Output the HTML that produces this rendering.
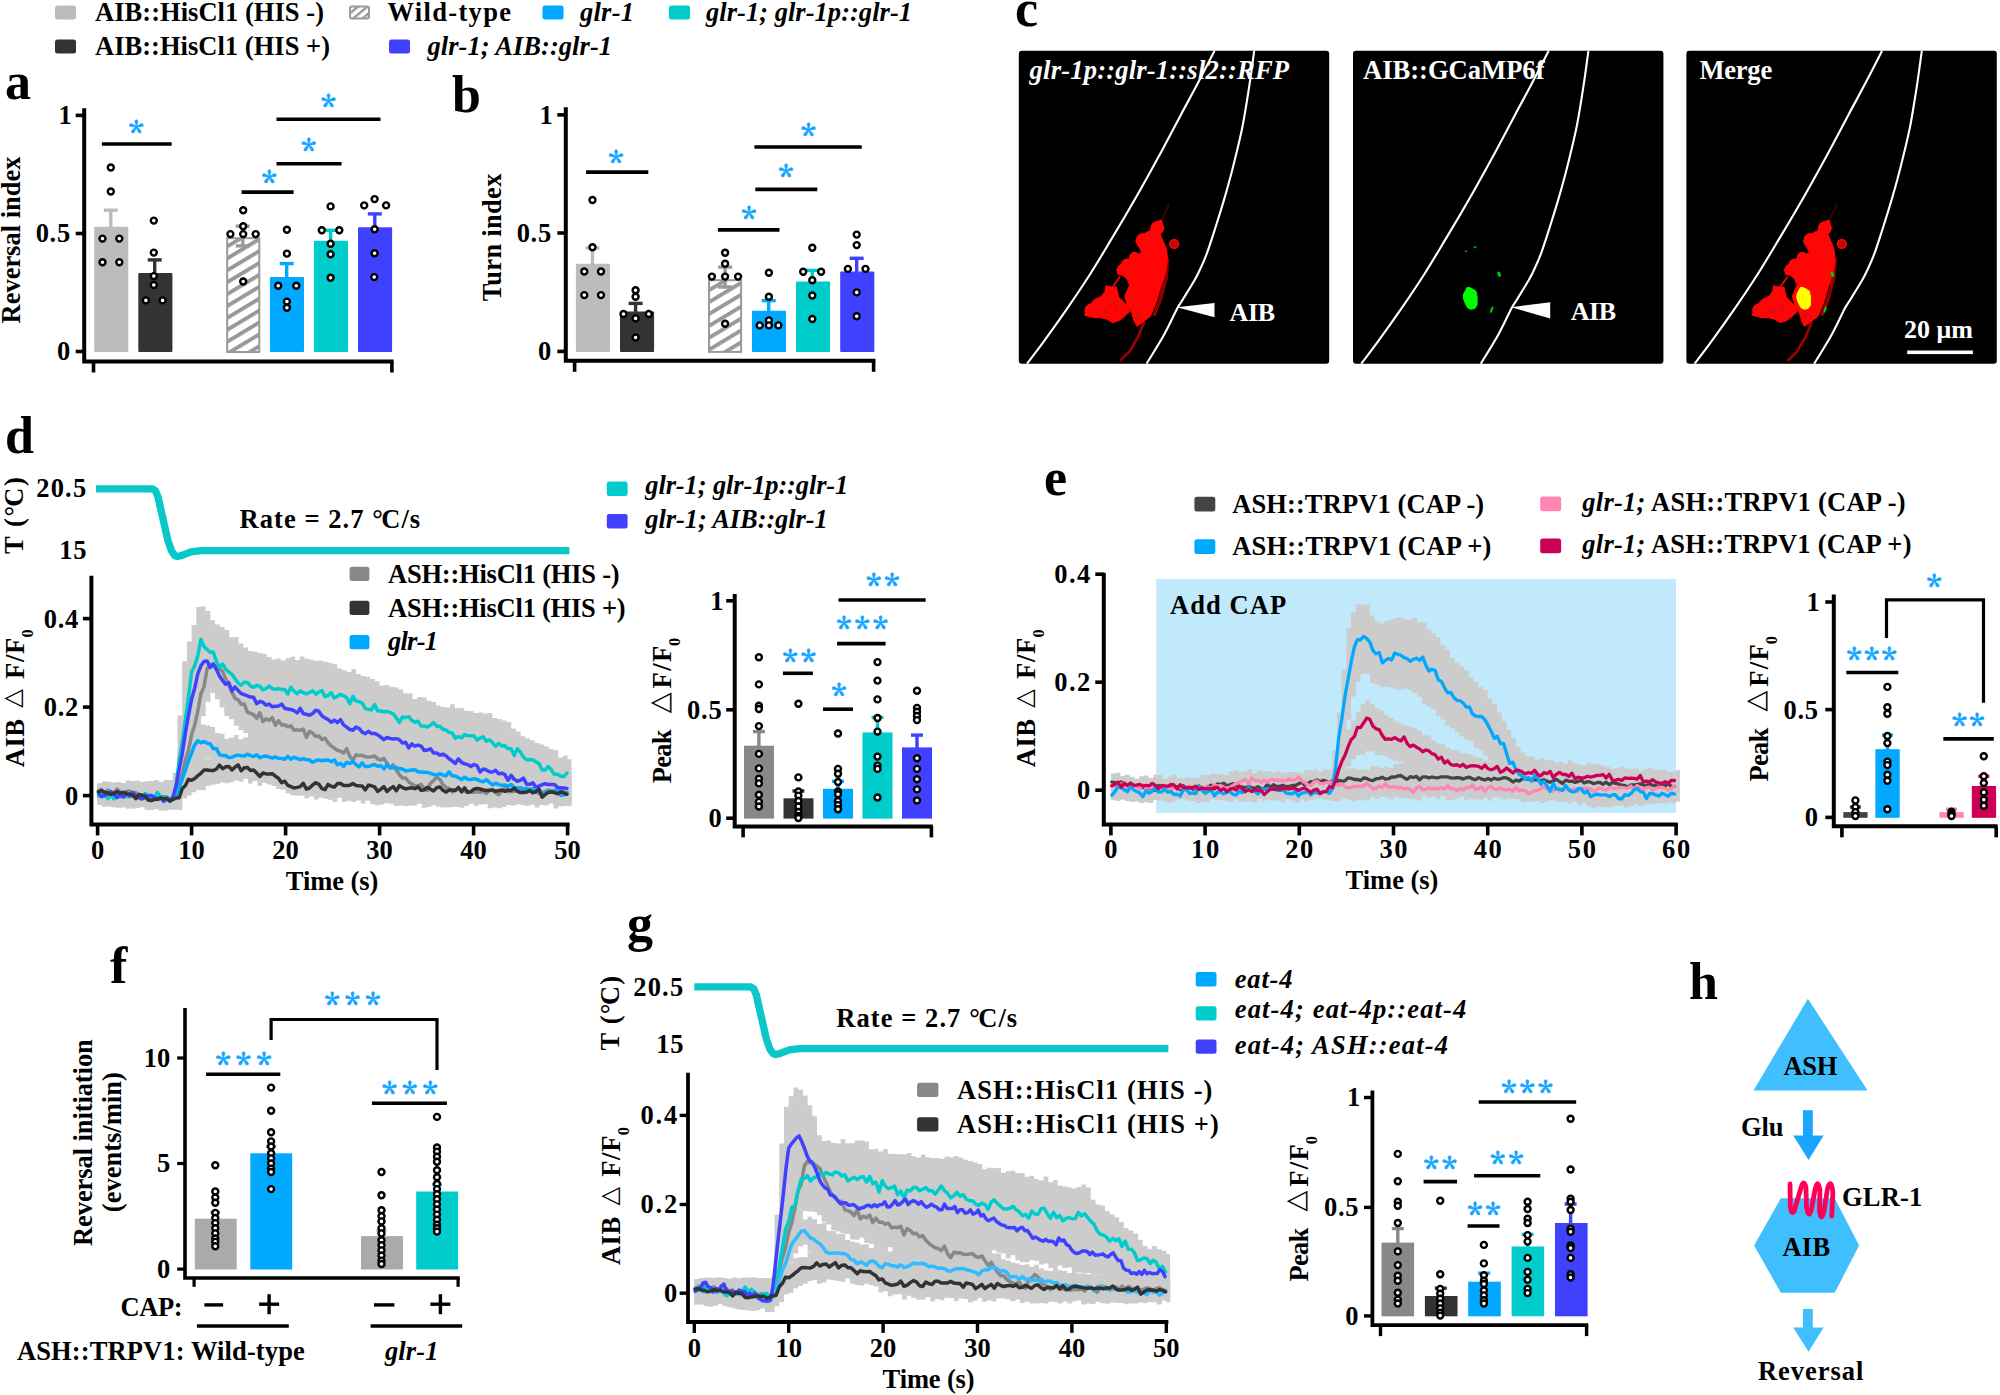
<!DOCTYPE html>
<html><head><meta charset="utf-8"><title>Figure</title>
<style>html,body{margin:0;padding:0;background:#fff;overflow:hidden}svg{display:block}text{font-family:"Liberation Serif",serif;font-weight:bold}.st{font-family:"Noto Serif CJK SC","Liberation Serif",serif}</style>
</head><body>
<svg width="2000" height="1395" viewBox="0 0 2000 1395">
<defs><pattern id="hatch" width="10.2" height="10.2" patternUnits="userSpaceOnUse" patternTransform="rotate(-31)"><rect width="10.2" height="10.2" fill="#fff"/><rect y="0" width="10.2" height="3.9" fill="#999"/></pattern><pattern id="hatch2" width="6" height="6" patternUnits="userSpaceOnUse" patternTransform="rotate(-40)"><rect width="6" height="6" fill="#fff"/><rect y="0" width="6" height="2.4" fill="#999"/></pattern></defs>
<rect x="55.0" y="5.5" width="21.0" height="14.0" fill="#bcbcbc" rx="2.5" />
<rect x="55.0" y="39.5" width="21.0" height="14.0" fill="#333333" rx="2.5" />
<rect x="542.5" y="5.5" width="21.0" height="14.0" fill="#00a9ff" rx="2.5" />
<rect x="669.0" y="5.5" width="21.0" height="14.0" fill="#00cdcb" rx="2.5" />
<rect x="389.0" y="39.5" width="21.0" height="14.0" fill="#4040ff" rx="2.5" />
<rect x="350" y="6.5" width="19" height="12" rx="2" fill="url(#hatch2)" stroke="#999" stroke-width="2"/>
<text x="95.0" y="20.5" font-size="26.5" textLength="229.0" lengthAdjust="spacing">AIB::HisCl1 (HIS -)</text>
<text x="95.0" y="54.5" font-size="26.5" textLength="235.0" lengthAdjust="spacing">AIB::HisCl1 (HIS +)</text>
<text x="387.5" y="20.5" font-size="26.5" textLength="123.5" lengthAdjust="spacing">Wild-type</text>
<text x="580.0" y="20.5" font-size="26.5" font-style="italic" textLength="54.0" lengthAdjust="spacing">glr-1</text>
<text x="706.0" y="20.5" font-size="26.5" font-style="italic" textLength="206.0" lengthAdjust="spacing">glr-1; glr-1p::glr-1</text>
<text x="427.5" y="54.5" font-size="26.5" font-style="italic" textLength="184.5" lengthAdjust="spacing">glr-1; AIB::glr-1</text>
<text x="5.0" y="99.0" font-size="52">a</text>
<path d="M84.2 108.3V361.5H393.5" fill="none" stroke="#000" stroke-width="4.0" stroke-linecap="butt" stroke-linejoin="miter"/>
<line x1="75.7" y1="115.4" x2="84.2" y2="115.4" stroke="#000" stroke-width="3.6" stroke-linecap="butt"/>
<line x1="75.7" y1="233.5" x2="84.2" y2="233.5" stroke="#000" stroke-width="3.6" stroke-linecap="butt"/>
<line x1="75.7" y1="351.5" x2="84.2" y2="351.5" stroke="#000" stroke-width="3.6" stroke-linecap="butt"/>
<line x1="93.5" y1="361.5" x2="93.5" y2="372.5" stroke="#000" stroke-width="3.6" stroke-linecap="butt"/>
<line x1="391.9" y1="361.5" x2="391.9" y2="372.5" stroke="#000" stroke-width="3.6" stroke-linecap="butt"/>
<text x="71.8" y="124.3" font-size="26.5" text-anchor="end">1</text>
<text x="70.9" y="242.4" font-size="26.5" text-anchor="end" letter-spacing="0.7">0.5</text>
<text x="70.2" y="360.4" font-size="26.5" text-anchor="end">0</text>
<text x="19.7" y="240.0" font-size="26.5" text-anchor="middle" textLength="167.0" lengthAdjust="spacing" transform="rotate(-90 19.7 240.0)">Reversal index</text>
<rect x="94.2" y="226.8" width="34.1" height="125.2" fill="#bcbcbc" rx="1" />
<rect x="138.3" y="273.0" width="34.1" height="79.0" fill="#333333" rx="1" />
<rect x="227.2" y="238.2" width="32.1" height="113.8" fill="url(#hatch)" stroke="#999" stroke-width="2"/>
<rect x="269.9" y="277.1" width="34.1" height="74.9" fill="#00a9ff" rx="1" />
<rect x="313.9" y="240.7" width="34.1" height="111.3" fill="#00cdcb" rx="1" />
<rect x="358.0" y="227.2" width="34.1" height="124.8" fill="#4040ff" rx="1" />
<line x1="110.8" y1="210.2" x2="110.8" y2="227.8" stroke="#bcbcbc" stroke-width="3.4" stroke-linecap="butt"/>
<line x1="103.8" y1="210.2" x2="117.8" y2="210.2" stroke="#bcbcbc" stroke-width="3.4" stroke-linecap="butt"/>
<line x1="154.7" y1="259.9" x2="154.7" y2="274.0" stroke="#333333" stroke-width="3.4" stroke-linecap="butt"/>
<line x1="147.7" y1="259.9" x2="161.7" y2="259.9" stroke="#333333" stroke-width="3.4" stroke-linecap="butt"/>
<line x1="242.8" y1="226.2" x2="242.8" y2="245.9" stroke="#999" stroke-width="3.4" stroke-linecap="butt"/>
<line x1="235.8" y1="226.2" x2="249.8" y2="226.2" stroke="#999" stroke-width="3.4" stroke-linecap="butt"/>
<line x1="235.8" y1="245.9" x2="249.8" y2="245.9" stroke="#999" stroke-width="3.4" stroke-linecap="butt"/>
<line x1="286.7" y1="263.6" x2="286.7" y2="278.1" stroke="#00a9ff" stroke-width="3.4" stroke-linecap="butt"/>
<line x1="279.7" y1="263.6" x2="293.7" y2="263.6" stroke="#00a9ff" stroke-width="3.4" stroke-linecap="butt"/>
<line x1="330.6" y1="230.3" x2="330.6" y2="241.7" stroke="#00cdcb" stroke-width="3.4" stroke-linecap="butt"/>
<line x1="323.6" y1="230.3" x2="337.6" y2="230.3" stroke="#00cdcb" stroke-width="3.4" stroke-linecap="butt"/>
<line x1="374.8" y1="213.9" x2="374.8" y2="228.2" stroke="#4040ff" stroke-width="3.4" stroke-linecap="butt"/>
<line x1="367.8" y1="213.9" x2="381.8" y2="213.9" stroke="#4040ff" stroke-width="3.4" stroke-linecap="butt"/>
<circle cx="110.8" cy="167.5" r="3.0" fill="#fff" stroke="#000" stroke-width="2.4"/>
<circle cx="110.8" cy="191.5" r="3.0" fill="#fff" stroke="#000" stroke-width="2.4"/>
<circle cx="102.5" cy="238.6" r="3.0" fill="#fff" stroke="#000" stroke-width="2.4"/>
<circle cx="119.3" cy="238.6" r="3.0" fill="#fff" stroke="#000" stroke-width="2.4"/>
<circle cx="102.5" cy="262.3" r="3.0" fill="#fff" stroke="#000" stroke-width="2.4"/>
<circle cx="119.3" cy="262.3" r="3.0" fill="#fff" stroke="#000" stroke-width="2.4"/>
<circle cx="153.8" cy="220.6" r="3.0" fill="#fff" stroke="#000" stroke-width="2.4"/>
<circle cx="153.8" cy="252.6" r="3.0" fill="#fff" stroke="#000" stroke-width="2.4"/>
<circle cx="153.8" cy="276.1" r="3.0" fill="#fff" stroke="#000" stroke-width="2.4"/>
<circle cx="153.8" cy="285.0" r="3.0" fill="#fff" stroke="#000" stroke-width="2.4"/>
<circle cx="145.9" cy="300.4" r="3.0" fill="#fff" stroke="#000" stroke-width="2.4"/>
<circle cx="162.6" cy="300.4" r="3.0" fill="#fff" stroke="#000" stroke-width="2.4"/>
<circle cx="243.2" cy="210.2" r="3.0" fill="#fff" stroke="#000" stroke-width="2.4"/>
<circle cx="243.2" cy="226.2" r="3.0" fill="#fff" stroke="#000" stroke-width="2.4"/>
<circle cx="230.4" cy="234.1" r="3.0" fill="#fff" stroke="#000" stroke-width="2.4"/>
<circle cx="243.2" cy="234.1" r="3.0" fill="#fff" stroke="#000" stroke-width="2.4"/>
<circle cx="255.7" cy="234.1" r="3.0" fill="#fff" stroke="#000" stroke-width="2.4"/>
<circle cx="243.2" cy="281.5" r="3.0" fill="#fff" stroke="#000" stroke-width="2.4"/>
<circle cx="286.9" cy="229.7" r="3.0" fill="#fff" stroke="#000" stroke-width="2.4"/>
<circle cx="286.9" cy="253.6" r="3.0" fill="#fff" stroke="#000" stroke-width="2.4"/>
<circle cx="278.2" cy="285.8" r="3.0" fill="#fff" stroke="#000" stroke-width="2.4"/>
<circle cx="296.3" cy="285.8" r="3.0" fill="#fff" stroke="#000" stroke-width="2.4"/>
<circle cx="286.9" cy="301.6" r="3.0" fill="#fff" stroke="#000" stroke-width="2.4"/>
<circle cx="286.9" cy="307.7" r="3.0" fill="#fff" stroke="#000" stroke-width="2.4"/>
<circle cx="330.6" cy="206.4" r="3.0" fill="#fff" stroke="#000" stroke-width="2.4"/>
<circle cx="321.8" cy="230.3" r="3.0" fill="#fff" stroke="#000" stroke-width="2.4"/>
<circle cx="339.3" cy="230.3" r="3.0" fill="#fff" stroke="#000" stroke-width="2.4"/>
<circle cx="330.6" cy="243.8" r="3.0" fill="#fff" stroke="#000" stroke-width="2.4"/>
<circle cx="330.6" cy="254.2" r="3.0" fill="#fff" stroke="#000" stroke-width="2.4"/>
<circle cx="330.6" cy="277.7" r="3.0" fill="#fff" stroke="#000" stroke-width="2.4"/>
<circle cx="374.6" cy="199.1" r="3.0" fill="#fff" stroke="#000" stroke-width="2.4"/>
<circle cx="364.2" cy="205.4" r="3.0" fill="#fff" stroke="#000" stroke-width="2.4"/>
<circle cx="386.1" cy="205.4" r="3.0" fill="#fff" stroke="#000" stroke-width="2.4"/>
<circle cx="374.6" cy="229.3" r="3.0" fill="#fff" stroke="#000" stroke-width="2.4"/>
<circle cx="374.6" cy="253.2" r="3.0" fill="#fff" stroke="#000" stroke-width="2.4"/>
<circle cx="374.2" cy="277.1" r="3.0" fill="#fff" stroke="#000" stroke-width="2.4"/>
<line x1="101.9" y1="144.0" x2="171.7" y2="144.0" stroke="#000" stroke-width="3.6" stroke-linecap="butt"/>
<line x1="241.6" y1="192.1" x2="293.6" y2="192.1" stroke="#000" stroke-width="3.6" stroke-linecap="butt"/>
<line x1="276.5" y1="163.8" x2="341.6" y2="163.8" stroke="#000" stroke-width="3.6" stroke-linecap="butt"/>
<line x1="276.5" y1="119.3" x2="380.5" y2="119.3" stroke="#000" stroke-width="3.6" stroke-linecap="butt"/>
<text x="137.9" y="144.7" font-size="30.5" text-anchor="middle" fill="#12a5ff" stroke="#12a5ff" stroke-width="0.5" class="st" letter-spacing="3.4">*</text>
<text x="270.9" y="195.2" font-size="30.5" text-anchor="middle" fill="#12a5ff" stroke="#12a5ff" stroke-width="0.5" class="st" letter-spacing="3.4">*</text>
<text x="310.4" y="162.8" font-size="30.5" text-anchor="middle" fill="#12a5ff" stroke="#12a5ff" stroke-width="0.5" class="st" letter-spacing="3.4">*</text>
<text x="330.2" y="118.7" font-size="30.5" text-anchor="middle" fill="#12a5ff" stroke="#12a5ff" stroke-width="0.5" class="st" letter-spacing="3.4">*</text>
<text x="452.0" y="112.0" font-size="52">b</text>
<path d="M565.8 107.2V360.8H875.4" fill="none" stroke="#000" stroke-width="4.0" stroke-linecap="butt" stroke-linejoin="miter"/>
<line x1="557.3" y1="114.9" x2="565.8" y2="114.9" stroke="#000" stroke-width="3.6" stroke-linecap="butt"/>
<line x1="557.3" y1="233.0" x2="565.8" y2="233.0" stroke="#000" stroke-width="3.6" stroke-linecap="butt"/>
<line x1="557.3" y1="351.4" x2="565.8" y2="351.4" stroke="#000" stroke-width="3.6" stroke-linecap="butt"/>
<line x1="574.6" y1="360.8" x2="574.6" y2="371.8" stroke="#000" stroke-width="3.6" stroke-linecap="butt"/>
<line x1="873.6" y1="360.8" x2="873.6" y2="371.8" stroke="#000" stroke-width="3.6" stroke-linecap="butt"/>
<text x="552.8" y="123.8" font-size="26.5" text-anchor="end">1</text>
<text x="551.9" y="241.9" font-size="26.5" text-anchor="end" letter-spacing="0.7">0.5</text>
<text x="551.2" y="360.3" font-size="26.5" text-anchor="end">0</text>
<text x="501.0" y="237.4" font-size="26.5" text-anchor="middle" textLength="127.6" lengthAdjust="spacing" transform="rotate(-90 501.0 237.4)">Turn index</text>
<rect x="575.9" y="263.8" width="34.1" height="88.1" fill="#bcbcbc" rx="1" />
<rect x="620.0" y="311.6" width="34.1" height="40.3" fill="#333333" rx="1" />
<rect x="709.0" y="280.2" width="32.1" height="71.7" fill="url(#hatch)" stroke="#999" stroke-width="2"/>
<rect x="752.0" y="310.7" width="34.1" height="41.2" fill="#00a9ff" rx="1" />
<rect x="796.0" y="281.4" width="34.1" height="70.5" fill="#00cdcb" rx="1" />
<rect x="840.2" y="271.5" width="34.1" height="80.4" fill="#4040ff" rx="1" />
<line x1="592.5" y1="248.0" x2="592.5" y2="264.8" stroke="#bcbcbc" stroke-width="3.4" stroke-linecap="butt"/>
<line x1="585.5" y1="248.0" x2="599.5" y2="248.0" stroke="#bcbcbc" stroke-width="3.4" stroke-linecap="butt"/>
<line x1="635.6" y1="303.4" x2="635.6" y2="312.6" stroke="#333333" stroke-width="3.4" stroke-linecap="butt"/>
<line x1="628.6" y1="303.4" x2="642.6" y2="303.4" stroke="#333333" stroke-width="3.4" stroke-linecap="butt"/>
<line x1="725.1" y1="267.1" x2="725.1" y2="287.0" stroke="#999" stroke-width="3.4" stroke-linecap="butt"/>
<line x1="718.1" y1="267.1" x2="732.1" y2="267.1" stroke="#999" stroke-width="3.4" stroke-linecap="butt"/>
<line x1="718.1" y1="287.0" x2="732.1" y2="287.0" stroke="#999" stroke-width="3.4" stroke-linecap="butt"/>
<line x1="768.7" y1="300.6" x2="768.7" y2="311.7" stroke="#00a9ff" stroke-width="3.4" stroke-linecap="butt"/>
<line x1="761.7" y1="300.6" x2="775.7" y2="300.6" stroke="#00a9ff" stroke-width="3.4" stroke-linecap="butt"/>
<line x1="812.3" y1="270.4" x2="812.3" y2="282.4" stroke="#00cdcb" stroke-width="3.4" stroke-linecap="butt"/>
<line x1="805.3" y1="270.4" x2="819.3" y2="270.4" stroke="#00cdcb" stroke-width="3.4" stroke-linecap="butt"/>
<line x1="856.7" y1="258.3" x2="856.7" y2="272.5" stroke="#4040ff" stroke-width="3.4" stroke-linecap="butt"/>
<line x1="849.7" y1="258.3" x2="863.7" y2="258.3" stroke="#4040ff" stroke-width="3.4" stroke-linecap="butt"/>
<circle cx="592.5" cy="200.0" r="3.0" fill="#fff" stroke="#000" stroke-width="2.4"/>
<circle cx="592.5" cy="247.3" r="3.0" fill="#fff" stroke="#000" stroke-width="2.4"/>
<circle cx="584.3" cy="271.5" r="3.0" fill="#fff" stroke="#000" stroke-width="2.4"/>
<circle cx="601.0" cy="271.5" r="3.0" fill="#fff" stroke="#000" stroke-width="2.4"/>
<circle cx="584.3" cy="295.1" r="3.0" fill="#fff" stroke="#000" stroke-width="2.4"/>
<circle cx="601.0" cy="295.1" r="3.0" fill="#fff" stroke="#000" stroke-width="2.4"/>
<circle cx="635.6" cy="290.2" r="3.0" fill="#fff" stroke="#000" stroke-width="2.4"/>
<circle cx="635.6" cy="296.8" r="3.0" fill="#fff" stroke="#000" stroke-width="2.4"/>
<circle cx="623.5" cy="314.0" r="3.0" fill="#fff" stroke="#000" stroke-width="2.4"/>
<circle cx="648.8" cy="314.0" r="3.0" fill="#fff" stroke="#000" stroke-width="2.4"/>
<circle cx="635.6" cy="318.4" r="3.0" fill="#fff" stroke="#000" stroke-width="2.4"/>
<circle cx="635.6" cy="337.5" r="3.0" fill="#fff" stroke="#000" stroke-width="2.4"/>
<circle cx="725.1" cy="252.8" r="3.0" fill="#fff" stroke="#000" stroke-width="2.4"/>
<circle cx="725.1" cy="263.8" r="3.0" fill="#fff" stroke="#000" stroke-width="2.4"/>
<circle cx="711.9" cy="276.6" r="3.0" fill="#fff" stroke="#000" stroke-width="2.4"/>
<circle cx="725.1" cy="276.6" r="3.0" fill="#fff" stroke="#000" stroke-width="2.4"/>
<circle cx="738.1" cy="276.6" r="3.0" fill="#fff" stroke="#000" stroke-width="2.4"/>
<circle cx="725.1" cy="323.7" r="3.0" fill="#fff" stroke="#000" stroke-width="2.4"/>
<circle cx="768.9" cy="272.8" r="3.0" fill="#fff" stroke="#000" stroke-width="2.4"/>
<circle cx="768.9" cy="296.8" r="3.0" fill="#fff" stroke="#000" stroke-width="2.4"/>
<circle cx="768.9" cy="320.4" r="3.0" fill="#fff" stroke="#000" stroke-width="2.4"/>
<circle cx="759.7" cy="325.4" r="3.0" fill="#fff" stroke="#000" stroke-width="2.4"/>
<circle cx="768.9" cy="325.4" r="3.0" fill="#fff" stroke="#000" stroke-width="2.4"/>
<circle cx="778.4" cy="325.4" r="3.0" fill="#fff" stroke="#000" stroke-width="2.4"/>
<circle cx="812.3" cy="247.8" r="3.0" fill="#fff" stroke="#000" stroke-width="2.4"/>
<circle cx="803.2" cy="271.7" r="3.0" fill="#fff" stroke="#000" stroke-width="2.4"/>
<circle cx="821.1" cy="271.7" r="3.0" fill="#fff" stroke="#000" stroke-width="2.4"/>
<circle cx="812.3" cy="280.3" r="3.0" fill="#fff" stroke="#000" stroke-width="2.4"/>
<circle cx="812.3" cy="295.5" r="3.0" fill="#fff" stroke="#000" stroke-width="2.4"/>
<circle cx="812.3" cy="319.0" r="3.0" fill="#fff" stroke="#000" stroke-width="2.4"/>
<circle cx="856.7" cy="234.6" r="3.0" fill="#fff" stroke="#000" stroke-width="2.4"/>
<circle cx="856.7" cy="245.1" r="3.0" fill="#fff" stroke="#000" stroke-width="2.4"/>
<circle cx="847.9" cy="268.9" r="3.0" fill="#fff" stroke="#000" stroke-width="2.4"/>
<circle cx="865.5" cy="268.9" r="3.0" fill="#fff" stroke="#000" stroke-width="2.4"/>
<circle cx="856.7" cy="292.4" r="3.0" fill="#fff" stroke="#000" stroke-width="2.4"/>
<circle cx="856.7" cy="316.2" r="3.0" fill="#fff" stroke="#000" stroke-width="2.4"/>
<line x1="586.1" y1="172.1" x2="648.3" y2="172.1" stroke="#000" stroke-width="3.6" stroke-linecap="butt"/>
<line x1="717.9" y1="229.9" x2="779.5" y2="229.9" stroke="#000" stroke-width="3.6" stroke-linecap="butt"/>
<line x1="755.3" y1="189.4" x2="817.3" y2="189.4" stroke="#000" stroke-width="3.6" stroke-linecap="butt"/>
<line x1="754.4" y1="147.0" x2="861.8" y2="147.0" stroke="#000" stroke-width="3.6" stroke-linecap="butt"/>
<text x="617.5" y="175.4" font-size="30.5" text-anchor="middle" fill="#12a5ff" stroke="#12a5ff" stroke-width="0.5" class="st" letter-spacing="3.4">*</text>
<text x="750.6" y="230.9" font-size="30.5" text-anchor="middle" fill="#12a5ff" stroke="#12a5ff" stroke-width="0.5" class="st" letter-spacing="3.4">*</text>
<text x="787.6" y="188.6" font-size="30.5" text-anchor="middle" fill="#12a5ff" stroke="#12a5ff" stroke-width="0.5" class="st" letter-spacing="3.4">*</text>
<text x="810.0" y="147.9" font-size="30.5" text-anchor="middle" fill="#12a5ff" stroke="#12a5ff" stroke-width="0.5" class="st" letter-spacing="3.4">*</text>
<text x="1015.0" y="26.0" font-size="52">c</text>
<rect x="1018.8" y="50.8" width="310.4" height="312.9" fill="#000" rx="3" />
<polyline points="1167.5,258.5 1166.2,278.0 1160.2,299.9 1154.1,315.7" fill="none" stroke="#900000" stroke-width="3.5" stroke-linejoin="round"/>
<polyline points="1144.3,321.8 1138.2,336.5 1129.7,351.1 1120.0,360.8" fill="none" stroke="#a00000" stroke-width="2.6" stroke-linejoin="round"/>
<polyline points="1161.4,220.1 1166.2,211.0 1169.3,203.7" fill="none" stroke="#500000" stroke-width="1.5"/>
<polygon points="1161.4,220.1 1163.8,228.6 1160.2,234.1 1162.6,240.2 1166.2,248.7 1167.5,258.5 1166.2,268.2 1163.8,278.0 1160.2,287.7 1157.7,297.5 1154.1,307.2 1150.4,315.7 1143.1,321.8 1137.0,326.1 1134.0,320.6 1132.1,313.3 1130.3,309.6 1127.3,304.8 1124.8,296.2 1129.7,285.3 1127.3,279.2 1123.6,275.5 1118.1,274.3 1116.9,269.4 1121.2,264.6 1123.6,260.9 1128.5,259.1 1133.4,258.5 1138.2,254.8 1141.9,252.4 1139.4,247.5 1135.8,241.4 1139.4,237.8 1145.5,235.3 1150.4,231.7 1151.6,225.6 1156.5,221.9" fill="#ff0505" stroke="#ff0505" stroke-width="1.2" stroke-linejoin="round"/>
<polygon points="1105.9,285.9 1112.0,287.7 1116.3,287.1 1118.7,297.5 1122.4,301.1 1127.3,306.0 1130.3,310.3 1123.6,317.0 1118.7,320.6 1112.6,322.4 1106.5,318.8 1100.5,317.6 1094.4,317.6 1084.6,315.1 1088.3,307.2 1094.4,299.9 1101.7,296.2 1105.3,291.4" fill="#ff0505" stroke="#ff0505" stroke-width="1.2" stroke-linejoin="round"/>
<polyline points="1112.0,288.0 1120.0,276.5" fill="none" stroke="#ff0505" stroke-width="1.6"/>
<circle cx="1157.1" cy="228.0" r="6.7" fill="#ff0505"/>
<circle cx="1143.1" cy="240.2" r="7.3" fill="#ff0505"/>
<circle cx="1150.4" cy="236.5" r="6.1" fill="#ff0505"/>
<circle cx="1127.3" cy="264.6" r="6.1" fill="#ff0505"/>
<circle cx="1121.8" cy="268.8" r="4.6" fill="#ff0505"/>
<circle cx="1134.6" cy="257.3" r="5.5" fill="#ff0505"/>
<circle cx="1110.2" cy="290.8" r="4.6" fill="#ff0505"/>
<circle cx="1091.3" cy="310.3" r="6.7" fill="#ff0505"/>
<circle cx="1104.7" cy="311.5" r="6.7" fill="#ff0505"/>
<circle cx="1115.7" cy="308.4" r="6.3" fill="#ff0505"/>
<circle cx="1138.8" cy="316.3" r="5.8" fill="#ff0505"/>
<circle cx="1145.5" cy="314.5" r="4.9" fill="#ff0505"/>
<circle cx="1125.4" cy="310.3" r="3.7" fill="#ff0505"/>
<circle cx="1174.2" cy="243.9" r="4.3" fill="#c00808" stroke="#e80808" stroke-width="1.8"/>
<circle cx="1105.3" cy="311.1" r="2.4" fill="#d41010"/>
<circle cx="1115.3" cy="308.4" r="2.2" fill="#d41010"/>
<circle cx="1138.2" cy="315.7" r="2.2" fill="#d41010"/>
<path d="M1214.5 50.8C1211.6 56.4 1202.7 73.9 1197.1 84.6C1191.5 95.3 1187.0 103.2 1180.8 114.9C1174.6 126.6 1167.2 140.9 1159.8 154.5C1152.4 168.1 1144.3 182.8 1136.5 196.4C1128.7 210.0 1121.0 223.1 1113.2 236.1C1105.4 249.1 1097.7 262.3 1089.9 274.5C1082.1 286.7 1074.4 298.1 1066.6 309.4C1058.8 320.7 1049.9 333.1 1043.3 342.1C1036.7 351.2 1029.7 360.1 1027.0 363.7" fill="none" stroke="#fff" stroke-width="2.1"/>
<path d="M1254.2 50.8C1253.4 56.4 1251.5 72.0 1249.5 84.6C1247.5 97.2 1245.2 112.9 1242.5 126.5C1239.8 140.1 1236.1 154.5 1233.2 166.2C1230.3 177.8 1227.9 186.3 1225.0 196.4C1222.1 206.5 1218.8 217.0 1215.7 226.7C1212.6 236.4 1209.3 246.9 1206.4 254.7C1203.5 262.5 1200.5 268.4 1198.2 273.3C1195.9 278.2 1194.9 279.5 1192.4 283.8C1189.9 288.1 1185.6 294.9 1183.1 299.0C1180.6 303.1 1180.4 302.5 1177.3 308.3C1174.2 314.1 1169.6 324.7 1164.5 333.9C1159.4 343.1 1149.6 358.7 1146.6 363.7" fill="none" stroke="#fff" stroke-width="2.1"/>
<rect x="1353.0" y="50.8" width="310.4" height="312.9" fill="#000" rx="3" />
<polygon points="1467.2,287.2 1470.8,288.0 1475.9,291.1 1477.1,297.0 1477.1,304.9 1474.7,308.5 1470.8,309.3 1467.6,307.7 1465.2,303.3 1463.3,297.8 1463.7,293.9" fill="#0f0" stroke="#0f0" stroke-width="1" stroke-linejoin="round"/>
<ellipse cx="1499.1" cy="274.2" rx="1.6" ry="2.8" fill="#0c0" transform="rotate(-20 1499.1 274.2)"/>
<ellipse cx="1491.7" cy="309.7" rx="1.1" ry="3.6" fill="#0c0" transform="rotate(20 1491.7 309.7)"/>
<ellipse cx="1475.1" cy="247.2" rx="1.6" ry="1" fill="#0a0" transform="rotate(20 1475.1 247.2)"/>
<ellipse cx="1466.0" cy="251.3" rx="1.2" ry="1.2" fill="#070" transform="rotate(0 1466.0 251.3)"/>
<path d="M1548.7 50.8C1545.8 56.4 1536.9 73.9 1531.3 84.6C1525.7 95.3 1521.2 103.2 1515.0 114.9C1508.8 126.6 1501.4 140.9 1494.0 154.5C1486.6 168.1 1478.5 182.8 1470.7 196.4C1462.9 210.0 1455.2 223.1 1447.4 236.1C1439.6 249.1 1431.9 262.3 1424.1 274.5C1416.3 286.7 1408.6 298.1 1400.8 309.4C1393.0 320.7 1384.1 333.1 1377.5 342.1C1370.9 351.2 1363.9 360.1 1361.2 363.7" fill="none" stroke="#fff" stroke-width="2.1"/>
<path d="M1588.4 50.8C1587.6 56.4 1585.7 72.0 1583.7 84.6C1581.8 97.2 1579.4 112.9 1576.7 126.5C1574.0 140.1 1570.3 154.5 1567.4 166.2C1564.5 177.8 1562.1 186.3 1559.2 196.4C1556.3 206.5 1553.0 217.0 1549.9 226.7C1546.8 236.4 1543.5 246.9 1540.6 254.7C1537.7 262.5 1534.7 268.4 1532.4 273.3C1530.1 278.2 1529.1 279.5 1526.6 283.8C1524.1 288.1 1519.8 294.9 1517.3 299.0C1514.8 303.1 1514.6 302.5 1511.5 308.3C1508.4 314.1 1503.8 324.7 1498.7 333.9C1493.6 343.1 1483.8 358.7 1480.8 363.7" fill="none" stroke="#fff" stroke-width="2.1"/>
<rect x="1686.4" y="50.8" width="310.4" height="312.9" fill="#000" rx="3" />
<polyline points="1835.1,258.5 1833.8,278.0 1827.8,299.9 1821.7,315.7" fill="none" stroke="#900000" stroke-width="3.5" stroke-linejoin="round"/>
<polyline points="1811.9,321.8 1805.8,336.5 1797.3,351.1 1787.6,360.8" fill="none" stroke="#a00000" stroke-width="2.6" stroke-linejoin="round"/>
<polyline points="1829.0,220.1 1833.8,211.0 1836.9,203.7" fill="none" stroke="#500000" stroke-width="1.5"/>
<polygon points="1829.0,220.1 1831.4,228.6 1827.8,234.1 1830.2,240.2 1833.8,248.7 1835.1,258.5 1833.8,268.2 1831.4,278.0 1827.8,287.7 1825.3,297.5 1821.7,307.2 1818.0,315.7 1810.7,321.8 1804.6,326.1 1801.6,320.6 1799.7,313.3 1797.9,309.6 1794.9,304.8 1792.4,296.2 1797.3,285.3 1794.9,279.2 1791.2,275.5 1785.7,274.3 1784.5,269.4 1788.8,264.6 1791.2,260.9 1796.1,259.1 1801.0,258.5 1805.8,254.8 1809.5,252.4 1807.0,247.5 1803.4,241.4 1807.0,237.8 1813.1,235.3 1818.0,231.7 1819.2,225.6 1824.1,221.9" fill="#ff0505" stroke="#ff0505" stroke-width="1.2" stroke-linejoin="round"/>
<polygon points="1773.5,285.9 1779.6,287.7 1783.9,287.1 1786.3,297.5 1790.0,301.1 1794.9,306.0 1797.9,310.3 1791.2,317.0 1786.3,320.6 1780.2,322.4 1774.1,318.8 1768.1,317.6 1762.0,317.6 1752.2,315.1 1755.9,307.2 1762.0,299.9 1769.3,296.2 1772.9,291.4" fill="#ff0505" stroke="#ff0505" stroke-width="1.2" stroke-linejoin="round"/>
<polyline points="1779.6,288.0 1787.6,276.5" fill="none" stroke="#ff0505" stroke-width="1.6"/>
<circle cx="1824.7" cy="228.0" r="6.7" fill="#ff0505"/>
<circle cx="1810.7" cy="240.2" r="7.3" fill="#ff0505"/>
<circle cx="1818.0" cy="236.5" r="6.1" fill="#ff0505"/>
<circle cx="1794.9" cy="264.6" r="6.1" fill="#ff0505"/>
<circle cx="1789.4" cy="268.8" r="4.6" fill="#ff0505"/>
<circle cx="1802.2" cy="257.3" r="5.5" fill="#ff0505"/>
<circle cx="1777.8" cy="290.8" r="4.6" fill="#ff0505"/>
<circle cx="1758.9" cy="310.3" r="6.7" fill="#ff0505"/>
<circle cx="1772.3" cy="311.5" r="6.7" fill="#ff0505"/>
<circle cx="1783.3" cy="308.4" r="6.3" fill="#ff0505"/>
<circle cx="1806.4" cy="316.3" r="5.8" fill="#ff0505"/>
<circle cx="1813.1" cy="314.5" r="4.9" fill="#ff0505"/>
<circle cx="1793.0" cy="310.3" r="3.7" fill="#ff0505"/>
<circle cx="1841.8" cy="243.9" r="4.3" fill="#c00808" stroke="#e80808" stroke-width="1.8"/>
<circle cx="1772.9" cy="311.1" r="2.4" fill="#d41010"/>
<circle cx="1782.9" cy="308.4" r="2.2" fill="#d41010"/>
<circle cx="1805.8" cy="315.7" r="2.2" fill="#d41010"/>
<polygon points="1800.6,287.2 1804.2,288.0 1809.3,291.1 1810.5,297.0 1810.5,304.9 1808.1,308.5 1804.2,309.3 1801.0,307.7 1798.6,303.3 1796.7,297.8 1797.1,293.9" fill="#ff0" stroke="#ff0" stroke-width="1" stroke-linejoin="round"/>
<ellipse cx="1832.5" cy="274.2" rx="1.6" ry="2.8" fill="#0c0" transform="rotate(-20 1832.5 274.2)"/>
<ellipse cx="1825.1" cy="309.7" rx="1.1" ry="3.6" fill="#0c0" transform="rotate(20 1825.1 309.7)"/>
<path d="M1882.1 50.8C1879.2 56.4 1870.3 73.9 1864.7 84.6C1859.1 95.3 1854.6 103.2 1848.4 114.9C1842.2 126.6 1834.8 140.9 1827.4 154.5C1820.0 168.1 1811.9 182.8 1804.1 196.4C1796.3 210.0 1788.6 223.1 1780.8 236.1C1773.0 249.1 1765.3 262.3 1757.5 274.5C1749.7 286.7 1742.0 298.1 1734.2 309.4C1726.4 320.7 1717.5 333.1 1710.9 342.1C1704.3 351.2 1697.3 360.1 1694.6 363.7" fill="none" stroke="#fff" stroke-width="2.1"/>
<path d="M1921.8 50.8C1921.0 56.4 1919.0 72.0 1917.1 84.6C1915.1 97.2 1912.8 112.9 1910.1 126.5C1907.4 140.1 1903.7 154.5 1900.8 166.2C1897.9 177.8 1895.5 186.3 1892.6 196.4C1889.7 206.5 1886.4 217.0 1883.3 226.7C1880.2 236.4 1876.9 246.9 1874.0 254.7C1871.1 262.5 1868.1 268.4 1865.8 273.3C1863.5 278.2 1862.5 279.5 1860.0 283.8C1857.5 288.1 1853.2 294.9 1850.7 299.0C1848.2 303.1 1848.0 302.5 1844.9 308.3C1841.8 314.1 1837.2 324.7 1832.1 333.9C1827.0 343.1 1817.2 358.7 1814.2 363.7" fill="none" stroke="#fff" stroke-width="2.1"/>
<text x="1029.6" y="78.9" font-size="26.6" font-style="italic" fill="#fff" textLength="259.5" lengthAdjust="spacing">glr-1p::glr-1::sl2::RFP</text>
<text x="1363.0" y="78.9" font-size="26.6" fill="#fff" textLength="181.5" lengthAdjust="spacing">AIB::GCaMP6f</text>
<text x="1699.4" y="78.9" font-size="26.6" fill="#fff" textLength="72.8" lengthAdjust="spacing">Merge</text>
<polygon points="1176.9,307.2 1214.5,303.0 1214.5,317.3" fill="#fff"/>
<text x="1229.5" y="320.5" font-size="26" fill="#fff" textLength="45.7" lengthAdjust="spacing">AIB</text>
<polygon points="1511.3,307.2 1550.2,302.2 1550.2,318.5" fill="#fff"/>
<text x="1570.8" y="320.0" font-size="26" fill="#fff" textLength="45.2" lengthAdjust="spacing">AIB</text>
<text x="1903.9" y="338.0" font-size="26" fill="#fff" textLength="69.0" lengthAdjust="spacing">20 μm</text>
<rect x="1907.2" y="350.5" width="65.7" height="3.6" fill="#fff" />
<text x="5.0" y="453.0" font-size="52">d</text>
<polyline points="96.0,488.9 152.4,488.9 155.5,490.9 158.0,496.9 168.0,540.9 171.5,550.9 175.0,555.7 177.5,556.5 182.0,555.4 191.0,551.9 200.8,550.6 569.4,550.6" fill="none" stroke="#0ac8c8" stroke-width="7.4" stroke-linejoin="round"/>
<text x="87.4" y="496.8" font-size="26.5" text-anchor="end" letter-spacing="1.2">20.5</text>
<text x="87.0" y="558.5" font-size="26.5" text-anchor="end" letter-spacing="0.6">15</text>
<text x="22.6" y="515.6" font-size="26.5" text-anchor="middle" textLength="77.0" lengthAdjust="spacing" transform="rotate(-90 22.6 515.6)">T (<tspan letter-spacing="-2.6">°</tspan>C)</text>
<text x="239.5" y="528.4" font-size="26.5" textLength="180.7" lengthAdjust="spacing">Rate = 2.7 <tspan letter-spacing="-2.6">°</tspan>C/s</text>
<polygon points="97.6,783.2 102.3,783.2 102.3,783.1 107.0,783.1 107.0,781.8 111.7,781.8 111.7,782.5 116.4,782.5 116.4,783.2 121.1,783.2 121.1,784.5 125.8,784.5 125.8,780.5 130.5,780.5 130.5,781.1 135.2,781.1 135.2,783.6 139.9,783.6 139.9,781.9 144.6,781.9 144.6,781.8 149.3,781.8 149.3,784.6 154.0,784.6 154.0,780.0 158.7,780.0 158.7,781.9 163.4,781.9 163.4,785.1 168.1,785.1 168.1,780.0 172.8,780.0 172.8,772.8 177.5,772.8 177.5,715.5 182.2,715.5 182.2,661.2 186.9,661.2 186.9,641.6 191.6,641.6 191.6,625.1 196.3,625.1 196.3,606.9 201.0,606.9 201.0,606.5 205.7,606.5 205.7,611.1 210.4,611.1 210.4,620.3 215.1,620.3 215.1,624.5 219.8,624.5 219.8,626.9 224.5,626.9 224.5,629.9 229.2,629.9 229.2,637.2 233.9,637.2 233.9,637.0 238.6,637.0 238.6,643.6 243.3,643.6 243.3,647.6 248.0,647.6 248.0,650.9 252.7,650.9 252.7,651.7 257.4,651.7 257.4,653.0 262.1,653.0 262.1,653.8 266.8,653.8 266.8,656.9 271.5,656.9 271.5,659.5 276.2,659.5 276.2,658.5 280.9,658.5 280.9,660.6 285.6,660.6 285.6,658.3 290.3,658.3 290.3,656.7 295.0,656.7 295.0,660.1 299.7,660.1 299.7,656.5 304.4,656.5 304.4,658.5 309.1,658.5 309.1,659.8 313.8,659.8 313.8,660.9 318.5,660.9 318.5,660.6 323.2,660.6 323.2,661.8 327.9,661.8 327.9,662.7 332.6,662.7 332.6,664.2 337.3,664.2 337.3,668.4 342.0,668.4 342.0,670.2 346.7,670.2 346.7,671.9 351.4,671.9 351.4,669.3 356.1,669.3 356.1,674.1 360.8,674.1 360.8,675.9 365.5,675.9 365.5,676.8 370.2,676.8 370.2,679.0 374.9,679.0 374.9,681.3 379.6,681.3 379.6,685.8 384.3,685.8 384.3,685.1 389.0,685.1 389.0,686.8 393.7,686.8 393.7,687.6 398.4,687.6 398.4,689.5 403.1,689.5 403.1,693.3 407.8,693.3 407.8,693.6 412.5,693.6 412.5,698.9 417.2,698.9 417.2,696.9 421.9,696.9 421.9,697.6 426.6,697.6 426.6,700.7 431.3,700.7 431.3,702.1 436.0,702.1 436.0,705.4 440.7,705.4 440.7,707.1 445.4,707.1 445.4,707.5 450.1,707.5 450.1,704.3 454.8,704.3 454.8,708.3 459.5,708.3 459.5,708.1 464.2,708.1 464.2,710.7 468.9,710.7 468.9,711.0 473.6,711.0 473.6,713.0 478.3,713.0 478.3,712.5 483.0,712.5 483.0,713.5 487.7,713.5 487.7,713.0 492.4,713.0 492.4,718.1 497.1,718.1 497.1,718.9 501.8,718.9 501.8,720.5 506.5,720.5 506.5,722.0 511.2,722.0 511.2,728.6 515.9,728.6 515.9,731.5 520.6,731.5 520.6,736.2 525.3,736.2 525.3,738.4 530.0,738.4 530.0,740.3 534.7,740.3 534.7,743.0 539.4,743.0 539.4,744.5 544.1,744.5 544.1,746.6 548.8,746.6 548.8,749.1 553.5,749.1 553.5,750.2 558.2,750.2 558.2,757.4 562.9,757.4 562.9,755.5 567.6,755.5 567.6,759.3 571.4,759.3 571.4,794.3 567.6,794.3 567.6,795.1 562.9,795.1 562.9,788.9 558.2,788.9 558.2,787.8 553.5,787.8 553.5,784.7 548.8,784.7 548.8,785.9 544.1,785.9 544.1,782.5 539.4,782.5 539.4,782.0 534.7,782.0 534.7,780.4 530.0,780.4 530.0,777.1 525.3,777.1 525.3,776.9 520.6,776.9 520.6,775.1 515.9,775.1 515.9,773.0 511.2,773.0 511.2,772.2 506.5,772.2 506.5,772.0 501.8,772.0 501.8,773.0 497.1,773.0 497.1,770.0 492.4,770.0 492.4,767.7 487.7,767.7 487.7,765.4 483.0,765.4 483.0,767.8 478.3,767.8 478.3,764.5 473.6,764.5 473.6,765.1 468.9,765.1 468.9,761.4 464.2,761.4 464.2,760.6 459.5,760.6 459.5,757.9 454.8,757.9 454.8,755.6 450.1,755.6 450.1,758.2 445.4,758.2 445.4,756.1 440.7,756.1 440.7,753.8 436.0,753.8 436.0,749.2 431.3,749.2 431.3,751.8 426.6,751.8 426.6,749.7 421.9,749.7 421.9,745.0 417.2,745.0 417.2,744.1 412.5,744.1 412.5,743.1 407.8,743.1 407.8,742.2 403.1,742.2 403.1,740.5 398.4,740.5 398.4,742.0 393.7,742.0 393.7,740.3 389.0,740.3 389.0,738.7 384.3,738.7 384.3,740.0 379.6,740.0 379.6,735.2 374.9,735.2 374.9,736.4 370.2,736.4 370.2,732.6 365.5,732.6 365.5,733.6 360.8,733.6 360.8,732.4 356.1,732.4 356.1,730.8 351.4,730.8 351.4,729.6 346.7,729.6 346.7,730.2 342.0,730.2 342.0,726.5 337.3,726.5 337.3,727.9 332.6,727.9 332.6,722.0 327.9,722.0 327.9,725.8 323.2,725.8 323.2,723.4 318.5,723.4 318.5,723.6 313.8,723.6 313.8,722.9 309.1,722.9 309.1,724.6 304.4,724.6 304.4,721.7 299.7,721.7 299.7,721.3 295.0,721.3 295.0,720.0 290.3,720.0 290.3,721.1 285.6,721.1 285.6,720.8 280.9,720.8 280.9,721.9 276.2,721.9 276.2,720.3 271.5,720.3 271.5,722.2 266.8,722.2 266.8,722.4 262.1,722.4 262.1,721.0 257.4,721.0 257.4,725.0 252.7,725.0 252.7,725.6 248.0,725.6 248.0,723.4 243.3,723.4 243.3,725.9 238.6,725.9 238.6,722.3 233.9,722.3 233.9,714.8 229.2,714.8 229.2,713.0 224.5,713.0 224.5,707.4 219.8,707.4 219.8,699.3 215.1,699.3 215.1,692.7 210.4,692.7 210.4,682.8 205.7,682.8 205.7,676.4 201.0,676.4 201.0,701.8 196.3,701.8 196.3,721.9 191.6,721.9 191.6,739.8 186.9,739.8 186.9,765.2 182.2,765.2 182.2,782.0 177.5,782.0 177.5,797.9 172.8,797.9 172.8,809.8 168.1,809.8 168.1,810.4 163.4,810.4 163.4,810.6 158.7,810.6 158.7,805.4 154.0,805.4 154.0,806.2 149.3,806.2 149.3,806.5 144.6,806.5 144.6,807.3 139.9,807.3 139.9,808.0 135.2,808.0 135.2,806.0 130.5,806.0 130.5,808.7 125.8,808.7 125.8,803.6 121.1,803.6 121.1,806.6 116.4,806.6 116.4,807.2 111.7,807.2 111.7,803.4 107.0,803.4 107.0,806.4 102.3,806.4 102.3,805.0 97.6,805.0" fill="#cccccc"/>
<polygon points="97.6,783.9 102.3,783.9 102.3,781.3 107.0,781.3 107.0,783.4 111.7,783.4 111.7,785.0 116.4,785.0 116.4,782.6 121.1,782.6 121.1,785.4 125.8,785.4 125.8,785.3 130.5,785.3 130.5,782.0 135.2,782.0 135.2,780.4 139.9,780.4 139.9,782.1 144.6,782.1 144.6,784.6 149.3,784.6 149.3,782.6 154.0,782.6 154.0,784.3 158.7,784.3 158.7,785.1 163.4,785.1 163.4,782.8 168.1,782.8 168.1,782.3 172.8,782.3 172.8,782.4 177.5,782.4 177.5,771.1 182.2,771.1 182.2,745.5 186.9,745.5 186.9,723.5 191.6,723.5 191.6,703.6 196.3,703.6 196.3,680.9 201.0,680.9 201.0,655.6 205.7,655.6 205.7,632.4 210.4,632.4 210.4,623.7 215.1,623.7 215.1,635.5 219.8,635.5 219.8,637.3 224.5,637.3 224.5,643.5 229.2,643.5 229.2,655.0 233.9,655.0 233.9,657.9 238.6,657.9 238.6,668.2 243.3,668.2 243.3,670.2 248.0,670.2 248.0,679.4 252.7,679.4 252.7,682.3 257.4,682.3 257.4,681.3 262.1,681.3 262.1,685.4 266.8,685.4 266.8,690.1 271.5,690.1 271.5,693.2 276.2,693.2 276.2,696.0 280.9,696.0 280.9,698.3 285.6,698.3 285.6,697.0 290.3,697.0 290.3,703.2 295.0,703.2 295.0,706.3 299.7,706.3 299.7,705.6 304.4,705.6 304.4,712.2 309.1,712.2 309.1,714.3 313.8,714.3 313.8,714.0 318.5,714.0 318.5,719.2 323.2,719.2 323.2,722.9 327.9,722.9 327.9,724.8 332.6,724.8 332.6,726.1 337.3,726.1 337.3,724.3 342.0,724.3 342.0,727.6 346.7,727.6 346.7,731.1 351.4,731.1 351.4,728.5 356.1,728.5 356.1,733.4 360.8,733.4 360.8,732.1 365.5,732.1 365.5,736.3 370.2,736.3 370.2,734.0 374.9,734.0 374.9,737.8 379.6,737.8 379.6,742.7 384.3,742.7 384.3,746.0 389.0,746.0 389.0,750.4 393.7,750.4 393.7,753.0 398.4,753.0 398.4,759.7 403.1,759.7 403.1,764.7 407.8,764.7 407.8,765.9 412.5,765.9 412.5,769.0 417.2,769.0 417.2,770.7 421.9,770.7 421.9,778.8 426.6,778.8 426.6,774.8 431.3,774.8 431.3,769.6 436.0,769.6 436.0,766.4 440.7,766.4 440.7,772.0 445.4,772.0 445.4,773.1 450.1,773.1 450.1,779.1 454.8,779.1 454.8,784.2 459.5,784.2 459.5,784.9 464.2,784.9 464.2,781.2 468.9,781.2 468.9,784.9 473.6,784.9 473.6,782.4 478.3,782.4 478.3,783.3 483.0,783.3 483.0,784.6 487.7,784.6 487.7,781.1 492.4,781.1 492.4,781.0 497.1,781.0 497.1,780.8 501.8,780.8 501.8,783.1 506.5,783.1 506.5,780.2 511.2,780.2 511.2,782.8 515.9,782.8 515.9,780.4 520.6,780.4 520.6,781.6 525.3,781.6 525.3,781.9 530.0,781.9 530.0,784.5 534.7,784.5 534.7,779.7 539.4,779.7 539.4,781.1 544.1,781.1 544.1,781.1 548.8,781.1 548.8,782.6 553.5,782.6 553.5,784.5 558.2,784.5 558.2,784.8 562.9,784.8 562.9,782.4 567.6,782.4 567.6,781.3 571.4,781.3 571.4,804.5 567.6,804.5 567.6,805.9 562.9,805.9 562.9,803.9 558.2,803.9 558.2,803.1 553.5,803.1 553.5,802.7 548.8,802.7 548.8,804.0 544.1,804.0 544.1,805.1 539.4,805.1 539.4,802.4 534.7,802.4 534.7,803.7 530.0,803.7 530.0,803.9 525.3,803.9 525.3,805.1 520.6,805.1 520.6,804.1 515.9,804.1 515.9,802.9 511.2,802.9 511.2,802.5 506.5,802.5 506.5,803.5 501.8,803.5 501.8,802.3 497.1,802.3 497.1,803.4 492.4,803.4 492.4,802.3 487.7,802.3 487.7,804.2 483.0,804.2 483.0,801.8 478.3,801.8 478.3,803.2 473.6,803.2 473.6,803.7 468.9,803.7 468.9,802.0 464.2,802.0 464.2,802.3 459.5,802.3 459.5,806.9 454.8,806.9 454.8,804.0 450.1,804.0 450.1,803.6 445.4,803.6 445.4,802.4 440.7,802.4 440.7,806.4 436.0,806.4 436.0,805.2 431.3,805.2 431.3,806.8 426.6,806.8 426.6,804.6 421.9,804.6 421.9,802.7 417.2,802.7 417.2,800.1 412.5,800.1 412.5,794.8 407.8,794.8 407.8,795.9 403.1,795.9 403.1,791.1 398.4,791.1 398.4,791.2 393.7,791.2 393.7,786.1 389.0,786.1 389.0,784.5 384.3,784.5 384.3,781.0 379.6,781.0 379.6,784.0 374.9,784.0 374.9,780.4 370.2,780.4 370.2,777.7 365.5,777.7 365.5,776.9 360.8,776.9 360.8,780.0 356.1,780.0 356.1,775.7 351.4,775.7 351.4,778.4 346.7,778.4 346.7,773.7 342.0,773.7 342.0,774.9 337.3,774.9 337.3,774.1 332.6,774.1 332.6,771.8 327.9,771.8 327.9,769.7 323.2,769.7 323.2,770.2 318.5,770.2 318.5,766.6 313.8,766.6 313.8,764.8 309.1,764.8 309.1,758.7 304.4,758.7 304.4,758.3 299.7,758.3 299.7,757.4 295.0,757.4 295.0,752.6 290.3,752.6 290.3,750.8 285.6,750.8 285.6,751.6 280.9,751.6 280.9,749.0 276.2,749.0 276.2,746.0 271.5,746.0 271.5,743.8 266.8,743.8 266.8,743.5 262.1,743.5 262.1,743.1 257.4,743.1 257.4,741.9 252.7,741.9 252.7,739.2 248.0,739.2 248.0,733.0 243.3,733.0 243.3,730.1 238.6,730.1 238.6,725.7 233.9,725.7 233.9,719.2 229.2,719.2 229.2,716.0 224.5,716.0 224.5,707.0 219.8,707.0 219.8,698.9 215.1,698.9 215.1,687.0 210.4,687.0 210.4,701.7 205.7,701.7 205.7,716.2 201.0,716.2 201.0,735.9 196.3,735.9 196.3,756.4 191.6,756.4 191.6,775.3 186.9,775.3 186.9,794.3 182.2,794.3 182.2,810.0 177.5,810.0 177.5,807.7 172.8,807.7 172.8,807.6 168.1,807.6 168.1,806.3 163.4,806.3 163.4,808.0 158.7,808.0 158.7,809.0 154.0,809.0 154.0,809.7 149.3,809.7 149.3,809.7 144.6,809.7 144.6,806.2 139.9,806.2 139.9,804.1 135.2,804.1 135.2,808.8 130.5,808.8 130.5,804.5 125.8,804.5 125.8,806.9 121.1,806.9 121.1,804.0 116.4,804.0 116.4,805.3 111.7,805.3 111.7,804.6 107.0,804.6 107.0,805.0 102.3,805.0 102.3,804.3 97.6,804.3" fill="#cccccc"/>
<polygon points="97.6,783.7 102.3,783.7 102.3,782.6 107.0,782.6 107.0,786.0 111.7,786.0 111.7,784.6 116.4,784.6 116.4,782.3 121.1,782.3 121.1,782.9 125.8,782.9 125.8,785.0 130.5,785.0 130.5,784.8 135.2,784.8 135.2,785.3 139.9,785.3 139.9,785.2 144.6,785.2 144.6,783.7 149.3,783.7 149.3,780.9 154.0,780.9 154.0,785.0 158.7,785.0 158.7,782.5 163.4,782.5 163.4,779.9 168.1,779.9 168.1,784.5 172.8,784.5 172.8,784.3 177.5,784.3 177.5,775.0 182.2,775.0 182.2,761.3 186.9,761.3 186.9,750.8 191.6,750.8 191.6,736.3 196.3,736.3 196.3,726.1 201.0,726.1 201.0,724.4 205.7,724.4 205.7,725.4 210.4,725.4 210.4,727.0 215.1,727.0 215.1,733.0 219.8,733.0 219.8,733.8 224.5,733.8 224.5,738.7 229.2,738.7 229.2,737.5 233.9,737.5 233.9,735.1 238.6,735.1 238.6,739.3 243.3,739.3 243.3,737.3 248.0,737.3 248.0,738.6 252.7,738.6 252.7,738.1 257.4,738.1 257.4,740.1 262.1,740.1 262.1,740.1 266.8,740.1 266.8,741.2 271.5,741.2 271.5,740.0 276.2,740.0 276.2,742.0 280.9,742.0 280.9,741.6 285.6,741.6 285.6,740.6 290.3,740.6 290.3,741.2 295.0,741.2 295.0,743.4 299.7,743.4 299.7,742.9 304.4,742.9 304.4,741.4 309.1,741.4 309.1,745.9 313.8,745.9 313.8,742.4 318.5,742.4 318.5,745.8 323.2,745.8 323.2,747.4 327.9,747.4 327.9,742.9 332.6,742.9 332.6,746.0 337.3,746.0 337.3,747.5 342.0,747.5 342.0,745.4 346.7,745.4 346.7,749.1 351.4,749.1 351.4,748.4 356.1,748.4 356.1,750.1 360.8,750.1 360.8,747.3 365.5,747.3 365.5,751.0 370.2,751.0 370.2,751.6 374.9,751.6 374.9,750.9 379.6,750.9 379.6,750.6 384.3,750.6 384.3,753.6 389.0,753.6 389.0,752.3 393.7,752.3 393.7,756.0 398.4,756.0 398.4,755.2 403.1,755.2 403.1,755.9 407.8,755.9 407.8,756.0 412.5,756.0 412.5,754.9 417.2,754.9 417.2,756.5 421.9,756.5 421.9,758.2 426.6,758.2 426.6,757.9 431.3,757.9 431.3,761.0 436.0,761.0 436.0,759.7 440.7,759.7 440.7,764.3 445.4,764.3 445.4,760.4 450.1,760.4 450.1,761.2 454.8,761.2 454.8,763.9 459.5,763.9 459.5,765.5 464.2,765.5 464.2,766.4 468.9,766.4 468.9,764.1 473.6,764.1 473.6,767.0 478.3,767.0 478.3,770.0 483.0,770.0 483.0,767.7 487.7,767.7 487.7,770.9 492.4,770.9 492.4,771.2 497.1,771.2 497.1,773.0 501.8,773.0 501.8,772.8 506.5,772.8 506.5,771.2 511.2,771.2 511.2,771.1 515.9,771.1 515.9,776.7 520.6,776.7 520.6,775.2 525.3,775.2 525.3,774.8 530.0,774.8 530.0,777.9 534.7,777.9 534.7,774.9 539.4,774.9 539.4,778.8 544.1,778.8 544.1,780.4 548.8,780.4 548.8,781.1 553.5,781.1 553.5,780.4 558.2,780.4 558.2,782.9 562.9,782.9 562.9,781.4 567.6,781.4 567.6,783.6 571.4,783.6 571.4,804.7 567.6,804.7 567.6,802.4 562.9,802.4 562.9,803.8 558.2,803.8 558.2,802.0 553.5,802.0 553.5,800.3 548.8,800.3 548.8,802.3 544.1,802.3 544.1,802.6 539.4,802.6 539.4,803.5 534.7,803.5 534.7,801.2 530.0,801.2 530.0,800.6 525.3,800.6 525.3,800.9 520.6,800.9 520.6,798.7 515.9,798.7 515.9,798.8 511.2,798.8 511.2,796.7 506.5,796.7 506.5,795.9 501.8,795.9 501.8,798.6 497.1,798.6 497.1,794.9 492.4,794.9 492.4,795.8 487.7,795.8 487.7,795.3 483.0,795.3 483.0,794.0 478.3,794.0 478.3,793.0 473.6,793.0 473.6,792.0 468.9,792.0 468.9,793.4 464.2,793.4 464.2,793.9 459.5,793.9 459.5,789.5 454.8,789.5 454.8,788.2 450.1,788.2 450.1,788.1 445.4,788.1 445.4,787.9 440.7,787.9 440.7,788.1 436.0,788.1 436.0,788.4 431.3,788.4 431.3,786.6 426.6,786.6 426.6,784.3 421.9,784.3 421.9,786.2 417.2,786.2 417.2,782.6 412.5,782.6 412.5,783.8 407.8,783.8 407.8,781.2 403.1,781.2 403.1,784.5 398.4,784.5 398.4,780.4 393.7,780.4 393.7,780.7 389.0,780.7 389.0,782.4 384.3,782.4 384.3,781.9 379.6,781.9 379.6,778.9 374.9,778.9 374.9,777.4 370.2,777.4 370.2,777.6 365.5,777.6 365.5,781.1 360.8,781.1 360.8,776.7 356.1,776.7 356.1,778.2 351.4,778.2 351.4,778.5 346.7,778.5 346.7,777.7 342.0,777.7 342.0,776.7 337.3,776.7 337.3,780.5 332.6,780.5 332.6,775.1 327.9,775.1 327.9,776.9 323.2,776.9 323.2,779.9 318.5,779.9 318.5,777.9 313.8,777.9 313.8,778.1 309.1,778.1 309.1,774.5 304.4,774.5 304.4,778.1 299.7,778.1 299.7,774.0 295.0,774.0 295.0,773.6 290.3,773.6 290.3,773.3 285.6,773.3 285.6,776.7 280.9,776.7 280.9,775.6 276.2,775.6 276.2,774.5 271.5,774.5 271.5,776.2 266.8,776.2 266.8,773.8 262.1,773.8 262.1,774.4 257.4,774.4 257.4,773.0 252.7,773.0 252.7,774.7 248.0,774.7 248.0,774.0 243.3,774.0 243.3,772.2 238.6,772.2 238.6,773.7 233.9,773.7 233.9,773.5 229.2,773.5 229.2,773.4 224.5,773.4 224.5,768.2 219.8,768.2 219.8,767.0 215.1,767.0 215.1,762.5 210.4,762.5 210.4,758.0 205.7,758.0 205.7,761.4 201.0,761.4 201.0,768.1 196.3,768.1 196.3,777.5 191.6,777.5 191.6,784.5 186.9,784.5 186.9,797.6 182.2,797.6 182.2,806.1 177.5,806.1 177.5,809.8 172.8,809.8 172.8,808.9 168.1,808.9 168.1,805.9 163.4,805.9 163.4,810.2 158.7,810.2 158.7,805.5 154.0,805.5 154.0,810.0 149.3,810.0 149.3,807.7 144.6,807.7 144.6,805.9 139.9,805.9 139.9,805.0 135.2,805.0 135.2,804.3 130.5,804.3 130.5,806.5 125.8,806.5 125.8,805.0 121.1,805.0 121.1,805.1 116.4,805.1 116.4,803.7 111.7,803.7 111.7,805.8 107.0,805.8 107.0,806.8 102.3,806.8 102.3,803.8 97.6,803.8" fill="#cccccc"/>
<polygon points="97.6,784.9 102.3,784.9 102.3,782.5 107.0,782.5 107.0,785.1 111.7,785.1 111.7,785.2 116.4,785.2 116.4,782.0 121.1,782.0 121.1,783.0 125.8,783.0 125.8,784.2 130.5,784.2 130.5,781.3 135.2,781.3 135.2,785.6 139.9,785.6 139.9,784.8 144.6,784.8 144.6,781.2 149.3,781.2 149.3,781.0 154.0,781.0 154.0,780.3 158.7,780.3 158.7,783.9 163.4,783.9 163.4,782.6 168.1,782.6 168.1,782.1 172.8,782.1 172.8,783.1 177.5,783.1 177.5,781.1 182.2,781.1 182.2,774.1 186.9,774.1 186.9,768.9 191.6,768.9 191.6,766.8 196.3,766.8 196.3,764.7 201.0,764.7 201.0,758.7 205.7,758.7 205.7,758.4 210.4,758.4 210.4,756.8 215.1,756.8 215.1,753.6 219.8,753.6 219.8,755.5 224.5,755.5 224.5,754.9 229.2,754.9 229.2,755.1 233.9,755.1 233.9,755.8 238.6,755.8 238.6,751.1 243.3,751.1 243.3,752.4 248.0,752.4 248.0,756.8 252.7,756.8 252.7,754.4 257.4,754.4 257.4,756.9 262.1,756.9 262.1,759.8 266.8,759.8 266.8,758.9 271.5,758.9 271.5,764.2 276.2,764.2 276.2,765.0 280.9,765.0 280.9,767.9 285.6,767.9 285.6,766.4 290.3,766.4 290.3,768.7 295.0,768.7 295.0,766.9 299.7,766.9 299.7,768.3 304.4,768.3 304.4,768.6 309.1,768.6 309.1,769.8 313.8,769.8 313.8,770.3 318.5,770.3 318.5,770.8 323.2,770.8 323.2,768.4 327.9,768.4 327.9,771.4 332.6,771.4 332.6,770.0 337.3,770.0 337.3,772.0 342.0,772.0 342.0,771.6 346.7,771.6 346.7,771.0 351.4,771.0 351.4,772.3 356.1,772.3 356.1,770.9 360.8,770.9 360.8,773.1 365.5,773.1 365.5,770.7 370.2,770.7 370.2,770.8 374.9,770.8 374.9,770.2 379.6,770.2 379.6,773.9 384.3,773.9 384.3,769.6 389.0,769.6 389.0,773.4 393.7,773.4 393.7,770.5 398.4,770.5 398.4,772.3 403.1,772.3 403.1,774.4 407.8,774.4 407.8,775.0 412.5,775.0 412.5,776.2 417.2,776.2 417.2,776.3 421.9,776.3 421.9,773.9 426.6,773.9 426.6,773.3 431.3,773.3 431.3,775.2 436.0,775.2 436.0,776.3 440.7,776.3 440.7,776.1 445.4,776.1 445.4,774.1 450.1,774.1 450.1,774.7 454.8,774.7 454.8,777.8 459.5,777.8 459.5,779.5 464.2,779.5 464.2,778.1 468.9,778.1 468.9,775.7 473.6,775.7 473.6,780.4 478.3,780.4 478.3,780.2 483.0,780.2 483.0,779.4 487.7,779.4 487.7,778.4 492.4,778.4 492.4,781.5 497.1,781.5 497.1,777.1 501.8,777.1 501.8,779.4 506.5,779.4 506.5,780.4 511.2,780.4 511.2,781.3 515.9,781.3 515.9,779.1 520.6,779.1 520.6,780.1 525.3,780.1 525.3,780.7 530.0,780.7 530.0,780.0 534.7,780.0 534.7,778.8 539.4,778.8 539.4,783.0 544.1,783.0 544.1,779.7 548.8,779.7 548.8,782.6 553.5,782.6 553.5,782.8 558.2,782.8 558.2,784.4 562.9,784.4 562.9,781.0 567.6,781.0 567.6,781.2 571.4,781.2 571.4,801.6 567.6,801.6 567.6,805.8 562.9,805.8 562.9,806.5 558.2,806.5 558.2,806.5 553.5,806.5 553.5,802.2 548.8,802.2 548.8,804.8 544.1,804.8 544.1,805.1 539.4,805.1 539.4,807.6 534.7,807.6 534.7,804.1 530.0,804.1 530.0,805.8 525.3,805.8 525.3,804.3 520.6,804.3 520.6,804.3 515.9,804.3 515.9,805.4 511.2,805.4 511.2,804.9 506.5,804.9 506.5,807.1 501.8,807.1 501.8,808.2 497.1,808.2 497.1,807.6 492.4,807.6 492.4,808.2 487.7,808.2 487.7,804.0 483.0,804.0 483.0,804.4 478.3,804.4 478.3,805.8 473.6,805.8 473.6,803.3 468.9,803.3 468.9,806.1 464.2,806.1 464.2,807.7 459.5,807.7 459.5,806.3 454.8,806.3 454.8,807.1 450.1,807.1 450.1,807.6 445.4,807.6 445.4,807.4 440.7,807.4 440.7,806.5 436.0,806.5 436.0,805.0 431.3,805.0 431.3,806.9 426.6,806.9 426.6,807.8 421.9,807.8 421.9,803.7 417.2,803.7 417.2,805.6 412.5,805.6 412.5,805.7 407.8,805.7 407.8,806.0 403.1,806.0 403.1,805.6 398.4,805.6 398.4,806.0 393.7,806.0 393.7,803.7 389.0,803.7 389.0,803.3 384.3,803.3 384.3,804.5 379.6,804.5 379.6,805.3 374.9,805.3 374.9,803.9 370.2,803.9 370.2,800.7 365.5,800.7 365.5,803.6 360.8,803.6 360.8,800.5 356.1,800.5 356.1,801.9 351.4,801.9 351.4,800.8 346.7,800.8 346.7,801.9 342.0,801.9 342.0,797.7 337.3,797.7 337.3,802.0 332.6,802.0 332.6,799.7 327.9,799.7 327.9,798.7 323.2,798.7 323.2,797.7 318.5,797.7 318.5,799.5 313.8,799.5 313.8,796.6 309.1,796.6 309.1,798.2 304.4,798.2 304.4,795.5 299.7,795.5 299.7,795.8 295.0,795.8 295.0,795.2 290.3,795.2 290.3,793.3 285.6,793.3 285.6,789.8 280.9,789.8 280.9,788.9 276.2,788.9 276.2,786.0 271.5,786.0 271.5,784.6 266.8,784.6 266.8,783.1 262.1,783.1 262.1,785.7 257.4,785.7 257.4,780.9 252.7,780.9 252.7,783.5 248.0,783.5 248.0,778.8 243.3,778.8 243.3,781.8 238.6,781.8 238.6,780.6 233.9,780.6 233.9,782.3 229.2,782.3 229.2,783.2 224.5,783.2 224.5,782.4 219.8,782.4 219.8,784.0 215.1,784.0 215.1,784.7 210.4,784.7 210.4,786.1 205.7,786.1 205.7,790.3 201.0,790.3 201.0,790.1 196.3,790.1 196.3,792.2 191.6,792.2 191.6,795.5 186.9,795.5 186.9,798.4 182.2,798.4 182.2,805.6 177.5,805.6 177.5,807.5 172.8,807.5 172.8,809.1 168.1,809.1 168.1,807.1 163.4,807.1 163.4,806.3 158.7,806.3 158.7,806.4 154.0,806.4 154.0,806.3 149.3,806.3 149.3,805.7 144.6,805.7 144.6,805.1 139.9,805.1 139.9,808.0 135.2,808.0 135.2,806.0 130.5,806.0 130.5,806.6 125.8,806.6 125.8,807.5 121.1,807.5 121.1,807.7 116.4,807.7 116.4,806.9 111.7,806.9 111.7,806.6 107.0,806.6 107.0,803.0 102.3,803.0 102.3,803.6 97.6,803.6" fill="#cccccc"/>
<polygon points="97.6,786.8 102.3,786.8 102.3,784.1 107.0,784.1 107.0,786.4 111.7,786.4 111.7,784.2 116.4,784.2 116.4,786.8 121.1,786.8 121.1,786.6 125.8,786.6 125.8,788.4 130.5,788.4 130.5,784.5 135.2,784.5 135.2,788.3 139.9,788.3 139.9,786.9 144.6,786.9 144.6,787.9 149.3,787.9 149.3,790.5 154.0,790.5 154.0,791.2 158.7,791.2 158.7,792.0 163.4,792.0 163.4,787.8 168.1,787.8 168.1,788.3 172.8,788.3 172.8,783.2 177.5,783.2 177.5,752.6 182.2,752.6 182.2,723.0 186.9,723.0 186.9,695.0 191.6,695.0 191.6,667.9 196.3,667.9 196.3,654.8 201.0,654.8 201.0,643.5 205.7,643.5 205.7,644.1 210.4,644.1 210.4,644.8 215.1,644.8 215.1,653.6 219.8,653.6 219.8,657.1 224.5,657.1 224.5,662.9 229.2,662.9 229.2,666.3 233.9,666.3 233.9,669.3 238.6,669.3 238.6,672.3 243.3,672.3 243.3,673.9 248.0,673.9 248.0,676.8 252.7,676.8 252.7,678.5 257.4,678.5 257.4,685.8 262.1,685.8 262.1,683.3 266.8,683.3 266.8,687.8 271.5,687.8 271.5,683.8 276.2,683.8 276.2,687.9 280.9,687.9 280.9,685.6 285.6,685.6 285.6,690.0 290.3,690.0 290.3,689.4 295.0,689.4 295.0,692.5 299.7,692.5 299.7,694.7 304.4,694.7 304.4,690.8 309.1,690.8 309.1,695.6 313.8,695.6 313.8,696.5 318.5,696.5 318.5,699.7 323.2,699.7 323.2,700.3 327.9,700.3 327.9,698.2 332.6,698.2 332.6,703.0 337.3,703.0 337.3,700.9 342.0,700.9 342.0,703.2 346.7,703.2 346.7,705.7 351.4,705.7 351.4,705.1 356.1,705.1 356.1,708.9 360.8,708.9 360.8,711.1 365.5,711.1 365.5,709.4 370.2,709.4 370.2,711.8 374.9,711.8 374.9,712.5 379.6,712.5 379.6,717.5 384.3,717.5 384.3,717.7 389.0,717.7 389.0,720.2 393.7,720.2 393.7,722.0 398.4,722.0 398.4,723.7 403.1,723.7 403.1,723.5 407.8,723.5 407.8,725.3 412.5,725.3 412.5,727.3 417.2,727.3 417.2,727.9 421.9,727.9 421.9,730.4 426.6,730.4 426.6,729.2 431.3,729.2 431.3,731.1 436.0,731.1 436.0,732.9 440.7,732.9 440.7,736.0 445.4,736.0 445.4,736.0 450.1,736.0 450.1,740.9 454.8,740.9 454.8,741.3 459.5,741.3 459.5,739.4 464.2,739.4 464.2,745.7 468.9,745.7 468.9,742.6 473.6,742.6 473.6,748.7 478.3,748.7 478.3,748.6 483.0,748.6 483.0,747.8 487.7,747.8 487.7,749.1 492.4,749.1 492.4,751.5 497.1,751.5 497.1,756.6 501.8,756.6 501.8,755.8 506.5,755.8 506.5,758.2 511.2,758.2 511.2,759.5 515.9,759.5 515.9,762.2 520.6,762.2 520.6,763.6 525.3,763.6 525.3,762.1 530.0,762.1 530.0,760.8 534.7,760.8 534.7,761.5 539.4,761.5 539.4,762.6 544.1,762.6 544.1,765.9 548.8,765.9 548.8,766.8 553.5,766.8 553.5,769.1 558.2,769.1 558.2,764.8 562.9,764.8 562.9,766.7 567.6,766.7 567.6,768.0 571.4,768.0 571.4,806.2 567.6,806.2 567.6,805.2 562.9,805.2 562.9,805.4 558.2,805.4 558.2,808.4 553.5,808.4 553.5,803.5 548.8,803.5 548.8,805.5 544.1,805.5 544.1,802.7 539.4,802.7 539.4,801.7 534.7,801.7 534.7,804.8 530.0,804.8 530.0,805.4 525.3,805.4 525.3,801.1 520.6,801.1 520.6,798.5 515.9,798.5 515.9,799.2 511.2,799.2 511.2,796.2 506.5,796.2 506.5,798.8 501.8,798.8 501.8,795.2 497.1,795.2 497.1,793.9 492.4,793.9 492.4,793.6 487.7,793.6 487.7,787.9 483.0,787.9 483.0,785.5 478.3,785.5 478.3,784.5 473.6,784.5 473.6,784.6 468.9,784.6 468.9,782.2 464.2,782.2 464.2,779.7 459.5,779.7 459.5,780.1 454.8,780.1 454.8,778.9 450.1,778.9 450.1,776.4 445.4,776.4 445.4,772.8 440.7,772.8 440.7,772.7 436.0,772.7 436.0,773.4 431.3,773.4 431.3,772.2 426.6,772.2 426.6,770.6 421.9,770.6 421.9,769.3 417.2,769.3 417.2,766.6 412.5,766.6 412.5,763.0 407.8,763.0 407.8,762.8 403.1,762.8 403.1,762.9 398.4,762.9 398.4,759.2 393.7,759.2 393.7,760.9 389.0,760.9 389.0,758.3 384.3,758.3 384.3,753.7 379.6,753.7 379.6,754.0 374.9,754.0 374.9,754.1 370.2,754.1 370.2,751.4 365.5,751.4 365.5,750.9 360.8,750.9 360.8,747.0 356.1,747.0 356.1,746.0 351.4,746.0 351.4,745.4 346.7,745.4 346.7,745.2 342.0,745.2 342.0,744.1 337.3,744.1 337.3,741.0 332.6,741.0 332.6,741.3 327.9,741.3 327.9,740.0 323.2,740.0 323.2,739.0 318.5,739.0 318.5,737.0 313.8,737.0 313.8,732.0 309.1,732.0 309.1,732.8 304.4,732.8 304.4,733.1 299.7,733.1 299.7,731.6 295.0,731.6 295.0,730.1 290.3,730.1 290.3,730.5 285.6,730.5 285.6,729.1 280.9,729.1 280.9,726.6 276.2,726.6 276.2,726.5 271.5,726.5 271.5,724.1 266.8,724.1 266.8,723.9 262.1,723.9 262.1,725.3 257.4,725.3 257.4,718.0 252.7,718.0 252.7,717.9 248.0,717.9 248.0,716.5 243.3,716.5 243.3,712.4 238.6,712.4 238.6,709.6 233.9,709.6 233.9,705.1 229.2,705.1 229.2,705.0 224.5,705.0 224.5,700.3 219.8,700.3 219.8,694.8 215.1,694.8 215.1,688.5 210.4,688.5 210.4,686.0 205.7,686.0 205.7,680.3 201.0,680.3 201.0,693.3 196.3,693.3 196.3,709.6 191.6,709.6 191.6,731.9 186.9,731.9 186.9,752.4 182.2,752.4 182.2,778.6 177.5,778.6 177.5,797.9 172.8,797.9 172.8,806.7 168.1,806.7 168.1,806.4 163.4,806.4 163.4,806.9 158.7,806.9 158.7,805.6 154.0,805.6 154.0,803.4 149.3,803.4 149.3,802.8 144.6,802.8 144.6,804.9 139.9,804.9 139.9,800.9 135.2,800.9 135.2,802.9 130.5,802.9 130.5,803.3 125.8,803.3 125.8,800.1 121.1,800.1 121.1,800.3 116.4,800.3 116.4,800.2 111.7,800.2 111.7,802.0 107.0,802.0 107.0,798.1 102.3,798.1 102.3,799.1 97.6,799.1" fill="#cccccc"/>
<polyline points="98.5,791.1 101.6,789.2 104.7,793.2 107.8,790.0 110.9,792.4 114.0,792.6 117.2,789.0 120.3,792.2 123.4,792.8 126.5,791.6 129.6,791.1 132.7,793.3 135.8,792.4 138.9,795.5 142.0,794.8 145.1,795.3 148.2,797.3 151.3,798.0 154.4,798.5 157.5,796.4 160.6,796.7 163.7,797.3 166.8,797.0 169.9,799.8 173.0,797.8 176.1,795.5 179.2,783.5 182.3,773.6 185.4,760.1 188.5,750.2 191.6,734.8 194.7,725.1 197.8,711.0 200.9,693.8 204.0,686.9 207.1,668.8 210.2,664.2 213.3,665.8 216.4,666.4 219.5,668.8 222.6,671.3 225.7,678.8 228.8,685.0 231.9,692.1 235.0,698.4 238.1,699.8 241.2,704.2 244.3,704.0 247.4,712.4 250.5,713.3 253.6,714.6 256.7,718.3 259.8,712.7 262.9,721.5 266.0,718.8 269.1,720.4 272.3,717.7 275.4,725.3 278.5,720.8 281.6,724.9 284.7,724.7 287.8,726.8 290.9,725.8 294.0,730.3 297.1,729.7 300.2,730.3 303.3,729.0 306.4,737.5 309.5,731.3 312.6,733.1 315.7,736.4 318.8,735.9 321.9,739.5 325.0,738.1 328.1,742.9 331.2,745.9 334.3,748.2 337.4,750.3 340.5,751.1 343.6,753.1 346.7,748.6 349.8,756.4 352.9,760.2 356.0,754.8 359.1,755.6 362.2,755.3 365.3,756.7 368.4,757.1 371.5,756.7 374.6,756.0 377.7,758.9 380.8,760.0 383.9,758.3 387.0,763.2 390.1,768.2 393.2,764.8 396.3,769.9 399.4,774.7 402.5,778.1 405.6,777.9 408.7,782.0 411.8,783.9 414.9,785.8 418.0,785.8 421.1,784.4 424.2,788.6 427.4,790.6 430.5,783.2 433.6,780.6 436.7,777.0 439.8,779.3 442.9,784.6 446.0,787.3 449.1,788.5 452.2,791.9 455.3,790.0 458.4,788.7 461.5,790.8 464.6,791.5 467.7,791.5 470.8,792.3 473.9,792.3 477.0,791.6 480.1,792.3 483.2,791.6 486.3,793.5 489.4,790.1 492.5,790.6 495.6,792.7 498.7,794.7 501.8,790.6 504.9,788.5 508.0,791.8 511.1,791.3 514.2,791.4 517.3,789.2 520.4,791.9 523.5,788.6 526.6,791.0 529.7,789.0 532.8,790.7 535.9,791.3 539.0,793.6 542.1,792.3 545.2,791.7 548.3,790.2 551.4,791.0 554.5,792.8 557.6,791.0 560.7,790.0 563.8,792.2 566.9,792.8" fill="none" stroke="#888888" stroke-width="3.5" stroke-linejoin="round" stroke-linecap="round"/>
<polyline points="98.5,795.5 101.6,795.0 104.7,796.2 107.8,795.1 110.9,794.4 114.0,795.1 117.2,793.5 120.3,796.8 123.4,795.5 126.5,796.5 129.6,796.6 132.7,795.8 135.8,795.4 138.9,795.4 142.0,795.6 145.1,793.6 148.2,795.7 151.3,799.2 154.4,797.1 157.5,798.5 160.6,798.7 163.7,796.5 166.8,798.9 169.9,801.5 173.0,798.5 176.1,794.7 179.2,787.6 182.3,778.9 185.4,770.2 188.5,761.0 191.6,753.2 194.7,744.9 197.8,740.9 200.9,742.8 204.0,741.4 207.1,743.2 210.2,743.9 213.3,748.8 216.4,748.4 219.5,754.6 222.6,755.5 225.7,755.4 228.8,757.6 231.9,757.3 235.0,755.7 238.1,755.1 241.2,755.7 244.3,756.1 247.4,754.2 250.5,755.6 253.6,756.6 256.7,754.8 259.8,757.8 262.9,756.5 266.0,756.0 269.1,757.1 272.3,758.0 275.4,756.9 278.5,758.3 281.6,758.5 284.7,759.3 287.8,756.4 290.9,759.2 294.0,757.2 297.1,758.5 300.2,759.7 303.3,758.7 306.4,759.5 309.5,760.0 312.6,762.3 315.7,760.7 318.8,759.9 321.9,760.7 325.0,760.3 328.1,760.0 331.2,761.7 334.3,759.9 337.4,764.7 340.5,763.3 343.6,766.5 346.7,762.3 349.8,763.5 352.9,761.6 356.0,764.5 359.1,766.9 362.2,762.8 365.3,766.5 368.4,766.6 371.5,765.4 374.6,764.5 377.7,766.2 380.8,765.6 383.9,768.9 387.0,764.6 390.1,767.4 393.2,767.7 396.3,767.5 399.4,768.6 402.5,769.0 405.6,771.0 408.7,770.4 411.8,770.1 414.9,769.8 418.0,771.8 421.1,772.0 424.2,772.2 427.4,772.4 430.5,773.3 433.6,774.4 436.7,775.2 439.8,773.5 442.9,775.1 446.0,775.9 449.1,771.8 452.2,775.7 455.3,776.2 458.4,777.6 461.5,779.6 464.6,777.2 467.7,779.3 470.8,779.6 473.9,778.8 477.0,779.4 480.1,781.0 483.2,781.9 486.3,779.7 489.4,782.3 492.5,785.0 495.6,783.2 498.7,784.6 501.8,785.4 504.9,785.1 508.0,786.3 511.1,784.5 514.2,787.5 517.3,788.0 520.4,787.4 523.5,790.0 526.6,788.3 529.7,790.1 532.8,788.8 535.9,791.8 539.0,790.5 542.1,793.5 545.2,792.3 548.3,792.1 551.4,791.8 554.5,790.2 557.6,790.7 560.7,795.3 563.8,794.9 566.9,792.5" fill="none" stroke="#00a9ff" stroke-width="3.5" stroke-linejoin="round" stroke-linecap="round"/>
<polyline points="98.5,795.8 101.6,795.9 104.7,792.5 107.8,798.6 110.9,794.5 114.0,798.9 117.2,792.3 120.3,794.3 123.4,792.2 126.5,796.1 129.6,794.5 132.7,796.0 135.8,797.1 138.9,795.5 142.0,798.5 145.1,796.9 148.2,795.0 151.3,796.4 154.4,797.5 157.5,792.5 160.6,797.0 163.7,798.4 166.8,797.1 169.9,798.7 173.0,798.4 176.1,786.3 179.2,759.7 182.3,741.7 185.4,719.5 188.5,696.6 191.6,672.0 194.7,665.8 197.8,656.0 200.9,639.2 204.0,646.7 207.1,649.4 210.2,652.2 213.3,652.0 216.4,661.4 219.5,667.3 222.6,664.0 225.7,669.3 228.8,672.0 231.9,674.2 235.0,678.8 238.1,682.8 241.2,685.3 244.3,682.3 247.4,682.4 250.5,685.9 253.6,687.3 256.7,685.5 259.8,686.3 262.9,689.7 266.0,688.8 269.1,686.1 272.3,688.7 275.4,689.4 278.5,688.6 281.6,689.4 284.7,689.6 287.8,694.0 290.9,687.3 294.0,691.0 297.1,693.8 300.2,690.7 303.3,692.7 306.4,693.9 309.5,692.5 312.6,690.7 315.7,694.2 318.8,692.0 321.9,690.6 325.0,696.7 328.1,695.5 331.2,692.7 334.3,698.1 337.4,696.3 340.5,694.3 343.6,695.8 346.7,697.8 349.8,703.8 352.9,696.4 356.0,701.0 359.1,701.6 362.2,703.2 365.3,708.7 368.4,709.2 371.5,709.8 374.6,704.6 377.7,711.1 380.8,711.0 383.9,712.0 387.0,711.3 390.1,712.4 393.2,713.8 396.3,717.8 399.4,722.5 402.5,716.9 405.6,717.7 408.7,716.7 411.8,720.3 414.9,722.3 418.0,721.2 421.1,726.1 424.2,726.1 427.4,727.0 430.5,725.3 433.6,722.6 436.7,726.2 439.8,726.4 442.9,729.2 446.0,730.0 449.1,732.4 452.2,733.0 455.3,738.2 458.4,736.7 461.5,737.8 464.6,734.5 467.7,735.8 470.8,735.8 473.9,735.8 477.0,740.1 480.1,738.0 483.2,736.8 486.3,741.3 489.4,739.7 492.5,742.8 495.6,746.3 498.7,743.4 501.8,745.9 504.9,745.7 508.0,748.6 511.1,748.8 514.2,755.5 517.3,748.8 520.4,752.0 523.5,757.1 526.6,759.8 529.7,759.6 532.8,759.8 535.9,761.9 539.0,763.6 542.1,769.9 545.2,769.9 548.3,766.5 551.4,769.9 554.5,774.4 557.6,774.1 560.7,776.3 563.8,776.5 566.9,773.1" fill="none" stroke="#00cdcb" stroke-width="3.5" stroke-linejoin="round" stroke-linecap="round"/>
<polyline points="98.5,792.6 101.6,796.8 104.7,795.2 107.8,793.9 110.9,791.6 114.0,794.3 117.2,797.5 120.3,794.2 123.4,797.0 126.5,792.9 129.6,795.7 132.7,792.3 135.8,795.9 138.9,797.8 142.0,799.0 145.1,797.4 148.2,796.3 151.3,795.4 154.4,797.4 157.5,799.5 160.6,797.7 163.7,801.5 166.8,798.4 169.9,801.0 173.0,796.9 176.1,785.7 179.2,769.0 182.3,753.6 185.4,732.9 188.5,715.4 191.6,699.1 194.7,688.2 197.8,673.8 200.9,665.8 204.0,661.5 207.1,661.1 210.2,667.5 213.3,663.9 216.4,669.3 219.5,676.1 222.6,680.6 225.7,684.3 228.8,682.6 231.9,691.0 235.0,686.9 238.1,690.4 241.2,693.5 244.3,694.7 247.4,695.9 250.5,697.1 253.6,697.2 256.7,703.7 259.8,701.5 262.9,702.3 266.0,705.1 269.1,704.1 272.3,706.8 275.4,706.3 278.5,706.1 281.6,704.1 284.7,708.2 287.8,709.1 290.9,709.5 294.0,710.6 297.1,712.9 300.2,708.4 303.3,713.6 306.4,714.3 309.5,715.2 312.6,713.5 315.7,710.3 318.8,711.2 321.9,715.8 325.0,717.9 328.1,719.5 331.2,722.2 334.3,720.1 337.4,722.5 340.5,719.7 343.6,724.8 346.7,727.1 349.8,729.5 352.9,730.3 356.0,727.0 359.1,728.5 362.2,732.1 365.3,733.7 368.4,731.4 371.5,733.5 374.6,733.4 377.7,734.8 380.8,737.1 383.9,739.7 387.0,737.4 390.1,738.4 393.2,739.1 396.3,738.7 399.4,739.7 402.5,743.1 405.6,742.2 408.7,748.0 411.8,743.9 414.9,746.1 418.0,745.1 421.1,746.1 424.2,750.5 427.4,750.0 430.5,748.9 433.6,752.9 436.7,752.9 439.8,755.1 442.9,754.1 446.0,755.7 449.1,758.7 452.2,760.9 455.3,763.4 458.4,758.9 461.5,762.3 464.6,763.8 467.7,764.6 470.8,766.4 473.9,764.6 477.0,765.7 480.1,771.9 483.2,769.0 486.3,769.9 489.4,771.7 492.5,772.0 495.6,770.3 498.7,773.8 501.8,773.2 504.9,774.6 508.0,780.2 511.1,775.4 514.2,779.3 517.3,781.2 520.4,780.3 523.5,778.2 526.6,784.1 529.7,784.3 532.8,782.8 535.9,787.1 539.0,786.3 542.1,784.6 545.2,783.8 548.3,784.5 551.4,784.4 554.5,784.4 557.6,787.5 560.7,787.8 563.8,788.1 566.9,788.6" fill="none" stroke="#4040ff" stroke-width="3.5" stroke-linejoin="round" stroke-linecap="round"/>
<polyline points="98.5,791.7 101.6,790.7 104.7,792.4 107.8,792.9 110.9,794.4 114.0,793.5 117.2,791.5 120.3,793.1 123.4,792.4 126.5,794.1 129.6,794.2 132.7,795.0 135.8,798.6 138.9,794.5 142.0,795.5 145.1,795.9 148.2,800.1 151.3,800.6 154.4,799.4 157.5,799.1 160.6,798.0 163.7,799.0 166.8,798.4 169.9,800.8 173.0,799.4 176.1,798.0 179.2,797.8 182.3,788.5 185.4,785.5 188.5,779.3 191.6,780.3 194.7,778.5 197.8,775.7 200.9,773.3 204.0,770.1 207.1,770.0 210.2,770.4 213.3,770.6 216.4,769.0 219.5,765.2 222.6,768.7 225.7,766.8 228.8,766.5 231.9,769.9 235.0,767.2 238.1,764.9 241.2,770.8 244.3,767.8 247.4,767.4 250.5,770.4 253.6,770.1 256.7,773.1 259.8,776.5 262.9,773.0 266.0,773.9 269.1,774.0 272.3,773.7 275.4,776.2 278.5,778.2 281.6,782.7 284.7,781.2 287.8,785.3 290.9,786.6 294.0,788.0 297.1,787.4 300.2,786.6 303.3,783.3 306.4,789.1 309.5,788.0 312.6,785.0 315.7,782.8 318.8,784.2 321.9,788.6 325.0,789.6 328.1,784.4 331.2,786.3 334.3,787.1 337.4,783.6 340.5,783.5 343.6,785.4 346.7,785.5 349.8,785.3 352.9,783.5 356.0,785.4 359.1,785.8 362.2,786.0 365.3,789.9 368.4,785.1 371.5,785.8 374.6,786.8 377.7,791.4 380.8,789.2 383.9,786.7 387.0,791.5 390.1,788.6 393.2,786.6 396.3,790.8 399.4,785.7 402.5,787.6 405.6,788.9 408.7,788.2 411.8,787.7 414.9,788.7 418.0,786.9 421.1,790.2 424.2,789.9 427.4,787.3 430.5,789.2 433.6,790.9 436.7,787.7 439.8,786.9 442.9,790.3 446.0,792.1 449.1,789.9 452.2,790.0 455.3,790.4 458.4,787.4 461.5,791.8 464.6,787.8 467.7,792.4 470.8,791.6 473.9,789.2 477.0,788.4 480.1,789.0 483.2,790.0 486.3,790.5 489.4,790.5 492.5,789.9 495.6,791.3 498.7,790.6 501.8,790.2 504.9,791.3 508.0,790.1 511.1,790.5 514.2,788.1 517.3,791.2 520.4,792.6 523.5,792.6 526.6,792.1 529.7,790.5 532.8,792.8 535.9,791.7 539.0,789.2 542.1,797.1 545.2,794.6 548.3,792.3 551.4,792.1 554.5,792.5 557.6,793.8 560.7,792.0 563.8,792.8 566.9,794.3" fill="none" stroke="#333333" stroke-width="3.5" stroke-linejoin="round" stroke-linecap="round"/>
<path d="M91.4 575.7V824.4H569.6" fill="none" stroke="#000" stroke-width="4.0" stroke-linecap="butt" stroke-linejoin="miter"/>
<line x1="82.9" y1="618.6" x2="91.4" y2="618.6" stroke="#000" stroke-width="3.6" stroke-linecap="butt"/>
<line x1="82.9" y1="707.1" x2="91.4" y2="707.1" stroke="#000" stroke-width="3.6" stroke-linecap="butt"/>
<line x1="82.9" y1="795.6" x2="91.4" y2="795.6" stroke="#000" stroke-width="3.6" stroke-linecap="butt"/>
<line x1="97.6" y1="824.4" x2="97.6" y2="835.4" stroke="#000" stroke-width="3.6" stroke-linecap="butt"/>
<line x1="191.6" y1="824.4" x2="191.6" y2="835.4" stroke="#000" stroke-width="3.6" stroke-linecap="butt"/>
<line x1="285.6" y1="824.4" x2="285.6" y2="835.4" stroke="#000" stroke-width="3.6" stroke-linecap="butt"/>
<line x1="379.6" y1="824.4" x2="379.6" y2="835.4" stroke="#000" stroke-width="3.6" stroke-linecap="butt"/>
<line x1="473.6" y1="824.4" x2="473.6" y2="835.4" stroke="#000" stroke-width="3.6" stroke-linecap="butt"/>
<line x1="567.6" y1="824.4" x2="567.6" y2="835.4" stroke="#000" stroke-width="3.6" stroke-linecap="butt"/>
<text x="78.8" y="627.5" font-size="26.5" text-anchor="end" letter-spacing="0.6">0.4</text>
<text x="78.8" y="716.0" font-size="26.5" text-anchor="end" letter-spacing="0.6">0.2</text>
<text x="78.8" y="804.5" font-size="26.5" text-anchor="end" letter-spacing="0.6">0</text>
<text x="97.6" y="859.0" font-size="26.5" text-anchor="middle">0</text>
<text x="191.6" y="859.0" font-size="26.5" text-anchor="middle">10</text>
<text x="285.6" y="859.0" font-size="26.5" text-anchor="middle">20</text>
<text x="379.6" y="859.0" font-size="26.5" text-anchor="middle">30</text>
<text x="473.6" y="859.0" font-size="26.5" text-anchor="middle">40</text>
<text x="567.6" y="859.0" font-size="26.5" text-anchor="middle">50</text>
<text x="332.0" y="889.5" font-size="26.5" text-anchor="middle" textLength="92.5" lengthAdjust="spacing">Time (s)</text>
<text x="23.6" y="767.2" font-size="26.5" textLength="48.2" lengthAdjust="spacing" transform="rotate(-90 23.6 767.2)">AIB</text>
<text x="20.4" y="707.7" font-size="24.3" style="font-family:'DejaVu Sans',sans-serif;font-weight:normal" transform="rotate(-90 20.4 707.7)">△</text>
<text x="23.6" y="678.9" font-size="26.5" textLength="41.2" lengthAdjust="spacing" transform="rotate(-90 23.6 678.9)">F/F</text>
<text x="32.8" y="637.4" font-size="16.5" transform="rotate(-90 32.8 637.4)">0</text>
<rect x="349.6" y="566.7" width="19.8" height="14.3" fill="#888888" rx="2.5" />
<rect x="349.6" y="600.8" width="19.8" height="14.3" fill="#333333" rx="2.5" />
<rect x="349.6" y="634.9" width="19.8" height="14.3" fill="#00a9ff" rx="2.5" />
<text x="388.0" y="582.9" font-size="26.5" textLength="231.6" lengthAdjust="spacing">ASH::HisCl1 (HIS -)</text>
<text x="388.0" y="616.6" font-size="26.5" textLength="237.7" lengthAdjust="spacing">ASH::HisCl1 (HIS +)</text>
<text x="388.0" y="650.3" font-size="26.5" font-style="italic" textLength="50.0" lengthAdjust="spacing">glr-1</text>
<rect x="606.8" y="481.5" width="20.8" height="14.4" fill="#00cdcb" rx="2.5" />
<rect x="606.8" y="514.1" width="20.8" height="14.4" fill="#4040ff" rx="2.5" />
<text x="645.3" y="494.2" font-size="26.5" font-style="italic" textLength="203.0" lengthAdjust="spacing">glr-1; glr-1p::glr-1</text>
<text x="645.3" y="528.0" font-size="26.5" font-style="italic" textLength="182.5" lengthAdjust="spacing">glr-1; AIB::glr-1</text>
<path d="M734.7 594.0V826.4H932.8" fill="none" stroke="#000" stroke-width="4.0" stroke-linecap="butt" stroke-linejoin="miter"/>
<line x1="726.2" y1="600.8" x2="734.7" y2="600.8" stroke="#000" stroke-width="3.6" stroke-linecap="butt"/>
<line x1="726.2" y1="709.8" x2="734.7" y2="709.8" stroke="#000" stroke-width="3.6" stroke-linecap="butt"/>
<line x1="726.2" y1="818.2" x2="734.7" y2="818.2" stroke="#000" stroke-width="3.6" stroke-linecap="butt"/>
<line x1="743.1" y1="826.4" x2="743.1" y2="837.4" stroke="#000" stroke-width="3.6" stroke-linecap="butt"/>
<line x1="931.4" y1="826.4" x2="931.4" y2="837.4" stroke="#000" stroke-width="3.6" stroke-linecap="butt"/>
<text x="723.4" y="609.7" font-size="26.5" text-anchor="end">1</text>
<text x="722.6" y="718.7" font-size="26.5" text-anchor="end" letter-spacing="0.8">0.5</text>
<text x="721.8" y="827.1" font-size="26.5" text-anchor="end">0</text>
<text x="671.3" y="783.2" font-size="26.5" textLength="53.8" lengthAdjust="spacing" transform="rotate(-90 671.3 783.2)">Peak</text>
<text x="667.8" y="713.3" font-size="27" style="font-family:'DejaVu Sans',sans-serif;font-weight:normal" transform="rotate(-90 667.8 713.3)">△</text>
<text x="671.3" y="688.4" font-size="26.5" textLength="42.5" lengthAdjust="spacing" transform="rotate(-90 671.3 688.4)">F/F</text>
<text x="680.5" y="645.9" font-size="16.5" transform="rotate(-90 680.5 645.9)">0</text>
<rect x="744.0" y="745.7" width="30.0" height="72.9" fill="#888888" />
<rect x="783.5" y="798.3" width="30.0" height="20.3" fill="#333333" />
<rect x="823.0" y="788.8" width="30.0" height="29.8" fill="#00a9ff" />
<rect x="862.5" y="732.4" width="30.0" height="86.2" fill="#00cdcb" />
<rect x="902.0" y="747.4" width="30.0" height="71.2" fill="#4040ff" />
<line x1="758.9" y1="731.6" x2="758.9" y2="746.7" stroke="#888888" stroke-width="3.4" stroke-linecap="butt"/>
<line x1="752.9" y1="731.6" x2="764.9" y2="731.6" stroke="#888888" stroke-width="3.4" stroke-linecap="butt"/>
<line x1="798.4" y1="791.0" x2="798.4" y2="799.3" stroke="#333333" stroke-width="3.4" stroke-linecap="butt"/>
<line x1="792.4" y1="791.0" x2="804.4" y2="791.0" stroke="#333333" stroke-width="3.4" stroke-linecap="butt"/>
<line x1="838.0" y1="781.4" x2="838.0" y2="789.8" stroke="#00a9ff" stroke-width="3.4" stroke-linecap="butt"/>
<line x1="832.0" y1="781.4" x2="844.0" y2="781.4" stroke="#00a9ff" stroke-width="3.4" stroke-linecap="butt"/>
<line x1="877.5" y1="717.4" x2="877.5" y2="733.4" stroke="#00cdcb" stroke-width="3.4" stroke-linecap="butt"/>
<line x1="871.5" y1="717.4" x2="883.5" y2="717.4" stroke="#00cdcb" stroke-width="3.4" stroke-linecap="butt"/>
<line x1="917.0" y1="735.1" x2="917.0" y2="748.4" stroke="#4040ff" stroke-width="3.4" stroke-linecap="butt"/>
<line x1="911.0" y1="735.1" x2="923.0" y2="735.1" stroke="#4040ff" stroke-width="3.4" stroke-linecap="butt"/>
<circle cx="758.9" cy="657.2" r="3.0" fill="#fff" stroke="#000" stroke-width="2.4"/>
<circle cx="758.9" cy="684.4" r="3.0" fill="#fff" stroke="#000" stroke-width="2.4"/>
<circle cx="758.9" cy="705.7" r="3.0" fill="#fff" stroke="#000" stroke-width="2.4"/>
<circle cx="758.9" cy="709.0" r="3.0" fill="#fff" stroke="#000" stroke-width="2.4"/>
<circle cx="758.9" cy="726.1" r="3.0" fill="#fff" stroke="#000" stroke-width="2.4"/>
<circle cx="758.9" cy="753.9" r="3.0" fill="#fff" stroke="#000" stroke-width="2.4"/>
<circle cx="758.9" cy="768.4" r="3.0" fill="#fff" stroke="#000" stroke-width="2.4"/>
<circle cx="758.9" cy="778.7" r="3.0" fill="#fff" stroke="#000" stroke-width="2.4"/>
<circle cx="758.9" cy="783.4" r="3.0" fill="#fff" stroke="#000" stroke-width="2.4"/>
<circle cx="758.9" cy="794.8" r="3.0" fill="#fff" stroke="#000" stroke-width="2.4"/>
<circle cx="758.9" cy="801.9" r="3.0" fill="#fff" stroke="#000" stroke-width="2.4"/>
<circle cx="758.9" cy="806.5" r="3.0" fill="#fff" stroke="#000" stroke-width="2.4"/>
<circle cx="798.4" cy="703.8" r="3.0" fill="#fff" stroke="#000" stroke-width="2.4"/>
<circle cx="798.4" cy="777.4" r="3.0" fill="#fff" stroke="#000" stroke-width="2.4"/>
<circle cx="798.4" cy="791.5" r="3.0" fill="#fff" stroke="#000" stroke-width="2.4"/>
<circle cx="798.4" cy="795.6" r="3.0" fill="#fff" stroke="#000" stroke-width="2.4"/>
<circle cx="798.4" cy="801.0" r="3.0" fill="#fff" stroke="#000" stroke-width="2.4"/>
<circle cx="798.4" cy="806.5" r="3.0" fill="#fff" stroke="#000" stroke-width="2.4"/>
<circle cx="798.4" cy="812.0" r="3.0" fill="#fff" stroke="#000" stroke-width="2.4"/>
<circle cx="798.4" cy="816.0" r="3.0" fill="#fff" stroke="#000" stroke-width="2.4"/>
<circle cx="798.4" cy="818.0" r="3.0" fill="#fff" stroke="#000" stroke-width="2.4"/>
<circle cx="838.0" cy="733.5" r="3.0" fill="#fff" stroke="#000" stroke-width="2.4"/>
<circle cx="838.0" cy="768.9" r="3.0" fill="#fff" stroke="#000" stroke-width="2.4"/>
<circle cx="838.0" cy="773.8" r="3.0" fill="#fff" stroke="#000" stroke-width="2.4"/>
<circle cx="838.0" cy="782.0" r="3.0" fill="#fff" stroke="#000" stroke-width="2.4"/>
<circle cx="838.0" cy="791.5" r="3.0" fill="#fff" stroke="#000" stroke-width="2.4"/>
<circle cx="838.0" cy="794.3" r="3.0" fill="#fff" stroke="#000" stroke-width="2.4"/>
<circle cx="838.0" cy="801.0" r="3.0" fill="#fff" stroke="#000" stroke-width="2.4"/>
<circle cx="838.0" cy="805.1" r="3.0" fill="#fff" stroke="#000" stroke-width="2.4"/>
<circle cx="838.0" cy="809.2" r="3.0" fill="#fff" stroke="#000" stroke-width="2.4"/>
<circle cx="877.5" cy="662.1" r="3.0" fill="#fff" stroke="#000" stroke-width="2.4"/>
<circle cx="877.5" cy="680.6" r="3.0" fill="#fff" stroke="#000" stroke-width="2.4"/>
<circle cx="877.5" cy="699.4" r="3.0" fill="#fff" stroke="#000" stroke-width="2.4"/>
<circle cx="877.5" cy="718.0" r="3.0" fill="#fff" stroke="#000" stroke-width="2.4"/>
<circle cx="877.5" cy="731.6" r="3.0" fill="#fff" stroke="#000" stroke-width="2.4"/>
<circle cx="877.5" cy="756.6" r="3.0" fill="#fff" stroke="#000" stroke-width="2.4"/>
<circle cx="877.5" cy="765.6" r="3.0" fill="#fff" stroke="#000" stroke-width="2.4"/>
<circle cx="877.5" cy="768.9" r="3.0" fill="#fff" stroke="#000" stroke-width="2.4"/>
<circle cx="877.5" cy="797.5" r="3.0" fill="#fff" stroke="#000" stroke-width="2.4"/>
<circle cx="917.0" cy="690.7" r="3.0" fill="#fff" stroke="#000" stroke-width="2.4"/>
<circle cx="917.0" cy="707.9" r="3.0" fill="#fff" stroke="#000" stroke-width="2.4"/>
<circle cx="917.0" cy="711.7" r="3.0" fill="#fff" stroke="#000" stroke-width="2.4"/>
<circle cx="917.0" cy="716.0" r="3.0" fill="#fff" stroke="#000" stroke-width="2.4"/>
<circle cx="917.0" cy="720.1" r="3.0" fill="#fff" stroke="#000" stroke-width="2.4"/>
<circle cx="917.0" cy="758.3" r="3.0" fill="#fff" stroke="#000" stroke-width="2.4"/>
<circle cx="917.0" cy="768.9" r="3.0" fill="#fff" stroke="#000" stroke-width="2.4"/>
<circle cx="917.0" cy="779.3" r="3.0" fill="#fff" stroke="#000" stroke-width="2.4"/>
<circle cx="917.0" cy="789.4" r="3.0" fill="#fff" stroke="#000" stroke-width="2.4"/>
<circle cx="917.0" cy="800.5" r="3.0" fill="#fff" stroke="#000" stroke-width="2.4"/>
<line x1="782.9" y1="673.3" x2="812.9" y2="673.3" stroke="#000" stroke-width="3.6" stroke-linecap="butt"/>
<line x1="823.0" y1="709.2" x2="853.0" y2="709.2" stroke="#000" stroke-width="3.6" stroke-linecap="butt"/>
<line x1="837.1" y1="643.6" x2="885.6" y2="643.6" stroke="#000" stroke-width="3.6" stroke-linecap="butt"/>
<line x1="838.5" y1="600.0" x2="925.7" y2="600.0" stroke="#000" stroke-width="3.6" stroke-linecap="butt"/>
<text x="801.0" y="673.6" font-size="30.5" text-anchor="middle" fill="#12a5ff" stroke="#12a5ff" stroke-width="0.5" class="st" letter-spacing="3.4">**</text>
<text x="840.5" y="707.6" font-size="30.5" text-anchor="middle" fill="#12a5ff" stroke="#12a5ff" stroke-width="0.5" class="st" letter-spacing="3.4">*</text>
<text x="863.9" y="641.4" font-size="30.5" text-anchor="middle" fill="#12a5ff" stroke="#12a5ff" stroke-width="0.5" class="st" letter-spacing="3.4">***</text>
<text x="884.4" y="598.0" font-size="30.5" text-anchor="middle" fill="#12a5ff" stroke="#12a5ff" stroke-width="0.5" class="st" letter-spacing="3.4">**</text>
<text x="1044.0" y="495.0" font-size="52">e</text>
<rect x="1156.2" y="578.9" width="519.8" height="234.0" fill="#c1e9fc" />
<text x="1169.9" y="613.8" font-size="26.5" textLength="116.3" lengthAdjust="spacing">Add CAP</text>
<polygon points="1110.9,773.4 1115.6,773.4 1115.6,772.7 1120.3,772.7 1120.3,775.9 1125.0,775.9 1125.0,774.7 1129.7,774.7 1129.7,776.7 1134.5,776.7 1134.5,778.8 1139.2,778.8 1139.2,776.3 1143.9,776.3 1143.9,775.4 1148.6,775.4 1148.6,777.9 1153.3,777.9 1153.3,774.6 1158.0,774.6 1158.0,775.1 1162.7,775.1 1162.7,778.7 1167.4,778.7 1167.4,776.7 1172.1,776.7 1172.1,774.7 1176.8,774.7 1176.8,778.2 1181.6,778.2 1181.6,778.3 1186.3,778.3 1186.3,776.9 1191.0,776.9 1191.0,777.4 1195.7,777.4 1195.7,778.1 1200.4,778.1 1200.4,775.1 1205.1,775.1 1205.1,775.2 1209.8,775.2 1209.8,773.7 1214.5,773.7 1214.5,773.9 1219.2,773.9 1219.2,774.0 1223.9,774.0 1223.9,775.3 1228.7,775.3 1228.7,771.6 1233.4,771.6 1233.4,770.5 1238.1,770.5 1238.1,772.0 1242.8,772.0 1242.8,771.5 1247.5,771.5 1247.5,769.2 1252.2,769.2 1252.2,773.3 1256.9,773.3 1256.9,770.4 1261.6,770.4 1261.6,771.3 1266.3,771.3 1266.3,771.1 1271.0,771.1 1271.0,772.5 1275.8,772.5 1275.8,771.1 1280.5,771.1 1280.5,772.7 1285.2,772.7 1285.2,772.0 1289.9,772.0 1289.9,772.0 1294.6,772.0 1294.6,772.1 1299.3,772.1 1299.3,773.2 1304.0,773.2 1304.0,770.1 1308.7,770.1 1308.7,770.5 1313.4,770.5 1313.4,769.6 1318.1,769.6 1318.1,771.7 1322.9,771.7 1322.9,769.3 1327.6,769.3 1327.6,769.6 1332.3,769.6 1332.3,771.6 1337.0,771.6 1337.0,769.1 1341.7,769.1 1341.7,772.1 1346.4,772.1 1346.4,768.7 1351.1,768.7 1351.1,768.0 1355.8,768.0 1355.8,770.1 1360.5,770.1 1360.5,768.9 1365.2,768.9 1365.2,770.0 1370.0,770.0 1370.0,766.0 1374.7,766.0 1374.7,766.3 1379.4,766.3 1379.4,768.0 1384.1,768.0 1384.1,766.4 1388.8,766.4 1388.8,768.1 1393.5,768.1 1393.5,764.2 1398.2,764.2 1398.2,763.6 1402.9,763.6 1402.9,765.1 1407.6,765.1 1407.6,762.8 1412.3,762.8 1412.3,763.7 1417.1,763.7 1417.1,762.3 1421.8,762.3 1421.8,762.6 1426.5,762.6 1426.5,765.9 1431.2,765.9 1431.2,763.7 1435.9,763.7 1435.9,764.4 1440.6,764.4 1440.6,765.6 1445.3,765.6 1445.3,763.9 1450.0,763.9 1450.0,767.8 1454.7,767.8 1454.7,768.5 1459.4,768.5 1459.4,768.3 1464.2,768.3 1464.2,766.4 1468.9,766.4 1468.9,767.3 1473.6,767.3 1473.6,767.8 1478.3,767.8 1478.3,769.5 1483.0,769.5 1483.0,769.0 1487.7,769.0 1487.7,767.7 1492.4,767.7 1492.4,765.7 1497.1,765.7 1497.1,764.0 1501.8,764.0 1501.8,766.0 1506.5,766.0 1506.5,764.4 1511.2,764.4 1511.2,762.6 1516.0,762.6 1516.0,760.9 1520.7,760.9 1520.7,759.3 1525.4,759.3 1525.4,758.6 1530.1,758.6 1530.1,757.1 1534.8,757.1 1534.8,759.5 1539.5,759.5 1539.5,758.2 1544.2,758.2 1544.2,760.2 1548.9,760.2 1548.9,760.0 1553.6,760.0 1553.6,762.2 1558.4,762.2 1558.4,761.6 1563.1,761.6 1563.1,763.9 1567.8,763.9 1567.8,760.3 1572.5,760.3 1572.5,763.5 1577.2,763.5 1577.2,764.7 1581.9,764.7 1581.9,765.3 1586.6,765.3 1586.6,762.9 1591.3,762.9 1591.3,764.0 1596.0,764.0 1596.0,764.5 1600.7,764.5 1600.7,765.6 1605.5,765.6 1605.5,766.6 1610.2,766.6 1610.2,768.7 1614.9,768.7 1614.9,768.3 1619.6,768.3 1619.6,766.4 1624.3,766.4 1624.3,768.5 1629.0,768.5 1629.0,769.2 1633.7,769.2 1633.7,768.4 1638.4,768.4 1638.4,771.1 1643.1,771.1 1643.1,769.6 1647.8,769.6 1647.8,768.1 1652.6,768.1 1652.6,769.5 1657.3,769.5 1657.3,769.6 1662.0,769.6 1662.0,769.8 1666.7,769.8 1666.7,772.0 1671.4,772.0 1671.4,771.7 1676.1,771.7 1676.1,769.9 1679.9,769.9 1679.9,801.7 1676.1,801.7 1676.1,803.3 1671.4,803.3 1671.4,802.3 1666.7,802.3 1666.7,803.6 1662.0,803.6 1662.0,803.1 1657.3,803.1 1657.3,803.8 1652.6,803.8 1652.6,804.0 1647.8,804.0 1647.8,804.5 1643.1,804.5 1643.1,805.8 1638.4,805.8 1638.4,804.0 1633.7,804.0 1633.7,806.3 1629.0,806.3 1629.0,807.5 1624.3,807.5 1624.3,805.4 1619.6,805.4 1619.6,805.5 1614.9,805.5 1614.9,806.7 1610.2,806.7 1610.2,807.6 1605.5,807.6 1605.5,806.9 1600.7,806.9 1600.7,806.6 1596.0,806.6 1596.0,808.5 1591.3,808.5 1591.3,805.9 1586.6,805.9 1586.6,803.0 1581.9,803.0 1581.9,805.4 1577.2,805.4 1577.2,801.2 1572.5,801.2 1572.5,803.7 1567.8,803.7 1567.8,801.4 1563.1,801.4 1563.1,802.2 1558.4,802.2 1558.4,801.4 1553.6,801.4 1553.6,799.9 1548.9,799.9 1548.9,801.6 1544.2,801.6 1544.2,803.1 1539.5,803.1 1539.5,800.9 1534.8,800.9 1534.8,801.8 1530.1,801.8 1530.1,801.4 1525.4,801.4 1525.4,802.3 1520.7,802.3 1520.7,799.2 1516.0,799.2 1516.0,798.9 1511.2,798.9 1511.2,798.4 1506.5,798.4 1506.5,799.4 1501.8,799.4 1501.8,797.7 1497.1,797.7 1497.1,797.1 1492.4,797.1 1492.4,800.4 1487.7,800.4 1487.7,797.4 1483.0,797.4 1483.0,799.7 1478.3,799.7 1478.3,799.5 1473.6,799.5 1473.6,799.1 1468.9,799.1 1468.9,799.9 1464.2,799.9 1464.2,796.7 1459.4,796.7 1459.4,798.5 1454.7,798.5 1454.7,800.1 1450.0,800.1 1450.0,799.9 1445.3,799.9 1445.3,796.3 1440.6,796.3 1440.6,799.3 1435.9,799.3 1435.9,796.8 1431.2,796.8 1431.2,797.9 1426.5,797.9 1426.5,796.3 1421.8,796.3 1421.8,800.4 1417.1,800.4 1417.1,799.3 1412.3,799.3 1412.3,799.1 1407.6,799.1 1407.6,797.9 1402.9,797.9 1402.9,797.9 1398.2,797.9 1398.2,797.0 1393.5,797.0 1393.5,799.6 1388.8,799.6 1388.8,797.5 1384.1,797.5 1384.1,796.7 1379.4,796.7 1379.4,798.9 1374.7,798.9 1374.7,796.8 1370.0,796.8 1370.0,799.7 1365.2,799.7 1365.2,800.6 1360.5,800.6 1360.5,800.2 1355.8,800.2 1355.8,801.4 1351.1,801.4 1351.1,799.7 1346.4,799.7 1346.4,798.4 1341.7,798.4 1341.7,801.3 1337.0,801.3 1337.0,801.1 1332.3,801.1 1332.3,800.2 1327.6,800.2 1327.6,799.9 1322.9,799.9 1322.9,798.3 1318.1,798.3 1318.1,798.5 1313.4,798.5 1313.4,799.9 1308.7,799.9 1308.7,801.3 1304.0,801.3 1304.0,799.6 1299.3,799.6 1299.3,802.7 1294.6,802.7 1294.6,800.6 1289.9,800.6 1289.9,799.2 1285.2,799.2 1285.2,802.4 1280.5,802.4 1280.5,800.5 1275.8,800.5 1275.8,800.5 1271.0,800.5 1271.0,799.9 1266.3,799.9 1266.3,801.0 1261.6,801.0 1261.6,798.9 1256.9,798.9 1256.9,802.8 1252.2,802.8 1252.2,801.5 1247.5,801.5 1247.5,801.5 1242.8,801.5 1242.8,801.6 1238.1,801.6 1238.1,799.3 1233.4,799.3 1233.4,802.3 1228.7,802.3 1228.7,801.1 1223.9,801.1 1223.9,800.0 1219.2,800.0 1219.2,799.9 1214.5,799.9 1214.5,799.3 1209.8,799.3 1209.8,802.3 1205.1,802.3 1205.1,802.1 1200.4,802.1 1200.4,803.0 1195.7,803.0 1195.7,801.1 1191.0,801.1 1191.0,800.8 1186.3,800.8 1186.3,799.2 1181.6,799.2 1181.6,799.6 1176.8,799.6 1176.8,801.6 1172.1,801.6 1172.1,802.7 1167.4,802.7 1167.4,801.7 1162.7,801.7 1162.7,800.5 1158.0,800.5 1158.0,800.0 1153.3,800.0 1153.3,803.0 1148.6,803.0 1148.6,802.2 1143.9,802.2 1143.9,802.9 1139.2,802.9 1139.2,801.6 1134.5,801.6 1134.5,802.1 1129.7,802.1 1129.7,800.9 1125.0,800.9 1125.0,799.7 1120.3,799.7 1120.3,801.1 1115.6,801.1 1115.6,800.2 1110.9,800.2" fill="#cccccc"/>
<polygon points="1332.3,750.8 1337.0,750.8 1337.0,712.4 1341.7,712.4 1341.7,669.3 1346.4,669.3 1346.4,627.7 1351.1,627.7 1351.1,612.2 1355.8,612.2 1355.8,604.3 1360.5,604.3 1360.5,605.2 1365.2,605.2 1365.2,604.2 1370.0,604.2 1370.0,615.5 1374.7,615.5 1374.7,621.2 1379.4,621.2 1379.4,623.6 1384.1,623.6 1384.1,621.3 1388.8,621.3 1388.8,620.0 1393.5,620.0 1393.5,618.1 1398.2,618.1 1398.2,617.4 1402.9,617.4 1402.9,618.9 1407.6,618.9 1407.6,619.6 1412.3,619.6 1412.3,617.8 1417.1,617.8 1417.1,622.3 1421.8,622.3 1421.8,622.5 1426.5,622.5 1426.5,629.3 1431.2,629.3 1431.2,633.6 1435.9,633.6 1435.9,637.2 1440.6,637.2 1440.6,644.8 1445.3,644.8 1445.3,649.8 1450.0,649.8 1450.0,658.0 1454.7,658.0 1454.7,662.8 1459.4,662.8 1459.4,666.2 1464.2,666.2 1464.2,670.0 1468.9,670.0 1468.9,677.5 1473.6,677.5 1473.6,681.7 1478.3,681.7 1478.3,686.9 1483.0,686.9 1483.0,690.0 1487.7,690.0 1487.7,698.7 1492.4,698.7 1492.4,703.8 1497.1,703.8 1497.1,712.6 1501.8,712.6 1501.8,720.9 1506.5,720.9 1506.5,729.9 1511.2,729.9 1511.2,737.9 1516.0,737.9 1516.0,747.0 1520.7,747.0 1520.7,752.7 1525.4,752.7 1525.4,756.3 1530.1,756.3 1530.1,756.4 1533.9,756.4 1533.9,799.8 1530.1,799.8 1530.1,795.5 1525.4,795.5 1525.4,796.2 1520.7,796.2 1520.7,792.8 1516.0,792.8 1516.0,785.6 1511.2,785.6 1511.2,782.2 1506.5,782.2 1506.5,774.2 1501.8,774.2 1501.8,768.8 1497.1,768.8 1497.1,765.4 1492.4,765.4 1492.4,761.6 1487.7,761.6 1487.7,755.7 1483.0,755.7 1483.0,749.9 1478.3,749.9 1478.3,748.0 1473.6,748.0 1473.6,741.5 1468.9,741.5 1468.9,739.7 1464.2,739.7 1464.2,736.4 1459.4,736.4 1459.4,732.1 1454.7,732.1 1454.7,728.5 1450.0,728.5 1450.0,725.6 1445.3,725.6 1445.3,719.6 1440.6,719.6 1440.6,715.8 1435.9,715.8 1435.9,709.6 1431.2,709.6 1431.2,706.8 1426.5,706.8 1426.5,703.9 1421.8,703.9 1421.8,696.7 1417.1,696.7 1417.1,693.0 1412.3,693.0 1412.3,689.9 1407.6,689.9 1407.6,688.6 1402.9,688.6 1402.9,689.5 1398.2,689.5 1398.2,689.2 1393.5,689.2 1393.5,687.4 1388.8,687.4 1388.8,686.8 1384.1,686.8 1384.1,687.2 1379.4,687.2 1379.4,684.1 1374.7,684.1 1374.7,683.1 1370.0,683.1 1370.0,673.9 1365.2,673.9 1365.2,673.9 1360.5,673.9 1360.5,681.9 1355.8,681.9 1355.8,696.7 1351.1,696.7 1351.1,719.7 1346.4,719.7 1346.4,748.6 1341.7,748.6 1341.7,768.9 1337.0,768.9 1337.0,788.4 1332.3,788.4" fill="#cccccc"/>
<polygon points="1332.3,762.2 1337.0,762.2 1337.0,750.7 1341.7,750.7 1341.7,740.1 1346.4,740.1 1346.4,729.5 1351.1,729.5 1351.1,720.6 1355.8,720.6 1355.8,711.5 1360.5,711.5 1360.5,704.0 1365.2,704.0 1365.2,699.5 1370.0,699.5 1370.0,703.8 1374.7,703.8 1374.7,707.9 1379.4,707.9 1379.4,710.4 1384.1,710.4 1384.1,714.9 1388.8,714.9 1388.8,718.0 1393.5,718.0 1393.5,721.5 1398.2,721.5 1398.2,723.4 1402.9,723.4 1402.9,725.6 1407.6,725.6 1407.6,726.4 1412.3,726.4 1412.3,728.1 1417.1,728.1 1417.1,730.6 1421.8,730.6 1421.8,734.8 1426.5,734.8 1426.5,735.4 1431.2,735.4 1431.2,740.4 1435.9,740.4 1435.9,743.4 1440.6,743.4 1440.6,744.3 1445.3,744.3 1445.3,747.8 1450.0,747.8 1450.0,750.1 1454.7,750.1 1454.7,750.2 1459.4,750.2 1459.4,753.5 1464.2,753.5 1464.2,753.4 1468.9,753.4 1468.9,754.6 1473.6,754.6 1473.6,756.8 1478.3,756.8 1478.3,757.8 1483.0,757.8 1483.0,760.4 1487.7,760.4 1487.7,761.4 1492.4,761.4 1492.4,761.6 1497.1,761.6 1497.1,759.5 1501.8,759.5 1501.8,759.2 1506.5,759.2 1506.5,760.1 1511.2,760.1 1511.2,759.5 1516.0,759.5 1516.0,758.8 1520.7,758.8 1520.7,761.4 1525.4,761.4 1525.4,760.5 1530.1,760.5 1530.1,759.1 1533.9,759.1 1533.9,780.5 1530.1,780.5 1530.1,782.7 1525.4,782.7 1525.4,782.8 1520.7,782.8 1520.7,781.6 1516.0,781.6 1516.0,781.4 1511.2,781.4 1511.2,779.0 1506.5,779.0 1506.5,778.9 1501.8,778.9 1501.8,778.5 1497.1,778.5 1497.1,778.8 1492.4,778.8 1492.4,779.8 1487.7,779.8 1487.7,777.5 1483.0,777.5 1483.0,776.9 1478.3,776.9 1478.3,776.3 1473.6,776.3 1473.6,777.8 1468.9,777.8 1468.9,775.6 1464.2,775.6 1464.2,776.8 1459.4,776.8 1459.4,774.7 1454.7,774.7 1454.7,774.8 1450.0,774.8 1450.0,773.9 1445.3,773.9 1445.3,771.7 1440.6,771.7 1440.6,772.6 1435.9,772.6 1435.9,772.3 1431.2,772.3 1431.2,771.0 1426.5,771.0 1426.5,769.6 1421.8,769.6 1421.8,769.0 1417.1,769.0 1417.1,766.7 1412.3,766.7 1412.3,764.5 1407.6,764.5 1407.6,765.2 1402.9,765.2 1402.9,761.8 1398.2,761.8 1398.2,761.0 1393.5,761.0 1393.5,759.3 1388.8,759.3 1388.8,756.7 1384.1,756.7 1384.1,755.1 1379.4,755.1 1379.4,755.2 1374.7,755.2 1374.7,751.5 1370.0,751.5 1370.0,751.2 1365.2,751.2 1365.2,754.4 1360.5,754.4 1360.5,755.3 1355.8,755.3 1355.8,759.5 1351.1,759.5 1351.1,766.7 1346.4,766.7 1346.4,773.6 1341.7,773.6 1341.7,784.2 1337.0,784.2 1337.0,791.0 1332.3,791.0" fill="#cccccc"/>
<polyline points="1111.8,782.1 1115.0,782.6 1118.1,783.9 1121.2,782.0 1124.3,784.1 1127.4,785.5 1130.5,786.8 1133.6,785.2 1136.7,786.0 1139.8,785.7 1142.9,787.5 1146.0,787.7 1149.1,788.4 1152.3,787.5 1155.4,790.4 1158.5,785.5 1161.6,787.2 1164.7,787.3 1167.8,786.5 1170.9,788.0 1174.0,787.3 1177.1,786.7 1180.2,789.5 1183.3,785.7 1186.4,787.6 1189.6,787.1 1192.7,789.0 1195.8,788.6 1198.9,786.0 1202.0,788.6 1205.1,788.5 1208.2,786.8 1211.3,785.1 1214.4,788.9 1217.5,783.8 1220.6,784.6 1223.8,783.2 1226.9,785.8 1230.0,784.7 1233.1,783.6 1236.2,786.0 1239.3,787.0 1242.4,787.2 1245.5,787.7 1248.6,786.6 1251.7,787.7 1254.8,788.4 1257.9,786.7 1261.1,788.7 1264.2,788.9 1267.3,784.1 1270.4,787.5 1273.5,784.7 1276.6,786.4 1279.7,786.4 1282.8,785.3 1285.9,786.7 1289.0,786.5 1292.1,785.5 1295.2,785.5 1298.4,784.0 1301.5,782.1 1304.6,785.1 1307.7,784.1 1310.8,781.6 1313.9,781.3 1317.0,779.9 1320.1,781.9 1323.2,780.3 1326.3,781.1 1329.4,782.9 1332.6,780.5 1335.7,782.8 1338.8,780.3 1341.9,781.2 1345.0,780.8 1348.1,777.9 1351.2,778.4 1354.3,779.5 1357.4,779.4 1360.5,780.5 1363.6,778.0 1366.7,778.5 1369.9,780.0 1373.0,780.7 1376.1,778.6 1379.2,778.6 1382.3,777.2 1385.4,779.1 1388.5,778.7 1391.6,777.0 1394.7,777.2 1397.8,775.9 1400.9,775.5 1404.1,777.7 1407.2,779.4 1410.3,776.6 1413.4,777.5 1416.5,776.4 1419.6,779.8 1422.7,776.9 1425.8,776.9 1428.9,777.9 1432.0,777.0 1435.1,777.7 1438.2,777.8 1441.4,776.8 1444.5,776.8 1447.6,776.9 1450.7,777.9 1453.8,778.1 1456.9,777.6 1460.0,777.9 1463.1,779.1 1466.2,777.8 1469.3,777.2 1472.4,778.8 1475.5,779.6 1478.7,777.6 1481.8,779.2 1484.9,780.0 1488.0,778.6 1491.1,780.1 1494.2,778.2 1497.3,779.3 1500.4,778.8 1503.5,777.7 1506.6,777.9 1509.7,779.4 1512.9,782.1 1516.0,780.1 1519.1,781.1 1522.2,778.8 1525.3,778.2 1528.4,779.4 1531.5,779.6 1534.6,779.8 1537.7,779.8 1540.8,781.1 1543.9,779.7 1547.0,781.2 1550.2,782.3 1553.3,781.0 1556.4,779.3 1559.5,781.5 1562.6,783.5 1565.7,780.1 1568.8,781.3 1571.9,781.1 1575.0,782.4 1578.1,781.4 1581.2,780.2 1584.3,783.0 1587.5,781.6 1590.6,782.2 1593.7,783.7 1596.8,782.7 1599.9,782.4 1603.0,784.3 1606.1,782.1 1609.2,784.9 1612.3,782.5 1615.4,783.3 1618.5,783.9 1621.7,785.3 1624.8,785.4 1627.9,787.3 1631.0,784.8 1634.1,785.0 1637.2,784.3 1640.3,783.8 1643.4,784.9 1646.5,785.6 1649.6,784.1 1652.7,785.3 1655.8,785.4 1659.0,786.8 1662.1,784.3 1665.2,786.4 1668.3,783.4 1671.4,786.7 1674.5,786.4" fill="none" stroke="#444444" stroke-width="3.3" stroke-linejoin="round" stroke-linecap="round"/>
<polyline points="1111.8,785.1 1115.0,785.6 1118.1,787.2 1121.2,783.6 1124.3,788.6 1127.4,786.6 1130.5,785.5 1133.6,786.0 1136.7,786.2 1139.8,788.6 1142.9,784.7 1146.0,788.4 1149.1,787.7 1152.3,787.7 1155.4,787.9 1158.5,788.7 1161.6,785.8 1164.7,787.9 1167.8,786.5 1170.9,790.1 1174.0,787.0 1177.1,788.1 1180.2,787.3 1183.3,787.5 1186.4,787.2 1189.6,787.9 1192.7,787.6 1195.8,787.5 1198.9,787.3 1202.0,787.6 1205.1,788.1 1208.2,787.0 1211.3,788.7 1214.4,784.7 1217.5,786.3 1220.6,785.4 1223.8,787.6 1226.9,788.2 1230.0,787.3 1233.1,785.2 1236.2,783.8 1239.3,782.3 1242.4,781.1 1245.5,779.6 1248.6,783.7 1251.7,778.1 1254.8,780.9 1257.9,780.2 1261.1,782.8 1264.2,780.0 1267.3,782.3 1270.4,779.6 1273.5,779.9 1276.6,780.1 1279.7,780.5 1282.8,780.6 1285.9,780.7 1289.0,779.0 1292.1,780.1 1295.2,779.9 1298.4,776.9 1301.5,780.5 1304.6,782.5 1307.7,785.0 1310.8,785.5 1313.9,781.9 1317.0,780.9 1320.1,783.5 1323.2,783.7 1326.3,782.4 1329.4,782.3 1332.6,781.8 1335.7,783.9 1338.8,785.2 1341.9,784.0 1345.0,786.9 1348.1,787.9 1351.2,787.5 1354.3,786.4 1357.4,786.6 1360.5,786.1 1363.6,786.1 1366.7,782.9 1369.9,785.7 1373.0,789.2 1376.1,788.3 1379.2,786.1 1382.3,787.6 1385.4,783.5 1388.5,787.1 1391.6,787.1 1394.7,786.7 1397.8,787.8 1400.9,787.4 1404.1,789.0 1407.2,788.2 1410.3,789.4 1413.4,792.2 1416.5,788.0 1419.6,786.3 1422.7,789.9 1425.8,789.4 1428.9,787.5 1432.0,789.3 1435.1,788.4 1438.2,788.9 1441.4,787.7 1444.5,788.8 1447.6,785.8 1450.7,788.5 1453.8,788.9 1456.9,790.6 1460.0,788.4 1463.1,789.9 1466.2,787.7 1469.3,787.8 1472.4,784.9 1475.5,789.7 1478.7,788.4 1481.8,787.1 1484.9,791.4 1488.0,787.7 1491.1,786.3 1494.2,789.1 1497.3,789.4 1500.4,788.0 1503.5,789.6 1506.6,789.8 1509.7,789.0 1512.9,791.3 1516.0,787.5 1519.1,790.7 1522.2,790.2 1525.3,790.7 1528.4,793.8 1531.5,792.4 1534.6,790.7 1537.7,790.2 1540.8,788.6 1543.9,786.5 1547.0,789.2 1550.2,790.3 1553.3,791.1 1556.4,788.3 1559.5,791.1 1562.6,790.2 1565.7,788.1 1568.8,789.9 1571.9,789.6 1575.0,789.0 1578.1,791.2 1581.2,788.8 1584.3,788.3 1587.5,788.1 1590.6,789.1 1593.7,791.6 1596.8,789.7 1599.9,787.5 1603.0,789.7 1606.1,789.8 1609.2,787.8 1612.3,787.8 1615.4,788.3 1618.5,787.7 1621.7,787.4 1624.8,787.9 1627.9,788.1 1631.0,786.0 1634.1,790.1 1637.2,785.5 1640.3,788.2 1643.4,789.6 1646.5,787.6 1649.6,787.1 1652.7,790.2 1655.8,788.3 1659.0,787.4 1662.1,787.4 1665.2,788.5 1668.3,790.0 1671.4,788.7 1674.5,785.5" fill="none" stroke="#ff85b3" stroke-width="3.3" stroke-linejoin="round" stroke-linecap="round"/>
<polyline points="1111.8,795.3 1115.0,791.4 1118.1,786.8 1121.2,787.9 1124.3,789.7 1127.4,791.7 1130.5,786.9 1133.6,789.8 1136.7,791.6 1139.8,793.0 1142.9,796.7 1146.0,790.6 1149.1,793.2 1152.3,791.2 1155.4,787.6 1158.5,792.2 1161.6,791.8 1164.7,789.3 1167.8,792.2 1170.9,791.5 1174.0,794.7 1177.1,794.2 1180.2,796.1 1183.3,789.9 1186.4,789.4 1189.6,793.6 1192.7,792.9 1195.8,793.6 1198.9,786.3 1202.0,790.4 1205.1,793.3 1208.2,791.4 1211.3,790.0 1214.4,795.9 1217.5,792.1 1220.6,792.3 1223.8,793.9 1226.9,792.2 1230.0,791.4 1233.1,794.4 1236.2,794.9 1239.3,791.3 1242.4,792.7 1245.5,791.6 1248.6,787.4 1251.7,790.7 1254.8,791.3 1257.9,793.9 1261.1,789.3 1264.2,789.4 1267.3,788.9 1270.4,789.2 1273.5,788.9 1276.6,790.2 1279.7,790.6 1282.8,789.7 1285.9,792.9 1289.0,793.7 1292.1,793.9 1295.2,791.4 1298.4,796.1 1301.5,793.1 1304.6,792.6 1307.7,791.5 1310.8,794.9 1313.9,792.4 1317.0,792.6 1320.1,793.7 1323.2,791.6 1326.3,791.6 1329.4,793.3 1332.6,788.7 1335.7,766.5 1338.8,737.1 1341.9,718.2 1345.0,695.7 1348.1,679.1 1351.2,662.0 1354.3,647.1 1357.4,639.6 1360.5,639.9 1363.6,636.5 1366.7,638.4 1369.9,642.1 1373.0,650.7 1376.1,653.8 1379.2,652.4 1382.3,662.9 1385.4,660.4 1388.5,658.4 1391.6,660.0 1394.7,653.0 1397.8,654.2 1400.9,655.2 1404.1,657.6 1407.2,658.7 1410.3,661.5 1413.4,659.2 1416.5,658.2 1419.6,660.4 1422.7,657.0 1425.8,665.1 1428.9,671.0 1432.0,669.2 1435.1,670.4 1438.2,679.8 1441.4,681.4 1444.5,687.9 1447.6,692.8 1450.7,692.3 1453.8,697.4 1456.9,700.3 1460.0,700.7 1463.1,702.8 1466.2,707.1 1469.3,706.8 1472.4,713.9 1475.5,716.2 1478.7,716.5 1481.8,716.5 1484.9,719.9 1488.0,725.2 1491.1,731.0 1494.2,738.3 1497.3,736.2 1500.4,743.6 1503.5,743.3 1506.6,753.6 1509.7,763.4 1512.9,762.3 1516.0,769.8 1519.1,774.3 1522.2,775.8 1525.3,779.2 1528.4,777.4 1531.5,781.2 1534.6,775.5 1537.7,777.3 1540.8,784.4 1543.9,781.3 1547.0,785.9 1550.2,791.4 1553.3,783.4 1556.4,789.1 1559.5,788.9 1562.6,790.4 1565.7,785.4 1568.8,790.0 1571.9,791.8 1575.0,791.7 1578.1,788.7 1581.2,788.6 1584.3,793.1 1587.5,791.0 1590.6,796.7 1593.7,795.1 1596.8,794.2 1599.9,794.8 1603.0,794.8 1606.1,794.8 1609.2,796.7 1612.3,794.9 1615.4,794.7 1618.5,798.5 1621.7,799.0 1624.8,794.7 1627.9,795.5 1631.0,793.6 1634.1,789.9 1637.2,788.4 1640.3,791.7 1643.4,792.3 1646.5,798.5 1649.6,793.3 1652.7,793.7 1655.8,794.9 1659.0,796.0 1662.1,793.2 1665.2,794.8 1668.3,796.2 1671.4,793.1 1674.5,794.1" fill="none" stroke="#00a9ff" stroke-width="3.3" stroke-linejoin="round" stroke-linecap="round"/>
<polyline points="1111.8,785.9 1115.0,784.3 1118.1,782.1 1121.2,787.1 1124.3,783.2 1127.4,785.5 1130.5,783.0 1133.6,785.3 1136.7,785.2 1139.8,784.4 1142.9,786.1 1146.0,785.4 1149.1,785.8 1152.3,783.4 1155.4,785.3 1158.5,788.6 1161.6,785.5 1164.7,785.8 1167.8,786.3 1170.9,784.3 1174.0,784.9 1177.1,789.0 1180.2,784.7 1183.3,787.6 1186.4,787.7 1189.6,788.0 1192.7,787.5 1195.8,786.2 1198.9,789.4 1202.0,787.9 1205.1,788.9 1208.2,788.4 1211.3,788.9 1214.4,787.5 1217.5,787.4 1220.6,790.4 1223.8,788.6 1226.9,791.7 1230.0,789.1 1233.1,788.3 1236.2,790.0 1239.3,786.0 1242.4,789.2 1245.5,791.4 1248.6,789.7 1251.7,791.6 1254.8,789.7 1257.9,790.6 1261.1,790.3 1264.2,794.6 1267.3,791.6 1270.4,789.1 1273.5,789.0 1276.6,788.9 1279.7,789.7 1282.8,788.4 1285.9,788.5 1289.0,789.1 1292.1,788.1 1295.2,788.4 1298.4,790.5 1301.5,788.9 1304.6,788.2 1307.7,789.9 1310.8,792.8 1313.9,790.0 1317.0,789.1 1320.1,793.5 1323.2,791.8 1326.3,791.3 1329.4,786.7 1332.6,787.3 1335.7,780.1 1338.8,769.3 1341.9,761.3 1345.0,755.3 1348.1,746.7 1351.2,739.6 1354.3,736.6 1357.4,727.5 1360.5,727.6 1363.6,723.0 1366.7,718.1 1369.9,719.6 1373.0,726.3 1376.1,728.8 1379.2,729.7 1382.3,735.5 1385.4,739.4 1388.5,738.8 1391.6,739.3 1394.7,737.6 1397.8,739.5 1400.9,740.9 1404.1,736.9 1407.2,743.5 1410.3,746.6 1413.4,745.1 1416.5,747.2 1419.6,748.9 1422.7,751.8 1425.8,750.0 1428.9,750.9 1432.0,753.7 1435.1,754.6 1438.2,759.2 1441.4,757.2 1444.5,763.1 1447.6,760.7 1450.7,764.5 1453.8,765.3 1456.9,764.7 1460.0,766.4 1463.1,764.3 1466.2,767.4 1469.3,766.2 1472.4,765.7 1475.5,765.8 1478.7,766.3 1481.8,768.3 1484.9,765.1 1488.0,768.8 1491.1,769.8 1494.2,768.7 1497.3,766.4 1500.4,772.4 1503.5,770.8 1506.6,768.0 1509.7,770.4 1512.9,773.0 1516.0,770.1 1519.1,770.4 1522.2,771.8 1525.3,773.9 1528.4,772.5 1531.5,773.3 1534.6,770.3 1537.7,774.5 1540.8,775.9 1543.9,772.6 1547.0,773.7 1550.2,771.4 1553.3,777.7 1556.4,774.2 1559.5,772.4 1562.6,774.5 1565.7,774.3 1568.8,776.5 1571.9,773.2 1575.0,778.7 1578.1,777.2 1581.2,778.0 1584.3,777.8 1587.5,776.2 1590.6,777.2 1593.7,776.4 1596.8,775.4 1599.9,775.4 1603.0,774.5 1606.1,778.0 1609.2,774.2 1612.3,780.1 1615.4,780.4 1618.5,779.3 1621.7,780.5 1624.8,777.9 1627.9,778.4 1631.0,778.1 1634.1,778.4 1637.2,779.2 1640.3,775.6 1643.4,781.9 1646.5,781.1 1649.6,781.9 1652.7,779.7 1655.8,782.1 1659.0,782.8 1662.1,783.4 1665.2,781.7 1668.3,783.2 1671.4,780.3 1674.5,780.5" fill="none" stroke="#cc0055" stroke-width="3.3" stroke-linejoin="round" stroke-linecap="round"/>
<path d="M1103.8 572.7V824.4H1677.8" fill="none" stroke="#000" stroke-width="4.0" stroke-linecap="butt" stroke-linejoin="miter"/>
<line x1="1095.3" y1="574.2" x2="1103.8" y2="574.2" stroke="#000" stroke-width="3.6" stroke-linecap="butt"/>
<line x1="1095.3" y1="682.2" x2="1103.8" y2="682.2" stroke="#000" stroke-width="3.6" stroke-linecap="butt"/>
<line x1="1095.3" y1="790.2" x2="1103.8" y2="790.2" stroke="#000" stroke-width="3.6" stroke-linecap="butt"/>
<line x1="1110.9" y1="824.4" x2="1110.9" y2="835.4" stroke="#000" stroke-width="3.6" stroke-linecap="butt"/>
<line x1="1205.1" y1="824.4" x2="1205.1" y2="835.4" stroke="#000" stroke-width="3.6" stroke-linecap="butt"/>
<line x1="1299.3" y1="824.4" x2="1299.3" y2="835.4" stroke="#000" stroke-width="3.6" stroke-linecap="butt"/>
<line x1="1393.5" y1="824.4" x2="1393.5" y2="835.4" stroke="#000" stroke-width="3.6" stroke-linecap="butt"/>
<line x1="1487.7" y1="824.4" x2="1487.7" y2="835.4" stroke="#000" stroke-width="3.6" stroke-linecap="butt"/>
<line x1="1581.9" y1="824.4" x2="1581.9" y2="835.4" stroke="#000" stroke-width="3.6" stroke-linecap="butt"/>
<line x1="1676.1" y1="824.4" x2="1676.1" y2="835.4" stroke="#000" stroke-width="3.6" stroke-linecap="butt"/>
<text x="1091.7" y="583.1" font-size="26.5" text-anchor="end" letter-spacing="1.4">0.4</text>
<text x="1091.7" y="691.1" font-size="26.5" text-anchor="end" letter-spacing="1.4">0.2</text>
<text x="1090.3" y="799.1" font-size="26.5" text-anchor="end">0</text>
<text x="1110.9" y="857.8" font-size="26.5" text-anchor="middle">0</text>
<text x="1205.9" y="857.8" font-size="26.5" text-anchor="middle" letter-spacing="1.6">10</text>
<text x="1300.1" y="857.8" font-size="26.5" text-anchor="middle" letter-spacing="1.6">20</text>
<text x="1394.3" y="857.8" font-size="26.5" text-anchor="middle" letter-spacing="1.6">30</text>
<text x="1488.5" y="857.8" font-size="26.5" text-anchor="middle" letter-spacing="1.6">40</text>
<text x="1582.7" y="857.8" font-size="26.5" text-anchor="middle" letter-spacing="1.6">50</text>
<text x="1676.9" y="857.8" font-size="26.5" text-anchor="middle" letter-spacing="1.6">60</text>
<text x="1392.0" y="888.6" font-size="26.5" text-anchor="middle" textLength="92.8" lengthAdjust="spacing">Time (s)</text>
<text x="1035.1" y="767.2" font-size="26.5" textLength="48.2" lengthAdjust="spacing" transform="rotate(-90 1035.1 767.2)">AIB</text>
<text x="1031.9" y="707.7" font-size="24.3" style="font-family:'DejaVu Sans',sans-serif;font-weight:normal" transform="rotate(-90 1031.9 707.7)">△</text>
<text x="1035.1" y="678.9" font-size="26.5" textLength="41.2" lengthAdjust="spacing" transform="rotate(-90 1035.1 678.9)">F/F</text>
<text x="1044.3" y="637.4" font-size="16.5" transform="rotate(-90 1044.3 637.4)">0</text>
<rect x="1194.4" y="496.8" width="20.9" height="14.6" fill="#444444" rx="2.5" />
<rect x="1194.4" y="539.3" width="20.9" height="14.6" fill="#00a9ff" rx="2.5" />
<rect x="1540.2" y="496.6" width="20.9" height="14.6" fill="#ff85b3" rx="2.5" />
<rect x="1540.2" y="538.6" width="20.9" height="14.6" fill="#cc0055" rx="2.5" />
<text x="1232.2" y="513.0" font-size="26.5" textLength="252.0" lengthAdjust="spacing">ASH::TRPV1 (CAP -)</text>
<text x="1232.2" y="555.1" font-size="26.5" textLength="259.2" lengthAdjust="spacing">ASH::TRPV1 (CAP +)</text>
<text x="1582.3" y="510.8" font-size="26.5" textLength="323.3" lengthAdjust="spacing"><tspan font-style="italic">glr-1;</tspan> ASH::TRPV1 (CAP -)</text>
<text x="1582.3" y="552.9" font-size="26.5" textLength="329.2" lengthAdjust="spacing"><tspan font-style="italic">glr-1;</tspan> ASH::TRPV1 (CAP +)</text>
<path d="M1833.8 594.6V826.3H1997.6" fill="none" stroke="#000" stroke-width="4.0" stroke-linecap="butt" stroke-linejoin="miter"/>
<line x1="1825.3" y1="602.0" x2="1833.8" y2="602.0" stroke="#000" stroke-width="3.6" stroke-linecap="butt"/>
<line x1="1825.3" y1="709.6" x2="1833.8" y2="709.6" stroke="#000" stroke-width="3.6" stroke-linecap="butt"/>
<line x1="1825.3" y1="817.4" x2="1833.8" y2="817.4" stroke="#000" stroke-width="3.6" stroke-linecap="butt"/>
<line x1="1841.9" y1="826.3" x2="1841.9" y2="837.3" stroke="#000" stroke-width="3.6" stroke-linecap="butt"/>
<line x1="1996.2" y1="826.3" x2="1996.2" y2="837.3" stroke="#000" stroke-width="3.6" stroke-linecap="butt"/>
<text x="1819.7" y="610.9" font-size="26.5" text-anchor="end">1</text>
<text x="1818.8" y="718.5" font-size="26.5" text-anchor="end" letter-spacing="0.7">0.5</text>
<text x="1818.1" y="826.3" font-size="26.5" text-anchor="end">0</text>
<text x="1768.0" y="781.5" font-size="26.5" textLength="53.8" lengthAdjust="spacing" transform="rotate(-90 1768.0 781.5)">Peak</text>
<text x="1764.5" y="711.6" font-size="27" style="font-family:'DejaVu Sans',sans-serif;font-weight:normal" transform="rotate(-90 1764.5 711.6)">△</text>
<text x="1768.0" y="686.7" font-size="26.5" textLength="42.5" lengthAdjust="spacing" transform="rotate(-90 1768.0 686.7)">F/F</text>
<text x="1777.2" y="644.2" font-size="16.5" transform="rotate(-90 1777.2 644.2)">0</text>
<rect x="1843.3" y="812.1" width="24.3" height="5.7" fill="#444444" />
<rect x="1875.4" y="749.2" width="24.3" height="68.6" fill="#00a9ff" />
<rect x="1939.4" y="812.1" width="24.3" height="5.7" fill="#ff85b3" />
<rect x="1971.8" y="786.0" width="24.3" height="31.8" fill="#cc0055" />
<line x1="1855.4" y1="807.1" x2="1855.4" y2="813.1" stroke="#444444" stroke-width="3.4" stroke-linecap="butt"/>
<line x1="1849.9" y1="807.1" x2="1860.9" y2="807.1" stroke="#444444" stroke-width="3.4" stroke-linecap="butt"/>
<line x1="1887.4" y1="735.1" x2="1887.4" y2="750.2" stroke="#00a9ff" stroke-width="3.4" stroke-linecap="butt"/>
<line x1="1881.9" y1="735.1" x2="1892.9" y2="735.1" stroke="#00a9ff" stroke-width="3.4" stroke-linecap="butt"/>
<line x1="1951.5" y1="809.2" x2="1951.5" y2="813.1" stroke="#ff85b3" stroke-width="3.4" stroke-linecap="butt"/>
<line x1="1946.0" y1="809.2" x2="1957.0" y2="809.2" stroke="#ff85b3" stroke-width="3.4" stroke-linecap="butt"/>
<line x1="1983.8" y1="776.3" x2="1983.8" y2="787.0" stroke="#cc0055" stroke-width="3.4" stroke-linecap="butt"/>
<line x1="1978.3" y1="776.3" x2="1989.3" y2="776.3" stroke="#cc0055" stroke-width="3.4" stroke-linecap="butt"/>
<circle cx="1855.4" cy="800.4" r="3.0" fill="#fff" stroke="#000" stroke-width="2.4"/>
<circle cx="1855.4" cy="807.1" r="3.0" fill="#fff" stroke="#000" stroke-width="2.4"/>
<circle cx="1855.4" cy="812.1" r="3.0" fill="#fff" stroke="#000" stroke-width="2.4"/>
<circle cx="1855.4" cy="816.0" r="3.0" fill="#fff" stroke="#000" stroke-width="2.4"/>
<circle cx="1887.4" cy="686.9" r="3.0" fill="#fff" stroke="#000" stroke-width="2.4"/>
<circle cx="1887.4" cy="707.2" r="3.0" fill="#fff" stroke="#000" stroke-width="2.4"/>
<circle cx="1887.4" cy="713.7" r="3.0" fill="#fff" stroke="#000" stroke-width="2.4"/>
<circle cx="1887.4" cy="736.0" r="3.0" fill="#fff" stroke="#000" stroke-width="2.4"/>
<circle cx="1887.4" cy="743.1" r="3.0" fill="#fff" stroke="#000" stroke-width="2.4"/>
<circle cx="1887.4" cy="761.6" r="3.0" fill="#fff" stroke="#000" stroke-width="2.4"/>
<circle cx="1887.4" cy="765.1" r="3.0" fill="#fff" stroke="#000" stroke-width="2.4"/>
<circle cx="1887.4" cy="774.8" r="3.0" fill="#fff" stroke="#000" stroke-width="2.4"/>
<circle cx="1887.4" cy="780.7" r="3.0" fill="#fff" stroke="#000" stroke-width="2.4"/>
<circle cx="1887.4" cy="809.2" r="3.0" fill="#fff" stroke="#000" stroke-width="2.4"/>
<circle cx="1951.5" cy="811.6" r="3.0" fill="#fff" stroke="#000" stroke-width="2.4"/>
<circle cx="1951.5" cy="813.9" r="3.0" fill="#fff" stroke="#000" stroke-width="2.4"/>
<circle cx="1951.5" cy="816.0" r="3.0" fill="#fff" stroke="#000" stroke-width="2.4"/>
<circle cx="1983.8" cy="756.3" r="3.0" fill="#fff" stroke="#000" stroke-width="2.4"/>
<circle cx="1983.8" cy="776.3" r="3.0" fill="#fff" stroke="#000" stroke-width="2.4"/>
<circle cx="1983.8" cy="783.0" r="3.0" fill="#fff" stroke="#000" stroke-width="2.4"/>
<circle cx="1983.8" cy="792.4" r="3.0" fill="#fff" stroke="#000" stroke-width="2.4"/>
<circle cx="1983.8" cy="799.8" r="3.0" fill="#fff" stroke="#000" stroke-width="2.4"/>
<circle cx="1983.8" cy="805.7" r="3.0" fill="#fff" stroke="#000" stroke-width="2.4"/>
<line x1="1846.3" y1="672.5" x2="1898.3" y2="672.5" stroke="#000" stroke-width="3.6" stroke-linecap="butt"/>
<line x1="1943.3" y1="738.9" x2="1993.8" y2="738.9" stroke="#000" stroke-width="3.6" stroke-linecap="butt"/>
<path d="M1886.5 638.1V599.9H1983.5V702.8" fill="none" stroke="#000" stroke-width="3.2"/>
<text x="1873.1" y="672.0" font-size="30.5" text-anchor="middle" fill="#12a5ff" stroke="#12a5ff" stroke-width="0.5" class="st" letter-spacing="2.7">***</text>
<text x="1969.6" y="738.1" font-size="30.5" text-anchor="middle" fill="#12a5ff" stroke="#12a5ff" stroke-width="0.5" class="st" letter-spacing="2.7">**</text>
<text x="1935.9" y="599.1" font-size="30.5" text-anchor="middle" fill="#12a5ff" stroke="#12a5ff" stroke-width="0.5" class="st" letter-spacing="3.4">*</text>
<text x="110.0" y="983.0" font-size="52">f</text>
<path d="M185.0 1007.9V1278.0H459.8" fill="none" stroke="#000" stroke-width="3.6" stroke-linecap="butt" stroke-linejoin="miter"/>
<line x1="177.2" y1="1058.0" x2="185.0" y2="1058.0" stroke="#000" stroke-width="3.24" stroke-linecap="butt"/>
<line x1="177.2" y1="1163.5" x2="185.0" y2="1163.5" stroke="#000" stroke-width="3.24" stroke-linecap="butt"/>
<line x1="177.2" y1="1269.1" x2="185.0" y2="1269.1" stroke="#000" stroke-width="3.24" stroke-linecap="butt"/>
<line x1="194.1" y1="1278.0" x2="194.1" y2="1286.8" stroke="#000" stroke-width="3.24" stroke-linecap="butt"/>
<line x1="458.1" y1="1278.0" x2="458.1" y2="1286.8" stroke="#000" stroke-width="3.24" stroke-linecap="butt"/>
<text x="170.3" y="1066.9" font-size="26.5" text-anchor="end">10</text>
<text x="170.3" y="1172.4" font-size="26.5" text-anchor="end">5</text>
<text x="170.3" y="1278.0" font-size="26.5" text-anchor="end">0</text>
<text x="92.0" y="1142.6" font-size="26.5" text-anchor="middle" textLength="206.8" lengthAdjust="spacing" transform="rotate(-90 92.0 1142.6)">Reversal initiation</text>
<text x="121.5" y="1142.2" font-size="26.5" text-anchor="middle" textLength="140.0" lengthAdjust="spacing" transform="rotate(-90 121.5 1142.2)">(events/min)</text>
<rect x="194.8" y="1218.7" width="41.9" height="50.8" fill="#aaaaaa" />
<rect x="250.3" y="1153.3" width="41.9" height="116.2" fill="#00a9ff" />
<rect x="361.0" y="1236.1" width="41.9" height="33.4" fill="#aaaaaa" />
<rect x="416.2" y="1191.5" width="41.9" height="78.0" fill="#00cdcb" />
<line x1="215.3" y1="1212.2" x2="215.3" y2="1219.7" stroke="#aaaaaa" stroke-width="3" stroke-linecap="butt"/>
<line x1="210.3" y1="1212.2" x2="220.3" y2="1212.2" stroke="#aaaaaa" stroke-width="3" stroke-linecap="butt"/>
<line x1="271.1" y1="1146.5" x2="271.1" y2="1154.3" stroke="#00a9ff" stroke-width="3" stroke-linecap="butt"/>
<line x1="266.1" y1="1146.5" x2="276.1" y2="1146.5" stroke="#00a9ff" stroke-width="3" stroke-linecap="butt"/>
<line x1="381.5" y1="1230.6" x2="381.5" y2="1237.1" stroke="#aaaaaa" stroke-width="3" stroke-linecap="butt"/>
<line x1="376.5" y1="1230.6" x2="386.5" y2="1230.6" stroke="#aaaaaa" stroke-width="3" stroke-linecap="butt"/>
<line x1="437.0" y1="1184.6" x2="437.0" y2="1192.5" stroke="#00cdcb" stroke-width="3" stroke-linecap="butt"/>
<line x1="432.0" y1="1184.6" x2="442.0" y2="1184.6" stroke="#00cdcb" stroke-width="3" stroke-linecap="butt"/>
<circle cx="215.3" cy="1165.2" r="3.0" fill="#fff" stroke="#000" stroke-width="2.4"/>
<circle cx="215.3" cy="1191.5" r="3.0" fill="#fff" stroke="#000" stroke-width="2.4"/>
<circle cx="215.3" cy="1197.6" r="3.0" fill="#fff" stroke="#000" stroke-width="2.4"/>
<circle cx="215.3" cy="1202.7" r="3.0" fill="#fff" stroke="#000" stroke-width="2.4"/>
<circle cx="215.3" cy="1212.9" r="3.0" fill="#fff" stroke="#000" stroke-width="2.4"/>
<circle cx="215.3" cy="1218.0" r="3.0" fill="#fff" stroke="#000" stroke-width="2.4"/>
<circle cx="215.3" cy="1223.1" r="3.0" fill="#fff" stroke="#000" stroke-width="2.4"/>
<circle cx="215.3" cy="1228.2" r="3.0" fill="#fff" stroke="#000" stroke-width="2.4"/>
<circle cx="215.3" cy="1233.4" r="3.0" fill="#fff" stroke="#000" stroke-width="2.4"/>
<circle cx="215.3" cy="1238.5" r="3.0" fill="#fff" stroke="#000" stroke-width="2.4"/>
<circle cx="215.3" cy="1241.9" r="3.0" fill="#fff" stroke="#000" stroke-width="2.4"/>
<circle cx="215.3" cy="1246.3" r="3.0" fill="#fff" stroke="#000" stroke-width="2.4"/>
<circle cx="271.1" cy="1087.6" r="3.0" fill="#fff" stroke="#000" stroke-width="2.4"/>
<circle cx="271.1" cy="1110.7" r="3.0" fill="#fff" stroke="#000" stroke-width="2.4"/>
<circle cx="271.1" cy="1132.2" r="3.0" fill="#fff" stroke="#000" stroke-width="2.4"/>
<circle cx="271.1" cy="1141.4" r="3.0" fill="#fff" stroke="#000" stroke-width="2.4"/>
<circle cx="271.1" cy="1146.5" r="3.0" fill="#fff" stroke="#000" stroke-width="2.4"/>
<circle cx="271.1" cy="1153.3" r="3.0" fill="#fff" stroke="#000" stroke-width="2.4"/>
<circle cx="271.1" cy="1158.4" r="3.0" fill="#fff" stroke="#000" stroke-width="2.4"/>
<circle cx="271.1" cy="1163.5" r="3.0" fill="#fff" stroke="#000" stroke-width="2.4"/>
<circle cx="271.1" cy="1168.6" r="3.0" fill="#fff" stroke="#000" stroke-width="2.4"/>
<circle cx="271.1" cy="1172.0" r="3.0" fill="#fff" stroke="#000" stroke-width="2.4"/>
<circle cx="271.1" cy="1189.1" r="3.0" fill="#fff" stroke="#000" stroke-width="2.4"/>
<circle cx="381.5" cy="1172.0" r="3.0" fill="#fff" stroke="#000" stroke-width="2.4"/>
<circle cx="381.5" cy="1195.2" r="3.0" fill="#fff" stroke="#000" stroke-width="2.4"/>
<circle cx="381.5" cy="1210.2" r="3.0" fill="#fff" stroke="#000" stroke-width="2.4"/>
<circle cx="381.5" cy="1216.3" r="3.0" fill="#fff" stroke="#000" stroke-width="2.4"/>
<circle cx="381.5" cy="1221.4" r="3.0" fill="#fff" stroke="#000" stroke-width="2.4"/>
<circle cx="381.5" cy="1228.2" r="3.0" fill="#fff" stroke="#000" stroke-width="2.4"/>
<circle cx="381.5" cy="1233.4" r="3.0" fill="#fff" stroke="#000" stroke-width="2.4"/>
<circle cx="381.5" cy="1240.2" r="3.0" fill="#fff" stroke="#000" stroke-width="2.4"/>
<circle cx="381.5" cy="1245.3" r="3.0" fill="#fff" stroke="#000" stroke-width="2.4"/>
<circle cx="381.5" cy="1250.4" r="3.0" fill="#fff" stroke="#000" stroke-width="2.4"/>
<circle cx="381.5" cy="1255.5" r="3.0" fill="#fff" stroke="#000" stroke-width="2.4"/>
<circle cx="381.5" cy="1260.6" r="3.0" fill="#fff" stroke="#000" stroke-width="2.4"/>
<circle cx="381.5" cy="1264.0" r="3.0" fill="#fff" stroke="#000" stroke-width="2.4"/>
<circle cx="437.0" cy="1116.9" r="3.0" fill="#fff" stroke="#000" stroke-width="2.4"/>
<circle cx="437.0" cy="1147.5" r="3.0" fill="#fff" stroke="#000" stroke-width="2.4"/>
<circle cx="437.0" cy="1151.6" r="3.0" fill="#fff" stroke="#000" stroke-width="2.4"/>
<circle cx="437.0" cy="1156.7" r="3.0" fill="#fff" stroke="#000" stroke-width="2.4"/>
<circle cx="437.0" cy="1161.8" r="3.0" fill="#fff" stroke="#000" stroke-width="2.4"/>
<circle cx="437.0" cy="1170.3" r="3.0" fill="#fff" stroke="#000" stroke-width="2.4"/>
<circle cx="437.0" cy="1177.2" r="3.0" fill="#fff" stroke="#000" stroke-width="2.4"/>
<circle cx="437.0" cy="1184.0" r="3.0" fill="#fff" stroke="#000" stroke-width="2.4"/>
<circle cx="437.0" cy="1189.1" r="3.0" fill="#fff" stroke="#000" stroke-width="2.4"/>
<circle cx="437.0" cy="1194.2" r="3.0" fill="#fff" stroke="#000" stroke-width="2.4"/>
<circle cx="437.0" cy="1199.3" r="3.0" fill="#fff" stroke="#000" stroke-width="2.4"/>
<circle cx="437.0" cy="1204.4" r="3.0" fill="#fff" stroke="#000" stroke-width="2.4"/>
<circle cx="437.0" cy="1209.5" r="3.0" fill="#fff" stroke="#000" stroke-width="2.4"/>
<circle cx="437.0" cy="1214.6" r="3.0" fill="#fff" stroke="#000" stroke-width="2.4"/>
<circle cx="437.0" cy="1219.7" r="3.0" fill="#fff" stroke="#000" stroke-width="2.4"/>
<circle cx="437.0" cy="1224.8" r="3.0" fill="#fff" stroke="#000" stroke-width="2.4"/>
<circle cx="437.0" cy="1228.2" r="3.0" fill="#fff" stroke="#000" stroke-width="2.4"/>
<circle cx="437.0" cy="1231.6" r="3.0" fill="#fff" stroke="#000" stroke-width="2.4"/>
<line x1="206.1" y1="1074.3" x2="280.3" y2="1074.3" stroke="#000" stroke-width="3.6" stroke-linecap="butt"/>
<line x1="371.9" y1="1103.2" x2="446.9" y2="1103.2" stroke="#000" stroke-width="3.6" stroke-linecap="butt"/>
<path d="M271.1 1039.9V1019.5H437V1069.9" fill="none" stroke="#000" stroke-width="3.2"/>
<text x="246.3" y="1077.3" font-size="30.5" text-anchor="middle" fill="#12a5ff" stroke="#12a5ff" stroke-width="0.5" class="st" letter-spacing="5.6">***</text>
<text x="412.5" y="1105.9" font-size="30.5" text-anchor="middle" fill="#12a5ff" stroke="#12a5ff" stroke-width="0.5" class="st" letter-spacing="5.6">***</text>
<text x="355.3" y="1017.3" font-size="30.5" text-anchor="middle" fill="#12a5ff" stroke="#12a5ff" stroke-width="0.5" class="st" letter-spacing="5.6">***</text>
<text x="120.5" y="1316.1" font-size="26.5" textLength="62.0" lengthAdjust="spacing">CAP:</text>
<line x1="204.4" y1="1304.9" x2="223.1" y2="1304.9" stroke="#000" stroke-width="3.4" stroke-linecap="butt"/>
<line x1="374.0" y1="1304.9" x2="394.4" y2="1304.9" stroke="#000" stroke-width="3.4" stroke-linecap="butt"/>
<line x1="259.1" y1="1304.2" x2="279.1" y2="1304.2" stroke="#000" stroke-width="3.4" stroke-linecap="butt"/>
<line x1="269.1" y1="1294.2" x2="269.1" y2="1314.2" stroke="#000" stroke-width="3.4" stroke-linecap="butt"/>
<line x1="430.4" y1="1304.2" x2="450.4" y2="1304.2" stroke="#000" stroke-width="3.4" stroke-linecap="butt"/>
<line x1="440.4" y1="1294.2" x2="440.4" y2="1314.2" stroke="#000" stroke-width="3.4" stroke-linecap="butt"/>
<line x1="196.9" y1="1326.0" x2="288.8" y2="1326.0" stroke="#000" stroke-width="3.4" stroke-linecap="butt"/>
<line x1="370.6" y1="1326.0" x2="462.2" y2="1326.0" stroke="#000" stroke-width="3.4" stroke-linecap="butt"/>
<text x="17.0" y="1360.0" font-size="26.5" textLength="287.8" lengthAdjust="spacing">ASH::TRPV1: Wild-type</text>
<text x="384.9" y="1360.0" font-size="26.5" font-style="italic" textLength="53.5" lengthAdjust="spacing">glr-1</text>
<text x="627.0" y="941.0" font-size="52">g</text>
<polyline points="694.3,986.9 750.7,986.9 753.8,988.9 756.3,994.9 766.3,1038.9 769.8,1048.9 773.3,1053.7 775.8,1054.5 780.3,1053.4 789.3,1049.9 799.1,1048.6 1168.4,1048.6" fill="none" stroke="#0ac8c8" stroke-width="7.4" stroke-linejoin="round"/>
<text x="684.4" y="995.8" font-size="26.5" text-anchor="end" letter-spacing="1.2">20.5</text>
<text x="684.0" y="1053.2" font-size="26.5" text-anchor="end" letter-spacing="0.6">15</text>
<text x="619.5" y="1013.2" font-size="26.5" text-anchor="middle" textLength="74.5" lengthAdjust="spacing" transform="rotate(-90 619.5 1013.2)">T (<tspan letter-spacing="-2.6">°</tspan>C)</text>
<text x="836.2" y="1026.6" font-size="26.5" textLength="181.0" lengthAdjust="spacing">Rate = 2.7 <tspan letter-spacing="-2.6">°</tspan>C/s</text>
<polygon points="694.3,1280.1 699.0,1280.1 699.0,1282.4 703.7,1282.4 703.7,1277.4 708.5,1277.4 708.5,1281.8 713.2,1281.8 713.2,1277.8 717.9,1277.8 717.9,1282.4 722.6,1282.4 722.6,1281.8 727.3,1281.8 727.3,1279.2 732.1,1279.2 732.1,1277.4 736.8,1277.4 736.8,1279.3 741.5,1279.3 741.5,1277.4 746.2,1277.4 746.2,1279.8 750.9,1279.8 750.9,1277.8 755.7,1277.8 755.7,1277.9 760.4,1277.9 760.4,1280.8 765.1,1280.8 765.1,1281.3 769.8,1281.3 769.8,1281.7 774.5,1281.7 774.5,1214.8 779.3,1214.8 779.3,1143.5 784.0,1143.5 784.0,1106.8 788.7,1106.8 788.7,1096.3 793.4,1096.3 793.4,1087.5 798.1,1087.5 798.1,1089.8 802.9,1089.8 802.9,1095.4 807.6,1095.4 807.6,1105.3 812.3,1105.3 812.3,1116.2 817.0,1116.2 817.0,1135.2 821.7,1135.2 821.7,1152.1 826.5,1152.1 826.5,1161.7 831.2,1161.7 831.2,1168.8 835.9,1168.8 835.9,1172.8 840.6,1172.8 840.6,1173.8 845.3,1173.8 845.3,1180.0 850.1,1180.0 850.1,1180.1 854.8,1180.1 854.8,1179.1 859.5,1179.1 859.5,1177.4 864.2,1177.4 864.2,1178.5 868.9,1178.5 868.9,1182.5 873.7,1182.5 873.7,1180.3 878.4,1180.3 878.4,1182.7 883.1,1182.7 883.1,1184.5 887.8,1184.5 887.8,1180.8 892.5,1180.8 892.5,1183.1 897.3,1183.1 897.3,1183.0 902.0,1183.0 902.0,1184.4 906.7,1184.4 906.7,1181.9 911.4,1181.9 911.4,1186.0 916.1,1186.0 916.1,1181.9 920.9,1181.9 920.9,1182.4 925.6,1182.4 925.6,1184.8 930.3,1184.8 930.3,1184.8 935.0,1184.8 935.0,1187.1 939.7,1187.1 939.7,1184.2 944.5,1184.2 944.5,1185.2 949.2,1185.2 949.2,1183.0 953.9,1183.0 953.9,1183.2 958.6,1183.2 958.6,1188.2 963.3,1188.2 963.3,1184.8 968.1,1184.8 968.1,1185.7 972.8,1185.7 972.8,1186.0 977.5,1186.0 977.5,1190.2 982.2,1190.2 982.2,1191.6 986.9,1191.6 986.9,1191.7 991.7,1191.7 991.7,1193.1 996.4,1193.1 996.4,1197.4 1001.1,1197.4 1001.1,1198.8 1005.8,1198.8 1005.8,1202.7 1010.5,1202.7 1010.5,1205.4 1015.3,1205.4 1015.3,1202.8 1020.0,1202.8 1020.0,1206.4 1024.7,1206.4 1024.7,1209.3 1029.4,1209.3 1029.4,1211.8 1034.1,1211.8 1034.1,1212.3 1038.9,1212.3 1038.9,1214.8 1043.6,1214.8 1043.6,1220.3 1048.3,1220.3 1048.3,1220.2 1053.0,1220.2 1053.0,1223.8 1057.7,1223.8 1057.7,1223.9 1062.5,1223.9 1062.5,1230.3 1067.2,1230.3 1067.2,1227.7 1071.9,1227.7 1071.9,1230.4 1076.6,1230.4 1076.6,1232.6 1081.3,1232.6 1081.3,1233.9 1086.1,1233.9 1086.1,1237.2 1090.8,1237.2 1090.8,1239.0 1095.5,1239.0 1095.5,1237.7 1100.2,1237.7 1100.2,1241.7 1104.9,1241.7 1104.9,1241.4 1109.7,1241.4 1109.7,1239.9 1114.4,1239.9 1114.4,1246.2 1119.1,1246.2 1119.1,1245.0 1123.8,1245.0 1123.8,1246.6 1128.5,1246.6 1128.5,1250.6 1133.3,1250.6 1133.3,1253.0 1138.0,1253.0 1138.0,1253.7 1142.7,1253.7 1142.7,1254.0 1147.4,1254.0 1147.4,1256.9 1152.1,1256.9 1152.1,1257.8 1156.9,1257.8 1156.9,1258.8 1161.6,1258.8 1161.6,1259.8 1166.3,1259.8 1166.3,1263.5 1170.1,1263.5 1170.1,1291.2 1166.3,1291.2 1166.3,1288.7 1161.6,1288.7 1161.6,1287.4 1156.9,1287.4 1156.9,1286.6 1152.1,1286.6 1152.1,1285.5 1147.4,1285.5 1147.4,1284.0 1142.7,1284.0 1142.7,1282.3 1138.0,1282.3 1138.0,1283.1 1133.3,1283.1 1133.3,1281.3 1128.5,1281.3 1128.5,1283.2 1123.8,1283.2 1123.8,1280.3 1119.1,1280.3 1119.1,1279.1 1114.4,1279.1 1114.4,1279.2 1109.7,1279.2 1109.7,1279.3 1104.9,1279.3 1104.9,1278.5 1100.2,1278.5 1100.2,1274.0 1095.5,1274.0 1095.5,1276.3 1090.8,1276.3 1090.8,1272.9 1086.1,1272.9 1086.1,1273.2 1081.3,1273.2 1081.3,1272.4 1076.6,1272.4 1076.6,1272.6 1071.9,1272.6 1071.9,1267.5 1067.2,1267.5 1067.2,1268.1 1062.5,1268.1 1062.5,1265.5 1057.7,1265.5 1057.7,1269.4 1053.0,1269.4 1053.0,1268.0 1048.3,1268.0 1048.3,1263.4 1043.6,1263.4 1043.6,1264.4 1038.9,1264.4 1038.9,1261.1 1034.1,1261.1 1034.1,1260.3 1029.4,1260.3 1029.4,1262.2 1024.7,1262.2 1024.7,1261.9 1020.0,1261.9 1020.0,1260.3 1015.3,1260.3 1015.3,1255.2 1010.5,1255.2 1010.5,1258.6 1005.8,1258.6 1005.8,1253.6 1001.1,1253.6 1001.1,1252.6 996.4,1252.6 996.4,1250.3 991.7,1250.3 991.7,1252.8 986.9,1252.8 986.9,1250.4 982.2,1250.4 982.2,1244.8 977.5,1244.8 977.5,1247.9 972.8,1247.9 972.8,1242.9 968.1,1242.9 968.1,1243.0 963.3,1243.0 963.3,1239.5 958.6,1239.5 958.6,1236.9 953.9,1236.9 953.9,1239.4 949.2,1239.4 949.2,1235.5 944.5,1235.5 944.5,1237.0 939.7,1237.0 939.7,1233.2 935.0,1233.2 935.0,1234.4 930.3,1234.4 930.3,1233.1 925.6,1233.1 925.6,1234.5 920.9,1234.5 920.9,1233.9 916.1,1233.9 916.1,1234.2 911.4,1234.2 911.4,1229.4 906.7,1229.4 906.7,1229.6 902.0,1229.6 902.0,1231.7 897.3,1231.7 897.3,1230.5 892.5,1230.5 892.5,1231.0 887.8,1231.0 887.8,1230.7 883.1,1230.7 883.1,1227.2 878.4,1227.2 878.4,1230.1 873.7,1230.1 873.7,1225.6 868.9,1225.6 868.9,1229.4 864.2,1229.4 864.2,1227.8 859.5,1227.8 859.5,1225.0 854.8,1225.0 854.8,1229.5 850.1,1229.5 850.1,1225.4 845.3,1225.4 845.3,1224.2 840.6,1224.2 840.6,1223.8 835.9,1223.8 835.9,1223.4 831.2,1223.4 831.2,1217.2 826.5,1217.2 826.5,1214.1 821.7,1214.1 821.7,1205.3 817.0,1205.3 817.0,1198.6 812.3,1198.6 812.3,1196.4 807.6,1196.4 807.6,1185.0 802.9,1185.0 802.9,1177.9 798.1,1177.9 798.1,1180.5 793.4,1180.5 793.4,1184.2 788.7,1184.2 788.7,1205.2 784.0,1205.2 784.0,1239.3 779.3,1239.3 779.3,1278.2 774.5,1278.2 774.5,1311.9 769.8,1311.9 769.8,1312.2 765.1,1312.2 765.1,1308.5 760.4,1308.5 760.4,1307.5 755.7,1307.5 755.7,1310.9 750.9,1310.9 750.9,1306.5 746.2,1306.5 746.2,1309.6 741.5,1309.6 741.5,1309.2 736.8,1309.2 736.8,1308.4 732.1,1308.4 732.1,1306.3 727.3,1306.3 727.3,1304.8 722.6,1304.8 722.6,1302.9 717.9,1302.9 717.9,1304.8 713.2,1304.8 713.2,1304.8 708.5,1304.8 708.5,1302.6 703.7,1302.6 703.7,1304.1 699.0,1304.1 699.0,1300.3 694.3,1300.3" fill="#cccccc"/>
<polygon points="694.3,1280.5 699.0,1280.5 699.0,1281.6 703.7,1281.6 703.7,1279.4 708.5,1279.4 708.5,1279.6 713.2,1279.6 713.2,1278.6 717.9,1278.6 717.9,1278.4 722.6,1278.4 722.6,1278.1 727.3,1278.1 727.3,1281.7 732.1,1281.7 732.1,1278.7 736.8,1278.7 736.8,1279.0 741.5,1279.0 741.5,1282.2 746.2,1282.2 746.2,1282.4 750.9,1282.4 750.9,1278.0 755.7,1278.0 755.7,1278.7 760.4,1278.7 760.4,1281.9 765.1,1281.9 765.1,1281.9 769.8,1281.9 769.8,1278.9 774.5,1278.9 774.5,1263.5 779.3,1263.5 779.3,1239.6 784.0,1239.6 784.0,1221.1 788.7,1221.1 788.7,1196.8 793.4,1196.8 793.4,1179.7 798.1,1179.7 798.1,1157.4 802.9,1157.4 802.9,1145.9 807.6,1145.9 807.6,1147.1 812.3,1147.1 812.3,1143.4 817.0,1143.4 817.0,1142.2 821.7,1142.2 821.7,1141.0 826.5,1141.0 826.5,1140.4 831.2,1140.4 831.2,1143.1 835.9,1143.1 835.9,1143.6 840.6,1143.6 840.6,1139.2 845.3,1139.2 845.3,1143.3 850.1,1143.3 850.1,1143.2 854.8,1143.2 854.8,1140.4 859.5,1140.4 859.5,1140.6 864.2,1140.6 864.2,1141.5 868.9,1141.5 868.9,1149.2 873.7,1149.2 873.7,1149.1 878.4,1149.1 878.4,1151.4 883.1,1151.4 883.1,1149.1 887.8,1149.1 887.8,1153.7 892.5,1153.7 892.5,1153.9 897.3,1153.9 897.3,1154.3 902.0,1154.3 902.0,1154.5 906.7,1154.5 906.7,1153.0 911.4,1153.0 911.4,1156.3 916.1,1156.3 916.1,1157.7 920.9,1157.7 920.9,1154.7 925.6,1154.7 925.6,1157.3 930.3,1157.3 930.3,1158.0 935.0,1158.0 935.0,1157.9 939.7,1157.9 939.7,1158.8 944.5,1158.8 944.5,1156.5 949.2,1156.5 949.2,1157.3 953.9,1157.3 953.9,1156.0 958.6,1156.0 958.6,1157.7 963.3,1157.7 963.3,1159.8 968.1,1159.8 968.1,1160.9 972.8,1160.9 972.8,1162.6 977.5,1162.6 977.5,1164.0 982.2,1164.0 982.2,1169.2 986.9,1169.2 986.9,1167.8 991.7,1167.8 991.7,1168.2 996.4,1168.2 996.4,1167.9 1001.1,1167.9 1001.1,1172.8 1005.8,1172.8 1005.8,1171.3 1010.5,1171.3 1010.5,1170.8 1015.3,1170.8 1015.3,1173.2 1020.0,1173.2 1020.0,1172.9 1024.7,1172.9 1024.7,1176.8 1029.4,1176.8 1029.4,1175.8 1034.1,1175.8 1034.1,1178.9 1038.9,1178.9 1038.9,1180.4 1043.6,1180.4 1043.6,1176.6 1048.3,1176.6 1048.3,1182.2 1053.0,1182.2 1053.0,1180.0 1057.7,1180.0 1057.7,1185.5 1062.5,1185.5 1062.5,1186.4 1067.2,1186.4 1067.2,1187.5 1071.9,1187.5 1071.9,1188.6 1076.6,1188.6 1076.6,1187.1 1081.3,1187.1 1081.3,1184.4 1086.1,1184.4 1086.1,1187.5 1090.8,1187.5 1090.8,1199.7 1095.5,1199.7 1095.5,1204.6 1100.2,1204.6 1100.2,1205.5 1104.9,1205.5 1104.9,1211.1 1109.7,1211.1 1109.7,1214.2 1114.4,1214.2 1114.4,1217.3 1119.1,1217.3 1119.1,1221.9 1123.8,1221.9 1123.8,1228.0 1128.5,1228.0 1128.5,1230.6 1133.3,1230.6 1133.3,1233.4 1138.0,1233.4 1138.0,1239.7 1142.7,1239.7 1142.7,1246.0 1147.4,1246.0 1147.4,1249.3 1152.1,1249.3 1152.1,1246.1 1156.9,1246.1 1156.9,1249.2 1161.6,1249.2 1161.6,1250.7 1166.3,1250.7 1166.3,1253.9 1170.1,1253.9 1170.1,1294.0 1166.3,1294.0 1166.3,1294.2 1161.6,1294.2 1161.6,1290.1 1156.9,1290.1 1156.9,1286.0 1152.1,1286.0 1152.1,1282.7 1147.4,1282.7 1147.4,1282.5 1142.7,1282.5 1142.7,1278.3 1138.0,1278.3 1138.0,1275.1 1133.3,1275.1 1133.3,1273.1 1128.5,1273.1 1128.5,1274.1 1123.8,1274.1 1123.8,1269.5 1119.1,1269.5 1119.1,1269.1 1114.4,1269.1 1114.4,1266.9 1109.7,1266.9 1109.7,1266.5 1104.9,1266.5 1104.9,1260.3 1100.2,1260.3 1100.2,1260.7 1095.5,1260.7 1095.5,1253.1 1090.8,1253.1 1090.8,1252.5 1086.1,1252.5 1086.1,1253.4 1081.3,1253.4 1081.3,1248.4 1076.6,1248.4 1076.6,1247.3 1071.9,1247.3 1071.9,1249.2 1067.2,1249.2 1067.2,1246.5 1062.5,1246.5 1062.5,1246.3 1057.7,1246.3 1057.7,1246.1 1053.0,1246.1 1053.0,1245.0 1048.3,1245.0 1048.3,1244.6 1043.6,1244.6 1043.6,1245.9 1038.9,1245.9 1038.9,1245.6 1034.1,1245.6 1034.1,1246.4 1029.4,1246.4 1029.4,1244.5 1024.7,1244.5 1024.7,1242.7 1020.0,1242.7 1020.0,1243.7 1015.3,1243.7 1015.3,1242.7 1010.5,1242.7 1010.5,1238.7 1005.8,1238.7 1005.8,1237.4 1001.1,1237.4 1001.1,1239.2 996.4,1239.2 996.4,1234.8 991.7,1234.8 991.7,1236.8 986.9,1236.8 986.9,1234.8 982.2,1234.8 982.2,1232.2 977.5,1232.2 977.5,1234.4 972.8,1234.4 972.8,1231.5 968.1,1231.5 968.1,1228.1 963.3,1228.1 963.3,1231.8 958.6,1231.8 958.6,1226.1 953.9,1226.1 953.9,1227.1 949.2,1227.1 949.2,1224.8 944.5,1224.8 944.5,1222.2 939.7,1222.2 939.7,1222.8 935.0,1222.8 935.0,1223.5 930.3,1223.5 930.3,1221.4 925.6,1221.4 925.6,1223.4 920.9,1223.4 920.9,1222.1 916.1,1222.1 916.1,1221.5 911.4,1221.5 911.4,1217.8 906.7,1217.8 906.7,1216.4 902.0,1216.4 902.0,1215.5 897.3,1215.5 897.3,1215.0 892.5,1215.0 892.5,1215.4 887.8,1215.4 887.8,1216.9 883.1,1216.9 883.1,1215.1 878.4,1215.1 878.4,1212.8 873.7,1212.8 873.7,1213.0 868.9,1213.0 868.9,1209.1 864.2,1209.1 864.2,1210.8 859.5,1210.8 859.5,1208.0 854.8,1208.0 854.8,1206.1 850.1,1206.1 850.1,1206.2 845.3,1206.2 845.3,1204.6 840.6,1204.6 840.6,1202.9 835.9,1202.9 835.9,1207.1 831.2,1207.1 831.2,1206.7 826.5,1206.7 826.5,1204.7 821.7,1204.7 821.7,1206.3 817.0,1206.3 817.0,1207.4 812.3,1207.4 812.3,1211.5 807.6,1211.5 807.6,1211.1 802.9,1211.1 802.9,1217.6 798.1,1217.6 798.1,1232.5 793.4,1232.5 793.4,1249.4 788.7,1249.4 788.7,1261.2 784.0,1261.2 784.0,1277.6 779.3,1277.6 779.3,1294.1 774.5,1294.1 774.5,1303.9 769.8,1303.9 769.8,1304.0 765.1,1304.0 765.1,1305.1 760.4,1305.1 760.4,1304.5 755.7,1304.5 755.7,1307.0 750.9,1307.0 750.9,1303.2 746.2,1303.2 746.2,1303.4 741.5,1303.4 741.5,1304.0 736.8,1304.0 736.8,1306.1 732.1,1306.1 732.1,1306.0 727.3,1306.0 727.3,1304.2 722.6,1304.2 722.6,1302.7 717.9,1302.7 717.9,1302.9 713.2,1302.9 713.2,1303.6 708.5,1303.6 708.5,1301.7 703.7,1301.7 703.7,1300.3 699.0,1300.3 699.0,1303.7 694.3,1303.7" fill="#cccccc"/>
<polygon points="694.3,1279.1 699.0,1279.1 699.0,1281.1 703.7,1281.1 703.7,1278.6 708.5,1278.6 708.5,1277.8 713.2,1277.8 713.2,1280.3 717.9,1280.3 717.9,1281.4 722.6,1281.4 722.6,1282.4 727.3,1282.4 727.3,1279.1 732.1,1279.1 732.1,1281.4 736.8,1281.4 736.8,1278.2 741.5,1278.2 741.5,1278.2 746.2,1278.2 746.2,1280.7 750.9,1280.7 750.9,1277.4 755.7,1277.4 755.7,1282.0 760.4,1282.0 760.4,1278.0 765.1,1278.0 765.1,1278.2 769.8,1278.2 769.8,1279.7 774.5,1279.7 774.5,1261.6 779.3,1261.6 779.3,1221.4 784.0,1221.4 784.0,1193.9 788.7,1193.9 788.7,1177.9 793.4,1177.9 793.4,1163.5 798.1,1163.5 798.1,1147.4 802.9,1147.4 802.9,1130.4 807.6,1130.4 807.6,1122.5 812.3,1122.5 812.3,1130.5 817.0,1130.5 817.0,1137.8 821.7,1137.8 821.7,1142.4 826.5,1142.4 826.5,1151.6 831.2,1151.6 831.2,1158.3 835.9,1158.3 835.9,1160.6 840.6,1160.6 840.6,1169.5 845.3,1169.5 845.3,1172.7 850.1,1172.7 850.1,1178.8 854.8,1178.8 854.8,1181.1 859.5,1181.1 859.5,1184.5 864.2,1184.5 864.2,1183.7 868.9,1183.7 868.9,1187.6 873.7,1187.6 873.7,1189.0 878.4,1189.0 878.4,1195.3 883.1,1195.3 883.1,1196.4 887.8,1196.4 887.8,1199.0 892.5,1199.0 892.5,1202.6 897.3,1202.6 897.3,1202.1 902.0,1202.1 902.0,1209.6 906.7,1209.6 906.7,1212.2 911.4,1212.2 911.4,1211.2 916.1,1211.2 916.1,1217.7 920.9,1217.7 920.9,1215.4 925.6,1215.4 925.6,1218.2 930.3,1218.2 930.3,1225.4 935.0,1225.4 935.0,1223.1 939.7,1223.1 939.7,1226.7 944.5,1226.7 944.5,1228.8 949.2,1228.8 949.2,1228.3 953.9,1228.3 953.9,1227.4 958.6,1227.4 958.6,1230.7 963.3,1230.7 963.3,1229.9 968.1,1229.9 968.1,1234.5 972.8,1234.5 972.8,1234.2 977.5,1234.2 977.5,1236.2 982.2,1236.2 982.2,1240.6 986.9,1240.6 986.9,1249.2 991.7,1249.2 991.7,1253.5 996.4,1253.5 996.4,1253.4 1001.1,1253.4 1001.1,1260.9 1005.8,1260.9 1005.8,1261.7 1010.5,1261.7 1010.5,1269.3 1015.3,1269.3 1015.3,1272.7 1020.0,1272.7 1020.0,1272.3 1024.7,1272.3 1024.7,1272.2 1029.4,1272.2 1029.4,1266.7 1034.1,1266.7 1034.1,1264.7 1038.9,1264.7 1038.9,1268.5 1043.6,1268.5 1043.6,1274.8 1048.3,1274.8 1048.3,1275.0 1053.0,1275.0 1053.0,1280.2 1057.7,1280.2 1057.7,1281.9 1062.5,1281.9 1062.5,1280.7 1067.2,1280.7 1067.2,1281.3 1071.9,1281.3 1071.9,1282.2 1076.6,1282.2 1076.6,1281.3 1081.3,1281.3 1081.3,1277.9 1086.1,1277.9 1086.1,1281.3 1090.8,1281.3 1090.8,1281.4 1095.5,1281.4 1095.5,1277.5 1100.2,1277.5 1100.2,1280.0 1104.9,1280.0 1104.9,1278.2 1109.7,1278.2 1109.7,1282.0 1114.4,1282.0 1114.4,1280.3 1119.1,1280.3 1119.1,1278.6 1123.8,1278.6 1123.8,1277.3 1128.5,1277.3 1128.5,1280.4 1133.3,1280.4 1133.3,1277.9 1138.0,1277.9 1138.0,1281.5 1142.7,1281.5 1142.7,1280.3 1147.4,1280.3 1147.4,1281.2 1152.1,1281.2 1152.1,1280.2 1156.9,1280.2 1156.9,1279.6 1161.6,1279.6 1161.6,1277.2 1166.3,1277.2 1166.3,1277.4 1170.1,1277.4 1170.1,1299.8 1166.3,1299.8 1166.3,1300.3 1161.6,1300.3 1161.6,1304.5 1156.9,1304.5 1156.9,1300.2 1152.1,1300.2 1152.1,1299.8 1147.4,1299.8 1147.4,1303.3 1142.7,1303.3 1142.7,1302.4 1138.0,1302.4 1138.0,1303.4 1133.3,1303.4 1133.3,1302.9 1128.5,1302.9 1128.5,1304.2 1123.8,1304.2 1123.8,1301.2 1119.1,1301.2 1119.1,1302.3 1114.4,1302.3 1114.4,1302.5 1109.7,1302.5 1109.7,1303.7 1104.9,1303.7 1104.9,1300.6 1100.2,1300.6 1100.2,1301.7 1095.5,1301.7 1095.5,1304.1 1090.8,1304.1 1090.8,1301.2 1086.1,1301.2 1086.1,1304.4 1081.3,1304.4 1081.3,1299.9 1076.6,1299.9 1076.6,1301.4 1071.9,1301.4 1071.9,1303.6 1067.2,1303.6 1067.2,1301.6 1062.5,1301.6 1062.5,1303.6 1057.7,1303.6 1057.7,1302.0 1053.0,1302.0 1053.0,1301.3 1048.3,1301.3 1048.3,1303.1 1043.6,1303.1 1043.6,1300.9 1038.9,1300.9 1038.9,1303.6 1034.1,1303.6 1034.1,1300.1 1029.4,1300.1 1029.4,1301.8 1024.7,1301.8 1024.7,1303.0 1020.0,1303.0 1020.0,1297.4 1015.3,1297.4 1015.3,1296.6 1010.5,1296.6 1010.5,1291.9 1005.8,1291.9 1005.8,1294.4 1001.1,1294.4 1001.1,1288.1 996.4,1288.1 996.4,1285.4 991.7,1285.4 991.7,1286.4 986.9,1286.4 986.9,1283.0 982.2,1283.0 982.2,1280.8 977.5,1280.8 977.5,1281.1 972.8,1281.1 972.8,1277.1 968.1,1277.1 968.1,1274.6 963.3,1274.6 963.3,1276.9 958.6,1276.9 958.6,1275.1 953.9,1275.1 953.9,1270.1 949.2,1270.1 949.2,1271.5 944.5,1271.5 944.5,1269.1 939.7,1269.1 939.7,1268.3 935.0,1268.3 935.0,1266.0 930.3,1266.0 930.3,1263.5 925.6,1263.5 925.6,1263.0 920.9,1263.0 920.9,1261.6 916.1,1261.6 916.1,1259.2 911.4,1259.2 911.4,1255.8 906.7,1255.8 906.7,1256.7 902.0,1256.7 902.0,1252.4 897.3,1252.4 897.3,1252.4 892.5,1252.4 892.5,1247.3 887.8,1247.3 887.8,1249.2 883.1,1249.2 883.1,1247.7 878.4,1247.7 878.4,1245.1 873.7,1245.1 873.7,1243.8 868.9,1243.8 868.9,1242.7 864.2,1242.7 864.2,1237.8 859.5,1237.8 859.5,1239.8 854.8,1239.8 854.8,1239.5 850.1,1239.5 850.1,1234.0 845.3,1234.0 845.3,1232.9 840.6,1232.9 840.6,1231.6 835.9,1231.6 835.9,1230.0 831.2,1230.0 831.2,1224.6 826.5,1224.6 826.5,1221.7 821.7,1221.7 821.7,1215.3 817.0,1215.3 817.0,1211.9 812.3,1211.9 812.3,1205.0 807.6,1205.0 807.6,1205.5 802.9,1205.5 802.9,1209.1 798.1,1209.1 798.1,1226.1 793.4,1226.1 793.4,1250.9 788.7,1250.9 788.7,1271.6 784.0,1271.6 784.0,1293.9 779.3,1293.9 779.3,1306.2 774.5,1306.2 774.5,1303.7 769.8,1303.7 769.8,1304.8 765.1,1304.8 765.1,1305.2 760.4,1305.2 760.4,1307.7 755.7,1307.7 755.7,1306.1 750.9,1306.1 750.9,1306.8 746.2,1306.8 746.2,1303.7 741.5,1303.7 741.5,1307.1 736.8,1307.1 736.8,1303.8 732.1,1303.8 732.1,1303.7 727.3,1303.7 727.3,1305.3 722.6,1305.3 722.6,1303.5 717.9,1303.5 717.9,1305.7 713.2,1305.7 713.2,1305.2 708.5,1305.2 708.5,1301.8 703.7,1301.8 703.7,1303.9 699.0,1303.9 699.0,1304.7 694.3,1304.7" fill="#cccccc"/>
<polygon points="694.3,1282.3 699.0,1282.3 699.0,1281.8 703.7,1281.8 703.7,1278.9 708.5,1278.9 708.5,1280.1 713.2,1280.1 713.2,1282.4 717.9,1282.4 717.9,1280.5 722.6,1280.5 722.6,1279.6 727.3,1279.6 727.3,1280.2 732.1,1280.2 732.1,1278.0 736.8,1278.0 736.8,1280.5 741.5,1280.5 741.5,1279.8 746.2,1279.8 746.2,1278.4 750.9,1278.4 750.9,1279.8 755.7,1279.8 755.7,1280.5 760.4,1280.5 760.4,1282.2 765.1,1282.2 765.1,1278.1 769.8,1278.1 769.8,1277.8 774.5,1277.8 774.5,1275.3 779.3,1275.3 779.3,1259.4 784.0,1259.4 784.0,1245.6 788.7,1245.6 788.7,1232.5 793.4,1232.5 793.4,1221.5 798.1,1221.5 798.1,1217.6 802.9,1217.6 802.9,1219.5 807.6,1219.5 807.6,1216.7 812.3,1216.7 812.3,1219.3 817.0,1219.3 817.0,1223.9 821.7,1223.9 821.7,1222.8 826.5,1222.8 826.5,1230.8 831.2,1230.8 831.2,1230.7 835.9,1230.7 835.9,1233.8 840.6,1233.8 840.6,1233.8 845.3,1233.8 845.3,1239.9 850.1,1239.9 850.1,1241.4 854.8,1241.4 854.8,1242.6 859.5,1242.6 859.5,1244.5 864.2,1244.5 864.2,1244.2 868.9,1244.2 868.9,1248.2 873.7,1248.2 873.7,1244.5 878.4,1244.5 878.4,1247.1 883.1,1247.1 883.1,1247.3 887.8,1247.3 887.8,1251.4 892.5,1251.4 892.5,1251.6 897.3,1251.6 897.3,1251.6 902.0,1251.6 902.0,1251.4 906.7,1251.4 906.7,1252.3 911.4,1252.3 911.4,1255.1 916.1,1255.1 916.1,1254.2 920.9,1254.2 920.9,1253.4 925.6,1253.4 925.6,1253.5 930.3,1253.5 930.3,1255.0 935.0,1255.0 935.0,1255.9 939.7,1255.9 939.7,1252.6 944.5,1252.6 944.5,1252.0 949.2,1252.0 949.2,1252.2 953.9,1252.2 953.9,1256.5 958.6,1256.5 958.6,1255.6 963.3,1255.6 963.3,1256.5 968.1,1256.5 968.1,1257.5 972.8,1257.5 972.8,1255.1 977.5,1255.1 977.5,1255.8 982.2,1255.8 982.2,1254.8 986.9,1254.8 986.9,1257.2 991.7,1257.2 991.7,1260.5 996.4,1260.5 996.4,1261.3 1001.1,1261.3 1001.1,1259.2 1005.8,1259.2 1005.8,1260.5 1010.5,1260.5 1010.5,1262.5 1015.3,1262.5 1015.3,1263.6 1020.0,1263.6 1020.0,1265.1 1024.7,1265.1 1024.7,1264.3 1029.4,1264.3 1029.4,1267.2 1034.1,1267.2 1034.1,1267.8 1038.9,1267.8 1038.9,1268.6 1043.6,1268.6 1043.6,1270.6 1048.3,1270.6 1048.3,1271.1 1053.0,1271.1 1053.0,1268.9 1057.7,1268.9 1057.7,1270.2 1062.5,1270.2 1062.5,1271.0 1067.2,1271.0 1067.2,1272.9 1071.9,1272.9 1071.9,1271.2 1076.6,1271.2 1076.6,1273.4 1081.3,1273.4 1081.3,1273.4 1086.1,1273.4 1086.1,1274.3 1090.8,1274.3 1090.8,1276.2 1095.5,1276.2 1095.5,1274.3 1100.2,1274.3 1100.2,1274.8 1104.9,1274.8 1104.9,1277.8 1109.7,1277.8 1109.7,1275.0 1114.4,1275.0 1114.4,1274.3 1119.1,1274.3 1119.1,1274.1 1123.8,1274.1 1123.8,1275.8 1128.5,1275.8 1128.5,1278.7 1133.3,1278.7 1133.3,1277.9 1138.0,1277.9 1138.0,1278.9 1142.7,1278.9 1142.7,1279.6 1147.4,1279.6 1147.4,1277.1 1152.1,1277.1 1152.1,1279.8 1156.9,1279.8 1156.9,1278.3 1161.6,1278.3 1161.6,1280.7 1166.3,1280.7 1166.3,1281.3 1170.1,1281.3 1170.1,1302.3 1166.3,1302.3 1166.3,1300.3 1161.6,1300.3 1161.6,1301.9 1156.9,1301.9 1156.9,1299.7 1152.1,1299.7 1152.1,1301.7 1147.4,1301.7 1147.4,1302.5 1142.7,1302.5 1142.7,1300.6 1138.0,1300.6 1138.0,1301.0 1133.3,1301.0 1133.3,1299.7 1128.5,1299.7 1128.5,1299.2 1123.8,1299.2 1123.8,1298.3 1119.1,1298.3 1119.1,1300.0 1114.4,1300.0 1114.4,1296.1 1109.7,1296.1 1109.7,1295.9 1104.9,1295.9 1104.9,1300.1 1100.2,1300.1 1100.2,1295.6 1095.5,1295.6 1095.5,1294.6 1090.8,1294.6 1090.8,1296.2 1086.1,1296.2 1086.1,1295.1 1081.3,1295.1 1081.3,1294.1 1076.6,1294.1 1076.6,1294.2 1071.9,1294.2 1071.9,1295.4 1067.2,1295.4 1067.2,1295.7 1062.5,1295.7 1062.5,1295.2 1057.7,1295.2 1057.7,1293.6 1053.0,1293.6 1053.0,1294.4 1048.3,1294.4 1048.3,1291.3 1043.6,1291.3 1043.6,1291.0 1038.9,1291.0 1038.9,1290.2 1034.1,1290.2 1034.1,1293.1 1029.4,1293.1 1029.4,1289.1 1024.7,1289.1 1024.7,1291.5 1020.0,1291.5 1020.0,1289.9 1015.3,1289.9 1015.3,1291.1 1010.5,1291.1 1010.5,1289.5 1005.8,1289.5 1005.8,1289.4 1001.1,1289.4 1001.1,1289.4 996.4,1289.4 996.4,1284.8 991.7,1284.8 991.7,1287.0 986.9,1287.0 986.9,1282.7 982.2,1282.7 982.2,1282.4 977.5,1282.4 977.5,1283.5 972.8,1283.5 972.8,1286.3 968.1,1286.3 968.1,1283.7 963.3,1283.7 963.3,1280.5 958.6,1280.5 958.6,1284.3 953.9,1284.3 953.9,1284.0 949.2,1284.0 949.2,1281.2 944.5,1281.2 944.5,1280.7 939.7,1280.7 939.7,1283.2 935.0,1283.2 935.0,1282.0 930.3,1282.0 930.3,1278.6 925.6,1278.6 925.6,1281.8 920.9,1281.8 920.9,1279.2 916.1,1279.2 916.1,1277.5 911.4,1277.5 911.4,1281.6 906.7,1281.6 906.7,1279.8 902.0,1279.8 902.0,1277.0 897.3,1277.0 897.3,1276.1 892.5,1276.1 892.5,1277.0 887.8,1277.0 887.8,1275.8 883.1,1275.8 883.1,1274.6 878.4,1274.6 878.4,1278.3 873.7,1278.3 873.7,1273.2 868.9,1273.2 868.9,1276.9 864.2,1276.9 864.2,1273.3 859.5,1273.3 859.5,1270.9 854.8,1270.9 854.8,1270.7 850.1,1270.7 850.1,1272.7 845.3,1272.7 845.3,1269.2 840.6,1269.2 840.6,1271.3 835.9,1271.3 835.9,1265.5 831.2,1265.5 831.2,1267.0 826.5,1267.0 826.5,1263.5 821.7,1263.5 821.7,1257.6 817.0,1257.6 817.0,1254.3 812.3,1254.3 812.3,1252.3 807.6,1252.3 807.6,1244.8 802.9,1244.8 802.9,1246.6 798.1,1246.6 798.1,1253.6 793.4,1253.6 793.4,1262.6 788.7,1262.6 788.7,1278.4 784.0,1278.4 784.0,1286.0 779.3,1286.0 779.3,1298.6 774.5,1298.6 774.5,1306.3 769.8,1306.3 769.8,1307.2 765.1,1307.2 765.1,1303.5 760.4,1303.5 760.4,1308.0 755.7,1308.0 755.7,1305.0 750.9,1305.0 750.9,1304.6 746.2,1304.6 746.2,1304.9 741.5,1304.9 741.5,1306.7 736.8,1306.7 736.8,1302.6 732.1,1302.6 732.1,1305.8 727.3,1305.8 727.3,1302.4 722.6,1302.4 722.6,1301.6 717.9,1301.6 717.9,1303.6 713.2,1303.6 713.2,1303.0 708.5,1303.0 708.5,1301.2 703.7,1301.2 703.7,1302.7 699.0,1302.7 699.0,1301.2 694.3,1301.2" fill="#cccccc"/>
<polygon points="694.3,1280.4 699.0,1280.4 699.0,1277.9 703.7,1277.9 703.7,1281.3 708.5,1281.3 708.5,1281.9 713.2,1281.9 713.2,1281.7 717.9,1281.7 717.9,1277.3 722.6,1277.3 722.6,1280.5 727.3,1280.5 727.3,1278.8 732.1,1278.8 732.1,1282.1 736.8,1282.1 736.8,1279.2 741.5,1279.2 741.5,1282.2 746.2,1282.2 746.2,1277.4 750.9,1277.4 750.9,1279.2 755.7,1279.2 755.7,1282.3 760.4,1282.3 760.4,1280.0 765.1,1280.0 765.1,1281.5 769.8,1281.5 769.8,1281.2 774.5,1281.2 774.5,1276.7 779.3,1276.7 779.3,1273.4 784.0,1273.4 784.0,1267.4 788.7,1267.4 788.7,1263.1 793.4,1263.1 793.4,1257.9 798.1,1257.9 798.1,1257.2 802.9,1257.2 802.9,1257.2 807.6,1257.2 807.6,1252.4 812.3,1252.4 812.3,1252.8 817.0,1252.8 817.0,1249.2 821.7,1249.2 821.7,1252.8 826.5,1252.8 826.5,1253.6 831.2,1253.6 831.2,1250.2 835.9,1250.2 835.9,1248.3 840.6,1248.3 840.6,1252.6 845.3,1252.6 845.3,1252.8 850.1,1252.8 850.1,1253.3 854.8,1253.3 854.8,1256.2 859.5,1256.2 859.5,1257.1 864.2,1257.1 864.2,1261.4 868.9,1261.4 868.9,1259.9 873.7,1259.9 873.7,1264.7 878.4,1264.7 878.4,1266.8 883.1,1266.8 883.1,1267.9 887.8,1267.9 887.8,1266.4 892.5,1266.4 892.5,1265.5 897.3,1265.5 897.3,1268.9 902.0,1268.9 902.0,1269.3 906.7,1269.3 906.7,1268.3 911.4,1268.3 911.4,1268.2 916.1,1268.2 916.1,1269.1 920.9,1269.1 920.9,1270.4 925.6,1270.4 925.6,1269.4 930.3,1269.4 930.3,1272.3 935.0,1272.3 935.0,1268.0 939.7,1268.0 939.7,1273.0 944.5,1273.0 944.5,1270.2 949.2,1270.2 949.2,1273.6 953.9,1273.6 953.9,1270.3 958.6,1270.3 958.6,1271.9 963.3,1271.9 963.3,1273.7 968.1,1273.7 968.1,1272.4 972.8,1272.4 972.8,1274.2 977.5,1274.2 977.5,1275.2 982.2,1275.2 982.2,1274.8 986.9,1274.8 986.9,1273.1 991.7,1273.1 991.7,1274.7 996.4,1274.7 996.4,1274.0 1001.1,1274.0 1001.1,1276.4 1005.8,1276.4 1005.8,1271.9 1010.5,1271.9 1010.5,1272.8 1015.3,1272.8 1015.3,1272.1 1020.0,1272.1 1020.0,1273.8 1024.7,1273.8 1024.7,1276.4 1029.4,1276.4 1029.4,1273.9 1034.1,1273.9 1034.1,1276.3 1038.9,1276.3 1038.9,1277.0 1043.6,1277.0 1043.6,1277.3 1048.3,1277.3 1048.3,1277.8 1053.0,1277.8 1053.0,1275.9 1057.7,1275.9 1057.7,1277.1 1062.5,1277.1 1062.5,1274.0 1067.2,1274.0 1067.2,1275.5 1071.9,1275.5 1071.9,1277.6 1076.6,1277.6 1076.6,1277.7 1081.3,1277.7 1081.3,1275.3 1086.1,1275.3 1086.1,1275.5 1090.8,1275.5 1090.8,1279.9 1095.5,1279.9 1095.5,1277.1 1100.2,1277.1 1100.2,1275.3 1104.9,1275.3 1104.9,1278.2 1109.7,1278.2 1109.7,1275.9 1114.4,1275.9 1114.4,1279.5 1119.1,1279.5 1119.1,1280.2 1123.8,1280.2 1123.8,1279.0 1128.5,1279.0 1128.5,1277.8 1133.3,1277.8 1133.3,1280.5 1138.0,1280.5 1138.0,1276.9 1142.7,1276.9 1142.7,1277.6 1147.4,1277.6 1147.4,1277.3 1152.1,1277.3 1152.1,1280.1 1156.9,1280.1 1156.9,1278.0 1161.6,1278.0 1161.6,1281.4 1166.3,1281.4 1166.3,1280.0 1170.1,1280.0 1170.1,1301.3 1166.3,1301.3 1166.3,1300.3 1161.6,1300.3 1161.6,1303.2 1156.9,1303.2 1156.9,1302.2 1152.1,1302.2 1152.1,1302.0 1147.4,1302.0 1147.4,1300.9 1142.7,1300.9 1142.7,1302.0 1138.0,1302.0 1138.0,1302.1 1133.3,1302.1 1133.3,1303.5 1128.5,1303.5 1128.5,1300.1 1123.8,1300.1 1123.8,1302.9 1119.1,1302.9 1119.1,1302.8 1114.4,1302.8 1114.4,1299.8 1109.7,1299.8 1109.7,1299.2 1104.9,1299.2 1104.9,1303.3 1100.2,1303.3 1100.2,1299.5 1095.5,1299.5 1095.5,1303.7 1090.8,1303.7 1090.8,1303.4 1086.1,1303.4 1086.1,1303.9 1081.3,1303.9 1081.3,1300.5 1076.6,1300.5 1076.6,1300.7 1071.9,1300.7 1071.9,1300.2 1067.2,1300.2 1067.2,1300.4 1062.5,1300.4 1062.5,1303.1 1057.7,1303.1 1057.7,1300.3 1053.0,1300.3 1053.0,1301.6 1048.3,1301.6 1048.3,1303.5 1043.6,1303.5 1043.6,1302.9 1038.9,1302.9 1038.9,1300.7 1034.1,1300.7 1034.1,1303.5 1029.4,1303.5 1029.4,1299.8 1024.7,1299.8 1024.7,1301.0 1020.0,1301.0 1020.0,1299.4 1015.3,1299.4 1015.3,1301.3 1010.5,1301.3 1010.5,1299.6 1005.8,1299.6 1005.8,1298.4 1001.1,1298.4 1001.1,1298.3 996.4,1298.3 996.4,1301.4 991.7,1301.4 991.7,1300.3 986.9,1300.3 986.9,1301.8 982.2,1301.8 982.2,1298.0 977.5,1298.0 977.5,1300.8 972.8,1300.8 972.8,1302.5 968.1,1302.5 968.1,1299.1 963.3,1299.1 963.3,1298.4 958.6,1298.4 958.6,1301.3 953.9,1301.3 953.9,1297.9 949.2,1297.9 949.2,1297.8 944.5,1297.8 944.5,1300.3 939.7,1300.3 939.7,1299.1 935.0,1299.1 935.0,1301.2 930.3,1301.2 930.3,1297.3 925.6,1297.3 925.6,1299.6 920.9,1299.6 920.9,1299.8 916.1,1299.8 916.1,1297.9 911.4,1297.9 911.4,1295.7 906.7,1295.7 906.7,1299.4 902.0,1299.4 902.0,1294.2 897.3,1294.2 897.3,1294.4 892.5,1294.4 892.5,1296.3 887.8,1296.3 887.8,1291.2 883.1,1291.2 883.1,1292.4 878.4,1292.4 878.4,1286.5 873.7,1286.5 873.7,1284.9 868.9,1284.9 868.9,1283.8 864.2,1283.8 864.2,1285.5 859.5,1285.5 859.5,1284.9 854.8,1284.9 854.8,1283.8 850.1,1283.8 850.1,1278.6 845.3,1278.6 845.3,1282.1 840.6,1282.1 840.6,1281.0 835.9,1281.0 835.9,1280.3 831.2,1280.3 831.2,1279.5 826.5,1279.5 826.5,1282.6 821.7,1282.6 821.7,1283.8 817.0,1283.8 817.0,1280.0 812.3,1280.0 812.3,1281.0 807.6,1281.0 807.6,1283.7 802.9,1283.7 802.9,1286.0 798.1,1286.0 798.1,1288.3 793.4,1288.3 793.4,1292.7 788.7,1292.7 788.7,1294.2 784.0,1294.2 784.0,1302.3 779.3,1302.3 779.3,1302.6 774.5,1302.6 774.5,1311.2 769.8,1311.2 769.8,1312.0 765.1,1312.0 765.1,1307.9 760.4,1307.9 760.4,1310.2 755.7,1310.2 755.7,1306.5 750.9,1306.5 750.9,1310.6 746.2,1310.6 746.2,1310.1 741.5,1310.1 741.5,1309.4 736.8,1309.4 736.8,1305.0 732.1,1305.0 732.1,1307.2 727.3,1307.2 727.3,1306.2 722.6,1306.2 722.6,1304.1 717.9,1304.1 717.9,1304.5 713.2,1304.5 713.2,1306.7 708.5,1306.7 708.5,1306.0 703.7,1306.0 703.7,1304.6 699.0,1304.6 699.0,1302.1 694.3,1302.1" fill="#cccccc"/>
<polyline points="695.2,1288.6 698.4,1286.8 701.5,1290.8 704.6,1287.6 707.7,1290.0 710.8,1290.2 713.9,1286.5 717.1,1289.8 720.2,1290.4 723.3,1289.2 726.4,1288.6 729.5,1290.9 732.6,1290.0 735.7,1293.1 738.9,1292.4 742.0,1292.9 745.1,1294.9 748.2,1295.6 751.3,1296.1 754.4,1294.0 757.5,1294.3 760.7,1294.9 763.8,1294.6 766.9,1297.5 770.0,1295.5 773.1,1293.1 776.2,1281.0 779.4,1271.1 782.5,1257.5 785.6,1247.6 788.7,1232.2 791.8,1222.4 794.9,1208.3 798.0,1191.0 801.2,1184.1 804.3,1166.0 807.4,1161.3 810.5,1162.9 813.6,1163.6 816.7,1166.0 819.9,1168.5 823.0,1176.0 826.1,1182.2 829.2,1189.3 832.3,1195.6 835.4,1197.1 838.5,1201.5 841.7,1201.3 844.8,1209.7 847.9,1210.6 851.0,1212.0 854.1,1215.6 857.2,1210.0 860.3,1218.8 863.5,1216.2 866.6,1217.8 869.7,1215.0 872.8,1222.6 875.9,1218.1 879.0,1222.2 882.2,1222.1 885.3,1224.2 888.4,1223.2 891.5,1227.7 894.6,1227.1 897.7,1227.7 900.8,1226.3 904.0,1234.9 907.1,1228.6 910.2,1230.5 913.3,1233.8 916.4,1233.3 919.5,1236.9 922.7,1235.5 925.8,1240.3 928.9,1243.3 932.0,1245.6 935.1,1247.8 938.2,1248.5 941.3,1250.5 944.5,1246.1 947.6,1253.9 950.7,1257.7 953.8,1252.2 956.9,1253.0 960.0,1252.7 963.2,1254.2 966.3,1254.5 969.4,1254.1 972.5,1253.4 975.6,1256.4 978.7,1257.5 981.8,1255.8 985.0,1260.7 988.1,1265.7 991.2,1262.3 994.3,1267.4 997.4,1272.2 1000.5,1275.7 1003.6,1275.4 1006.8,1279.6 1009.9,1281.4 1013.0,1283.3 1016.1,1283.4 1019.2,1282.0 1022.3,1286.2 1025.5,1288.2 1028.6,1280.8 1031.7,1278.2 1034.8,1274.5 1037.9,1276.8 1041.0,1282.2 1044.1,1284.8 1047.3,1286.1 1050.4,1289.5 1053.5,1287.6 1056.6,1286.3 1059.7,1288.4 1062.8,1289.0 1066.0,1289.0 1069.1,1289.9 1072.2,1289.9 1075.3,1289.2 1078.4,1289.9 1081.5,1289.1 1084.6,1291.1 1087.8,1287.7 1090.9,1288.2 1094.0,1290.3 1097.1,1292.2 1100.2,1288.1 1103.3,1286.1 1106.5,1289.3 1109.6,1288.9 1112.7,1289.0 1115.8,1286.7 1118.9,1289.5 1122.0,1286.2 1125.1,1288.6 1128.3,1286.6 1131.4,1288.3 1134.5,1288.9 1137.6,1291.2 1140.7,1289.9 1143.8,1289.3 1146.9,1287.7 1150.1,1288.6 1153.2,1290.4 1156.3,1288.5 1159.4,1287.6 1162.5,1289.8 1165.6,1290.4" fill="none" stroke="#888888" stroke-width="3.5" stroke-linejoin="round" stroke-linecap="round"/>
<polyline points="695.2,1288.7 698.4,1286.3 701.5,1287.2 704.6,1286.1 707.7,1290.0 710.8,1287.6 713.9,1288.9 717.1,1292.5 720.2,1287.9 723.3,1293.0 726.4,1295.8 729.5,1293.9 732.6,1295.1 735.7,1294.0 738.9,1289.9 742.0,1292.1 745.1,1286.9 748.2,1291.8 751.3,1289.3 754.4,1291.9 757.5,1297.8 760.7,1293.8 763.8,1294.0 766.9,1293.6 770.0,1300.3 773.1,1290.6 776.2,1276.3 779.4,1266.2 782.5,1247.4 785.6,1229.3 788.7,1221.9 791.8,1207.3 794.9,1205.7 798.0,1190.8 801.2,1178.7 804.3,1178.6 807.4,1175.6 810.5,1181.1 813.6,1177.8 816.7,1177.0 819.9,1173.1 823.0,1175.6 826.1,1172.4 829.2,1174.0 832.3,1174.9 835.4,1171.8 838.5,1172.8 841.7,1176.0 844.8,1174.8 847.9,1180.9 851.0,1179.1 854.1,1177.2 857.2,1179.7 860.3,1177.3 863.5,1176.6 866.6,1182.1 869.7,1176.3 872.8,1183.7 875.9,1182.0 879.0,1192.0 882.2,1180.7 885.3,1186.1 888.4,1188.7 891.5,1187.7 894.6,1186.0 897.7,1194.8 900.8,1191.0 904.0,1197.9 907.1,1190.1 910.2,1191.0 913.3,1187.5 916.4,1187.4 919.5,1190.7 922.7,1189.4 925.8,1187.5 928.9,1190.8 932.0,1190.6 935.1,1194.2 938.2,1190.2 941.3,1186.0 944.5,1190.8 947.6,1193.2 950.7,1197.9 953.8,1195.8 956.9,1192.4 960.0,1196.2 963.2,1194.7 966.3,1199.1 969.4,1200.7 972.5,1200.7 975.6,1204.1 978.7,1205.4 981.8,1203.2 985.0,1204.6 988.1,1209.4 991.2,1202.0 994.3,1199.8 997.4,1203.5 1000.5,1206.3 1003.6,1209.0 1006.8,1209.0 1009.9,1208.2 1013.0,1206.2 1016.1,1209.7 1019.2,1211.8 1022.3,1215.8 1025.5,1214.2 1028.6,1218.2 1031.7,1211.1 1034.8,1214.1 1037.9,1214.5 1041.0,1208.7 1044.1,1208.2 1047.3,1213.7 1050.4,1218.2 1053.5,1212.3 1056.6,1217.6 1059.7,1215.5 1062.8,1220.8 1066.0,1218.5 1069.1,1217.6 1072.2,1218.7 1075.3,1218.6 1078.4,1212.4 1081.5,1215.7 1084.6,1213.6 1087.8,1217.6 1090.9,1221.3 1094.0,1224.3 1097.1,1230.8 1100.2,1234.3 1103.3,1235.0 1106.5,1237.0 1109.6,1241.1 1112.7,1238.2 1115.8,1240.7 1118.9,1238.7 1122.0,1246.5 1125.1,1241.0 1128.3,1249.3 1131.4,1249.2 1134.5,1252.9 1137.6,1260.6 1140.7,1259.7 1143.8,1257.9 1146.9,1258.4 1150.1,1263.7 1153.2,1260.3 1156.3,1262.5 1159.4,1269.0 1162.5,1266.3 1165.6,1272.2" fill="none" stroke="#00cdcb" stroke-width="3.5" stroke-linejoin="round" stroke-linecap="round"/>
<polyline points="695.2,1289.3 698.4,1290.1 701.5,1290.6 704.6,1292.1 707.7,1289.6 710.8,1291.7 713.9,1290.8 717.1,1292.2 720.2,1290.7 723.3,1292.4 726.4,1292.2 729.5,1291.8 732.6,1293.5 735.7,1294.1 738.9,1294.6 742.0,1294.8 745.1,1294.8 748.2,1295.7 751.3,1296.5 754.4,1296.1 757.5,1297.5 760.7,1299.6 763.8,1297.0 766.9,1301.6 770.0,1297.0 773.1,1297.2 776.2,1290.2 779.4,1280.7 782.5,1269.9 785.6,1263.6 788.7,1252.8 791.8,1243.9 794.9,1239.9 798.0,1235.7 801.2,1231.3 804.3,1230.7 807.4,1234.3 810.5,1238.1 813.6,1239.0 816.7,1241.7 819.9,1243.8 823.0,1247.4 826.1,1251.9 829.2,1253.3 832.3,1253.3 835.4,1252.9 838.5,1253.1 841.7,1253.7 844.8,1253.6 847.9,1255.6 851.0,1259.8 854.1,1260.0 857.2,1263.8 860.3,1261.9 863.5,1263.0 866.6,1265.5 869.7,1261.5 872.8,1261.1 875.9,1262.6 879.0,1266.3 882.2,1267.8 885.3,1263.8 888.4,1264.4 891.5,1265.7 894.6,1265.8 897.7,1267.1 900.8,1264.7 904.0,1267.6 907.1,1266.7 910.2,1265.1 913.3,1263.0 916.4,1263.8 919.5,1263.5 922.7,1263.3 925.8,1264.5 928.9,1266.8 932.0,1266.1 935.1,1266.8 938.2,1268.3 941.3,1268.0 944.5,1268.6 947.6,1270.8 950.7,1271.3 953.8,1269.5 956.9,1268.8 960.0,1268.7 963.2,1268.5 966.3,1269.8 969.4,1270.3 972.5,1271.4 975.6,1272.5 978.7,1274.8 981.8,1271.0 985.0,1269.5 988.1,1270.0 991.2,1267.2 994.3,1267.4 997.4,1268.6 1000.5,1271.3 1003.6,1270.4 1006.8,1272.1 1009.9,1277.2 1013.0,1276.4 1016.1,1276.6 1019.2,1279.7 1022.3,1276.4 1025.5,1279.5 1028.6,1278.9 1031.7,1280.5 1034.8,1280.1 1037.9,1280.4 1041.0,1279.1 1044.1,1281.9 1047.3,1281.1 1050.4,1281.3 1053.5,1283.0 1056.6,1282.4 1059.7,1285.3 1062.8,1285.5 1066.0,1284.7 1069.1,1286.7 1072.2,1286.0 1075.3,1285.5 1078.4,1286.5 1081.5,1286.8 1084.6,1287.6 1087.8,1286.0 1090.9,1287.3 1094.0,1290.7 1097.1,1286.7 1100.2,1286.1 1103.3,1287.6 1106.5,1287.3 1109.6,1290.3 1112.7,1287.4 1115.8,1289.1 1118.9,1290.4 1122.0,1289.0 1125.1,1290.5 1128.3,1292.4 1131.4,1291.5 1134.5,1291.0 1137.6,1292.2 1140.7,1291.5 1143.8,1293.0 1146.9,1294.6 1150.1,1290.9 1153.2,1292.0 1156.3,1292.1 1159.4,1295.1 1162.5,1293.2 1165.6,1291.5" fill="none" stroke="#33bbff" stroke-width="3.5" stroke-linejoin="round" stroke-linecap="round"/>
<polyline points="695.2,1291.3 697.8,1289.6 700.4,1288.3 703.0,1283.0 705.6,1282.3 708.2,1286.9 710.8,1287.7 713.4,1292.0 716.0,1288.7 718.6,1289.8 721.2,1286.4 723.8,1284.0 726.4,1290.3 729.0,1292.2 731.6,1291.0 734.2,1292.4 736.8,1292.9 739.4,1290.2 742.0,1292.0 744.6,1291.4 747.2,1295.6 749.8,1293.2 752.4,1295.3 755.0,1293.0 757.5,1296.7 760.1,1299.1 762.7,1300.8 765.3,1301.1 767.9,1301.1 770.5,1300.3 773.1,1285.3 775.7,1261.3 778.3,1237.9 780.9,1215.8 783.5,1192.5 786.1,1167.5 788.7,1148.0 791.3,1144.1 793.9,1140.8 796.5,1137.9 799.1,1135.9 801.7,1141.5 804.3,1147.8 806.9,1155.2 809.5,1160.5 812.1,1162.2 814.7,1167.3 817.3,1173.5 819.9,1180.8 822.4,1184.9 825.0,1188.0 827.6,1188.8 830.2,1194.9 832.8,1195.1 835.4,1197.8 838.0,1201.0 840.6,1203.9 843.2,1202.7 845.8,1202.8 848.4,1205.3 851.0,1205.1 853.6,1204.5 856.2,1206.6 858.8,1209.0 861.4,1208.0 864.0,1207.3 866.6,1205.6 869.2,1205.3 871.8,1206.9 874.4,1204.7 877.0,1206.5 879.6,1204.7 882.2,1204.6 884.8,1201.8 887.3,1207.1 889.9,1206.7 892.5,1204.2 895.1,1200.6 897.7,1205.0 900.3,1204.0 902.9,1201.4 905.5,1199.1 908.1,1204.6 910.7,1202.0 913.3,1200.6 915.9,1201.8 918.5,1204.1 921.1,1201.7 923.7,1205.0 926.3,1207.3 928.9,1206.2 931.5,1204.2 934.1,1206.1 936.7,1207.2 939.3,1209.8 941.9,1209.7 944.5,1204.1 947.1,1208.5 949.7,1208.4 952.2,1208.5 954.8,1206.5 957.4,1212.6 960.0,1209.7 962.6,1209.7 965.2,1213.3 967.8,1212.6 970.4,1209.9 973.0,1214.1 975.6,1213.1 978.2,1210.0 980.8,1215.9 983.4,1214.6 986.0,1218.8 988.6,1220.8 991.2,1219.3 993.8,1218.0 996.4,1221.5 999.0,1223.2 1001.6,1224.9 1004.2,1225.3 1006.8,1227.3 1009.4,1227.7 1012.0,1227.8 1014.6,1227.4 1017.1,1230.9 1019.7,1228.2 1022.3,1227.3 1024.9,1230.8 1027.5,1230.5 1030.1,1234.2 1032.7,1238.4 1035.3,1237.0 1037.9,1238.5 1040.5,1240.2 1043.1,1241.2 1045.7,1239.4 1048.3,1241.4 1050.9,1241.0 1053.5,1241.9 1056.1,1244.9 1058.7,1238.0 1061.3,1240.9 1063.9,1240.0 1066.5,1244.7 1069.1,1245.8 1071.7,1250.1 1074.3,1252.6 1076.9,1253.5 1079.5,1252.8 1082.0,1251.1 1084.6,1251.0 1087.2,1251.4 1089.8,1254.7 1092.4,1252.0 1095.0,1255.2 1097.6,1255.1 1100.2,1254.6 1102.8,1253.8 1105.4,1255.8 1108.0,1256.9 1110.6,1254.5 1113.2,1252.8 1115.8,1257.2 1118.4,1260.6 1121.0,1260.7 1123.6,1268.2 1126.2,1270.2 1128.8,1270.4 1131.4,1273.6 1134.0,1272.8 1136.6,1274.2 1139.2,1271.6 1141.8,1274.3 1144.4,1270.2 1146.9,1273.8 1149.5,1272.5 1152.1,1273.7 1154.7,1273.6 1157.3,1273.5 1159.9,1269.7 1162.5,1271.4 1165.1,1276.7" fill="none" stroke="#4040ff" stroke-width="3.5" stroke-linejoin="round" stroke-linecap="round"/>
<polyline points="695.2,1289.3 698.4,1288.4 701.5,1290.0 704.6,1290.5 707.7,1291.8 710.8,1291.0 713.9,1289.3 717.1,1290.8 720.2,1290.2 723.3,1291.8 726.4,1291.9 729.5,1292.6 732.6,1295.9 735.7,1292.3 738.9,1293.2 742.0,1293.6 745.1,1297.4 748.2,1297.8 751.3,1296.9 754.4,1296.6 757.5,1295.7 760.7,1296.6 763.8,1296.1 766.9,1298.3 770.0,1297.1 773.1,1295.7 776.2,1295.2 779.4,1286.5 782.5,1283.2 785.6,1277.1 788.7,1277.7 791.8,1275.8 794.9,1273.2 798.0,1270.8 801.2,1267.7 804.3,1267.5 807.4,1267.8 810.5,1267.9 813.6,1266.4 816.7,1262.9 819.9,1266.0 823.0,1264.4 826.1,1264.1 829.2,1267.1 832.3,1264.7 835.4,1262.7 838.5,1267.9 841.7,1265.3 844.8,1264.9 847.9,1267.7 851.0,1267.7 854.1,1270.6 857.2,1273.7 860.3,1270.7 863.5,1271.6 866.6,1271.7 869.7,1271.5 872.8,1273.8 875.9,1275.8 879.0,1279.9 882.2,1278.9 885.3,1282.8 888.4,1284.1 891.5,1285.3 894.6,1284.8 897.7,1284.0 900.8,1281.1 904.0,1286.2 907.1,1285.3 910.2,1282.6 913.3,1280.6 916.4,1281.9 919.5,1285.7 922.7,1286.6 925.8,1282.1 928.9,1283.7 932.0,1284.4 935.1,1281.3 938.2,1281.3 941.3,1283.0 944.5,1283.1 947.6,1283.0 950.7,1281.4 953.8,1283.1 956.9,1283.5 960.0,1283.6 963.2,1287.1 966.3,1282.9 969.4,1283.6 972.5,1284.5 975.6,1288.6 978.7,1286.7 981.8,1284.4 985.0,1288.6 988.1,1286.2 991.2,1284.4 994.3,1288.1 997.4,1283.6 1000.5,1285.3 1003.6,1286.5 1006.8,1285.8 1009.9,1285.4 1013.0,1286.3 1016.1,1284.8 1019.2,1287.7 1022.3,1287.3 1025.5,1285.2 1028.6,1286.8 1031.7,1288.3 1034.8,1285.5 1037.9,1284.8 1041.0,1287.8 1044.1,1289.4 1047.3,1287.5 1050.4,1287.6 1053.5,1287.9 1056.6,1285.3 1059.7,1289.2 1062.8,1285.7 1066.0,1289.7 1069.1,1289.0 1072.2,1286.9 1075.3,1286.2 1078.4,1286.7 1081.5,1287.6 1084.6,1288.1 1087.8,1288.2 1090.9,1287.6 1094.0,1288.9 1097.1,1288.3 1100.2,1287.9 1103.3,1288.9 1106.5,1287.8 1109.6,1288.2 1112.7,1286.1 1115.8,1288.8 1118.9,1290.1 1122.0,1290.1 1125.1,1289.6 1128.3,1288.3 1131.4,1290.3 1134.5,1289.3 1137.6,1287.2 1140.7,1294.1 1143.8,1292.0 1146.9,1290.0 1150.1,1289.8 1153.2,1290.2 1156.3,1291.3 1159.4,1289.7 1162.5,1290.4 1165.6,1291.8" fill="none" stroke="#333333" stroke-width="3.5" stroke-linejoin="round" stroke-linecap="round"/>
<path d="M688.0 1072.8V1322.0H1168.4" fill="none" stroke="#000" stroke-width="3.8" stroke-linecap="butt" stroke-linejoin="miter"/>
<line x1="679.6" y1="1115.4" x2="688.0" y2="1115.4" stroke="#000" stroke-width="3.42" stroke-linecap="butt"/>
<line x1="679.6" y1="1204.5" x2="688.0" y2="1204.5" stroke="#000" stroke-width="3.42" stroke-linecap="butt"/>
<line x1="679.6" y1="1293.2" x2="688.0" y2="1293.2" stroke="#000" stroke-width="3.42" stroke-linecap="butt"/>
<line x1="694.3" y1="1322.0" x2="694.3" y2="1332.9" stroke="#000" stroke-width="3.42" stroke-linecap="butt"/>
<line x1="788.7" y1="1322.0" x2="788.7" y2="1332.9" stroke="#000" stroke-width="3.42" stroke-linecap="butt"/>
<line x1="883.1" y1="1322.0" x2="883.1" y2="1332.9" stroke="#000" stroke-width="3.42" stroke-linecap="butt"/>
<line x1="977.5" y1="1322.0" x2="977.5" y2="1332.9" stroke="#000" stroke-width="3.42" stroke-linecap="butt"/>
<line x1="1071.9" y1="1322.0" x2="1071.9" y2="1332.9" stroke="#000" stroke-width="3.42" stroke-linecap="butt"/>
<line x1="1166.3" y1="1322.0" x2="1166.3" y2="1332.9" stroke="#000" stroke-width="3.42" stroke-linecap="butt"/>
<text x="679.0" y="1124.3" font-size="26.5" text-anchor="end" letter-spacing="1.8">0.4</text>
<text x="679.0" y="1213.4" font-size="26.5" text-anchor="end" letter-spacing="1.8">0.2</text>
<text x="677.2" y="1302.1" font-size="26.5" text-anchor="end">0</text>
<text x="694.3" y="1356.7" font-size="26.5" text-anchor="middle">0</text>
<text x="788.7" y="1356.7" font-size="26.5" text-anchor="middle">10</text>
<text x="883.1" y="1356.7" font-size="26.5" text-anchor="middle">20</text>
<text x="977.5" y="1356.7" font-size="26.5" text-anchor="middle">30</text>
<text x="1071.9" y="1356.7" font-size="26.5" text-anchor="middle">40</text>
<text x="1166.3" y="1356.7" font-size="26.5" text-anchor="middle">50</text>
<text x="928.6" y="1387.6" font-size="26.5" text-anchor="middle" textLength="92.0" lengthAdjust="spacing">Time (s)</text>
<text x="619.8" y="1265.1" font-size="26.5" textLength="48.2" lengthAdjust="spacing" transform="rotate(-90 619.8 1265.1)">AIB</text>
<text x="616.6" y="1205.6" font-size="24.3" style="font-family:'DejaVu Sans',sans-serif;font-weight:normal" transform="rotate(-90 616.6 1205.6)">△</text>
<text x="619.8" y="1176.8" font-size="26.5" textLength="41.2" lengthAdjust="spacing" transform="rotate(-90 619.8 1176.8)">F/F</text>
<text x="629.0" y="1135.3" font-size="16.5" transform="rotate(-90 629.0 1135.3)">0</text>
<rect x="917.1" y="1082.8" width="21.3" height="14.2" fill="#888888" rx="2.5" />
<rect x="917.1" y="1117.2" width="21.3" height="14.2" fill="#333333" rx="2.5" />
<text x="956.9" y="1098.8" font-size="26.5" textLength="255.5" lengthAdjust="spacing">ASH::HisCl1 (HIS -)</text>
<text x="956.9" y="1133.2" font-size="26.5" textLength="261.9" lengthAdjust="spacing">ASH::HisCl1 (HIS +)</text>
<rect x="1195.7" y="972.0" width="20.8" height="14.4" fill="#00a9ff" rx="2.5" />
<rect x="1195.7" y="1006.2" width="20.8" height="14.4" fill="#00cdcb" rx="2.5" />
<rect x="1195.7" y="1039.4" width="20.8" height="14.4" fill="#4040ff" rx="2.5" />
<text x="1234.8" y="988.3" font-size="26.5" font-style="italic" textLength="57.7" lengthAdjust="spacing">eat-4</text>
<text x="1234.8" y="1018.3" font-size="26.5" font-style="italic" textLength="231.5" lengthAdjust="spacing">eat-4; eat-4p::eat-4</text>
<text x="1234.8" y="1053.5" font-size="26.5" font-style="italic" textLength="213.2" lengthAdjust="spacing">eat-4; ASH::eat-4</text>
<path d="M1372.4 1090.6V1325.2H1588.2" fill="none" stroke="#000" stroke-width="3.8" stroke-linecap="butt" stroke-linejoin="miter"/>
<line x1="1364.0" y1="1097.5" x2="1372.4" y2="1097.5" stroke="#000" stroke-width="3.42" stroke-linecap="butt"/>
<line x1="1364.0" y1="1207.4" x2="1372.4" y2="1207.4" stroke="#000" stroke-width="3.42" stroke-linecap="butt"/>
<line x1="1364.0" y1="1315.9" x2="1372.4" y2="1315.9" stroke="#000" stroke-width="3.42" stroke-linecap="butt"/>
<line x1="1380.5" y1="1325.2" x2="1380.5" y2="1336.1" stroke="#000" stroke-width="3.42" stroke-linecap="butt"/>
<line x1="1586.6" y1="1325.2" x2="1586.6" y2="1336.1" stroke="#000" stroke-width="3.42" stroke-linecap="butt"/>
<text x="1360.2" y="1106.4" font-size="26.5" text-anchor="end">1</text>
<text x="1359.3" y="1216.3" font-size="26.5" text-anchor="end" letter-spacing="0.7">0.5</text>
<text x="1358.6" y="1324.8" font-size="26.5" text-anchor="end">0</text>
<text x="1307.7" y="1281.5" font-size="26.5" textLength="53.8" lengthAdjust="spacing" transform="rotate(-90 1307.7 1281.5)">Peak</text>
<text x="1304.2" y="1211.6" font-size="27" style="font-family:'DejaVu Sans',sans-serif;font-weight:normal" transform="rotate(-90 1304.2 1211.6)">△</text>
<text x="1307.7" y="1186.7" font-size="26.5" textLength="42.5" lengthAdjust="spacing" transform="rotate(-90 1307.7 1186.7)">F/F</text>
<text x="1316.9" y="1144.2" font-size="16.5" transform="rotate(-90 1316.9 1144.2)">0</text>
<rect x="1381.5" y="1242.6" width="32.6" height="73.7" fill="#888888" />
<rect x="1424.9" y="1296.0" width="32.6" height="20.3" fill="#333333" />
<rect x="1468.2" y="1281.7" width="32.6" height="34.6" fill="#00a9ff" />
<rect x="1511.6" y="1246.5" width="32.6" height="69.8" fill="#00cdcb" />
<rect x="1555.0" y="1223.0" width="32.6" height="93.3" fill="#4040ff" />
<line x1="1397.8" y1="1228.6" x2="1397.8" y2="1243.6" stroke="#888888" stroke-width="3.4" stroke-linecap="butt"/>
<line x1="1391.8" y1="1228.6" x2="1403.8" y2="1228.6" stroke="#888888" stroke-width="3.4" stroke-linecap="butt"/>
<line x1="1440.8" y1="1288.2" x2="1440.8" y2="1297.0" stroke="#333333" stroke-width="3.4" stroke-linecap="butt"/>
<line x1="1434.8" y1="1288.2" x2="1446.8" y2="1288.2" stroke="#333333" stroke-width="3.4" stroke-linecap="butt"/>
<line x1="1484.2" y1="1273.2" x2="1484.2" y2="1282.7" stroke="#00a9ff" stroke-width="3.4" stroke-linecap="butt"/>
<line x1="1478.2" y1="1273.2" x2="1490.2" y2="1273.2" stroke="#00a9ff" stroke-width="3.4" stroke-linecap="butt"/>
<line x1="1527.6" y1="1234.4" x2="1527.6" y2="1247.5" stroke="#00cdcb" stroke-width="3.4" stroke-linecap="butt"/>
<line x1="1521.6" y1="1234.4" x2="1533.6" y2="1234.4" stroke="#00cdcb" stroke-width="3.4" stroke-linecap="butt"/>
<line x1="1570.6" y1="1204.1" x2="1570.6" y2="1224.0" stroke="#4040ff" stroke-width="3.4" stroke-linecap="butt"/>
<line x1="1564.6" y1="1204.1" x2="1576.6" y2="1204.1" stroke="#4040ff" stroke-width="3.4" stroke-linecap="butt"/>
<circle cx="1397.8" cy="1153.9" r="3.0" fill="#fff" stroke="#000" stroke-width="2.4"/>
<circle cx="1397.8" cy="1181.3" r="3.0" fill="#fff" stroke="#000" stroke-width="2.4"/>
<circle cx="1397.8" cy="1201.8" r="3.0" fill="#fff" stroke="#000" stroke-width="2.4"/>
<circle cx="1397.8" cy="1205.7" r="3.0" fill="#fff" stroke="#000" stroke-width="2.4"/>
<circle cx="1397.8" cy="1223.0" r="3.0" fill="#fff" stroke="#000" stroke-width="2.4"/>
<circle cx="1397.8" cy="1251.4" r="3.0" fill="#fff" stroke="#000" stroke-width="2.4"/>
<circle cx="1397.8" cy="1265.1" r="3.0" fill="#fff" stroke="#000" stroke-width="2.4"/>
<circle cx="1397.8" cy="1275.8" r="3.0" fill="#fff" stroke="#000" stroke-width="2.4"/>
<circle cx="1397.8" cy="1280.7" r="3.0" fill="#fff" stroke="#000" stroke-width="2.4"/>
<circle cx="1397.8" cy="1292.8" r="3.0" fill="#fff" stroke="#000" stroke-width="2.4"/>
<circle cx="1397.8" cy="1299.6" r="3.0" fill="#fff" stroke="#000" stroke-width="2.4"/>
<circle cx="1397.8" cy="1303.5" r="3.0" fill="#fff" stroke="#000" stroke-width="2.4"/>
<circle cx="1440.2" cy="1200.8" r="3.0" fill="#fff" stroke="#000" stroke-width="2.4"/>
<circle cx="1440.2" cy="1274.2" r="3.0" fill="#fff" stroke="#000" stroke-width="2.4"/>
<circle cx="1440.2" cy="1288.9" r="3.0" fill="#fff" stroke="#000" stroke-width="2.4"/>
<circle cx="1440.2" cy="1293.8" r="3.0" fill="#fff" stroke="#000" stroke-width="2.4"/>
<circle cx="1440.2" cy="1298.7" r="3.0" fill="#fff" stroke="#000" stroke-width="2.4"/>
<circle cx="1440.2" cy="1303.5" r="3.0" fill="#fff" stroke="#000" stroke-width="2.4"/>
<circle cx="1440.2" cy="1308.4" r="3.0" fill="#fff" stroke="#000" stroke-width="2.4"/>
<circle cx="1440.2" cy="1312.7" r="3.0" fill="#fff" stroke="#000" stroke-width="2.4"/>
<circle cx="1440.2" cy="1315.6" r="3.0" fill="#fff" stroke="#000" stroke-width="2.4"/>
<circle cx="1483.9" cy="1244.9" r="3.0" fill="#fff" stroke="#000" stroke-width="2.4"/>
<circle cx="1483.9" cy="1263.4" r="3.0" fill="#fff" stroke="#000" stroke-width="2.4"/>
<circle cx="1483.9" cy="1275.2" r="3.0" fill="#fff" stroke="#000" stroke-width="2.4"/>
<circle cx="1483.9" cy="1280.7" r="3.0" fill="#fff" stroke="#000" stroke-width="2.4"/>
<circle cx="1483.9" cy="1284.0" r="3.0" fill="#fff" stroke="#000" stroke-width="2.4"/>
<circle cx="1483.9" cy="1290.5" r="3.0" fill="#fff" stroke="#000" stroke-width="2.4"/>
<circle cx="1483.9" cy="1295.4" r="3.0" fill="#fff" stroke="#000" stroke-width="2.4"/>
<circle cx="1483.9" cy="1300.3" r="3.0" fill="#fff" stroke="#000" stroke-width="2.4"/>
<circle cx="1483.9" cy="1303.5" r="3.0" fill="#fff" stroke="#000" stroke-width="2.4"/>
<circle cx="1527.6" cy="1201.8" r="3.0" fill="#fff" stroke="#000" stroke-width="2.4"/>
<circle cx="1527.6" cy="1209.0" r="3.0" fill="#fff" stroke="#000" stroke-width="2.4"/>
<circle cx="1527.6" cy="1218.8" r="3.0" fill="#fff" stroke="#000" stroke-width="2.4"/>
<circle cx="1527.6" cy="1223.0" r="3.0" fill="#fff" stroke="#000" stroke-width="2.4"/>
<circle cx="1527.6" cy="1235.1" r="3.0" fill="#fff" stroke="#000" stroke-width="2.4"/>
<circle cx="1527.6" cy="1241.6" r="3.0" fill="#fff" stroke="#000" stroke-width="2.4"/>
<circle cx="1527.6" cy="1257.9" r="3.0" fill="#fff" stroke="#000" stroke-width="2.4"/>
<circle cx="1527.6" cy="1271.9" r="3.0" fill="#fff" stroke="#000" stroke-width="2.4"/>
<circle cx="1527.6" cy="1279.7" r="3.0" fill="#fff" stroke="#000" stroke-width="2.4"/>
<circle cx="1527.6" cy="1288.9" r="3.0" fill="#fff" stroke="#000" stroke-width="2.4"/>
<circle cx="1527.6" cy="1293.1" r="3.0" fill="#fff" stroke="#000" stroke-width="2.4"/>
<circle cx="1570.6" cy="1118.7" r="3.0" fill="#fff" stroke="#000" stroke-width="2.4"/>
<circle cx="1570.6" cy="1169.5" r="3.0" fill="#fff" stroke="#000" stroke-width="2.4"/>
<circle cx="1570.6" cy="1198.6" r="3.0" fill="#fff" stroke="#000" stroke-width="2.4"/>
<circle cx="1570.6" cy="1201.8" r="3.0" fill="#fff" stroke="#000" stroke-width="2.4"/>
<circle cx="1570.6" cy="1210.0" r="3.0" fill="#fff" stroke="#000" stroke-width="2.4"/>
<circle cx="1570.6" cy="1228.6" r="3.0" fill="#fff" stroke="#000" stroke-width="2.4"/>
<circle cx="1570.6" cy="1231.8" r="3.0" fill="#fff" stroke="#000" stroke-width="2.4"/>
<circle cx="1570.6" cy="1245.5" r="3.0" fill="#fff" stroke="#000" stroke-width="2.4"/>
<circle cx="1570.6" cy="1248.1" r="3.0" fill="#fff" stroke="#000" stroke-width="2.4"/>
<circle cx="1570.6" cy="1257.9" r="3.0" fill="#fff" stroke="#000" stroke-width="2.4"/>
<circle cx="1570.6" cy="1274.2" r="3.0" fill="#fff" stroke="#000" stroke-width="2.4"/>
<circle cx="1570.6" cy="1277.5" r="3.0" fill="#fff" stroke="#000" stroke-width="2.4"/>
<line x1="1423.6" y1="1181.6" x2="1457.1" y2="1181.6" stroke="#000" stroke-width="3.6" stroke-linecap="butt"/>
<line x1="1467.6" y1="1226.0" x2="1499.5" y2="1226.0" stroke="#000" stroke-width="3.6" stroke-linecap="butt"/>
<line x1="1474.1" y1="1175.7" x2="1540.3" y2="1175.7" stroke="#000" stroke-width="3.6" stroke-linecap="butt"/>
<line x1="1478.7" y1="1102.0" x2="1576.2" y2="1102.0" stroke="#000" stroke-width="3.6" stroke-linecap="butt"/>
<text x="1441.9" y="1181.0" font-size="30.5" text-anchor="middle" fill="#12a5ff" stroke="#12a5ff" stroke-width="0.5" class="st" letter-spacing="3.4">**</text>
<text x="1485.6" y="1227.3" font-size="30.5" text-anchor="middle" fill="#12a5ff" stroke="#12a5ff" stroke-width="0.5" class="st" letter-spacing="3.4">**</text>
<text x="1508.4" y="1176.1" font-size="30.5" text-anchor="middle" fill="#12a5ff" stroke="#12a5ff" stroke-width="0.5" class="st" letter-spacing="3.4">**</text>
<text x="1528.9" y="1105.0" font-size="30.5" text-anchor="middle" fill="#12a5ff" stroke="#12a5ff" stroke-width="0.5" class="st" letter-spacing="3.4">***</text>
<text x="1689.0" y="999.3" font-size="52">h</text>
<polygon points="1807.9,998.7 1753.5,1090.6 1867.6,1090.6" fill="#40bfff"/>
<text x="1783.5" y="1075.3" font-size="26.5" textLength="53.8" lengthAdjust="spacing">ASH</text>
<text x="1741.1" y="1135.6" font-size="26.5" textLength="42.4" lengthAdjust="spacing">Glu</text>
<polygon points="1803,1110.2 1812.8,1110.2 1812.8,1135.6 1823.6,1135.6 1808.6,1160.1 1793.2,1135.6 1803,1135.6" fill="#1aa5ff"/>
<polygon points="1780.9,1198.2 1834.7,1198.2 1859.1,1245.5 1834.7,1292.8 1780.9,1292.8 1754.1,1245.5" fill="#40bfff"/>
<path d="M1790 1184 L1790.3 1206 Q1791.3 1215 1794 1211.5 L1801.6 1186 Q1804 1179.5 1805.9 1187 L1806.5 1207 Q1808.3 1219 1811.2 1210.5 L1815 1190 Q1817.7 1177.5 1819.9 1190 L1819.5 1211 Q1820.8 1222 1823.8 1212.5 L1827.6 1188 Q1831 1177.5 1832.9 1192 L1831.7 1216" fill="none" stroke="#ff0058" stroke-width="4.8" stroke-linecap="round" stroke-linejoin="round"/>
<text x="1842.0" y="1205.7" font-size="26.5" textLength="80.2" lengthAdjust="spacing">GLR-1</text>
<text x="1782.5" y="1255.6" font-size="26.5" textLength="47.6" lengthAdjust="spacing">AIB</text>
<polygon points="1803,1309.1 1812.8,1309.1 1812.8,1327.4 1823.6,1327.4 1808.6,1351.8 1793.2,1327.4 1803,1327.4" fill="#40bfff"/>
<text x="1758.0" y="1380.2" font-size="26.5" textLength="105.3" lengthAdjust="spacing">Reversal</text>
</svg>
</body></html>
